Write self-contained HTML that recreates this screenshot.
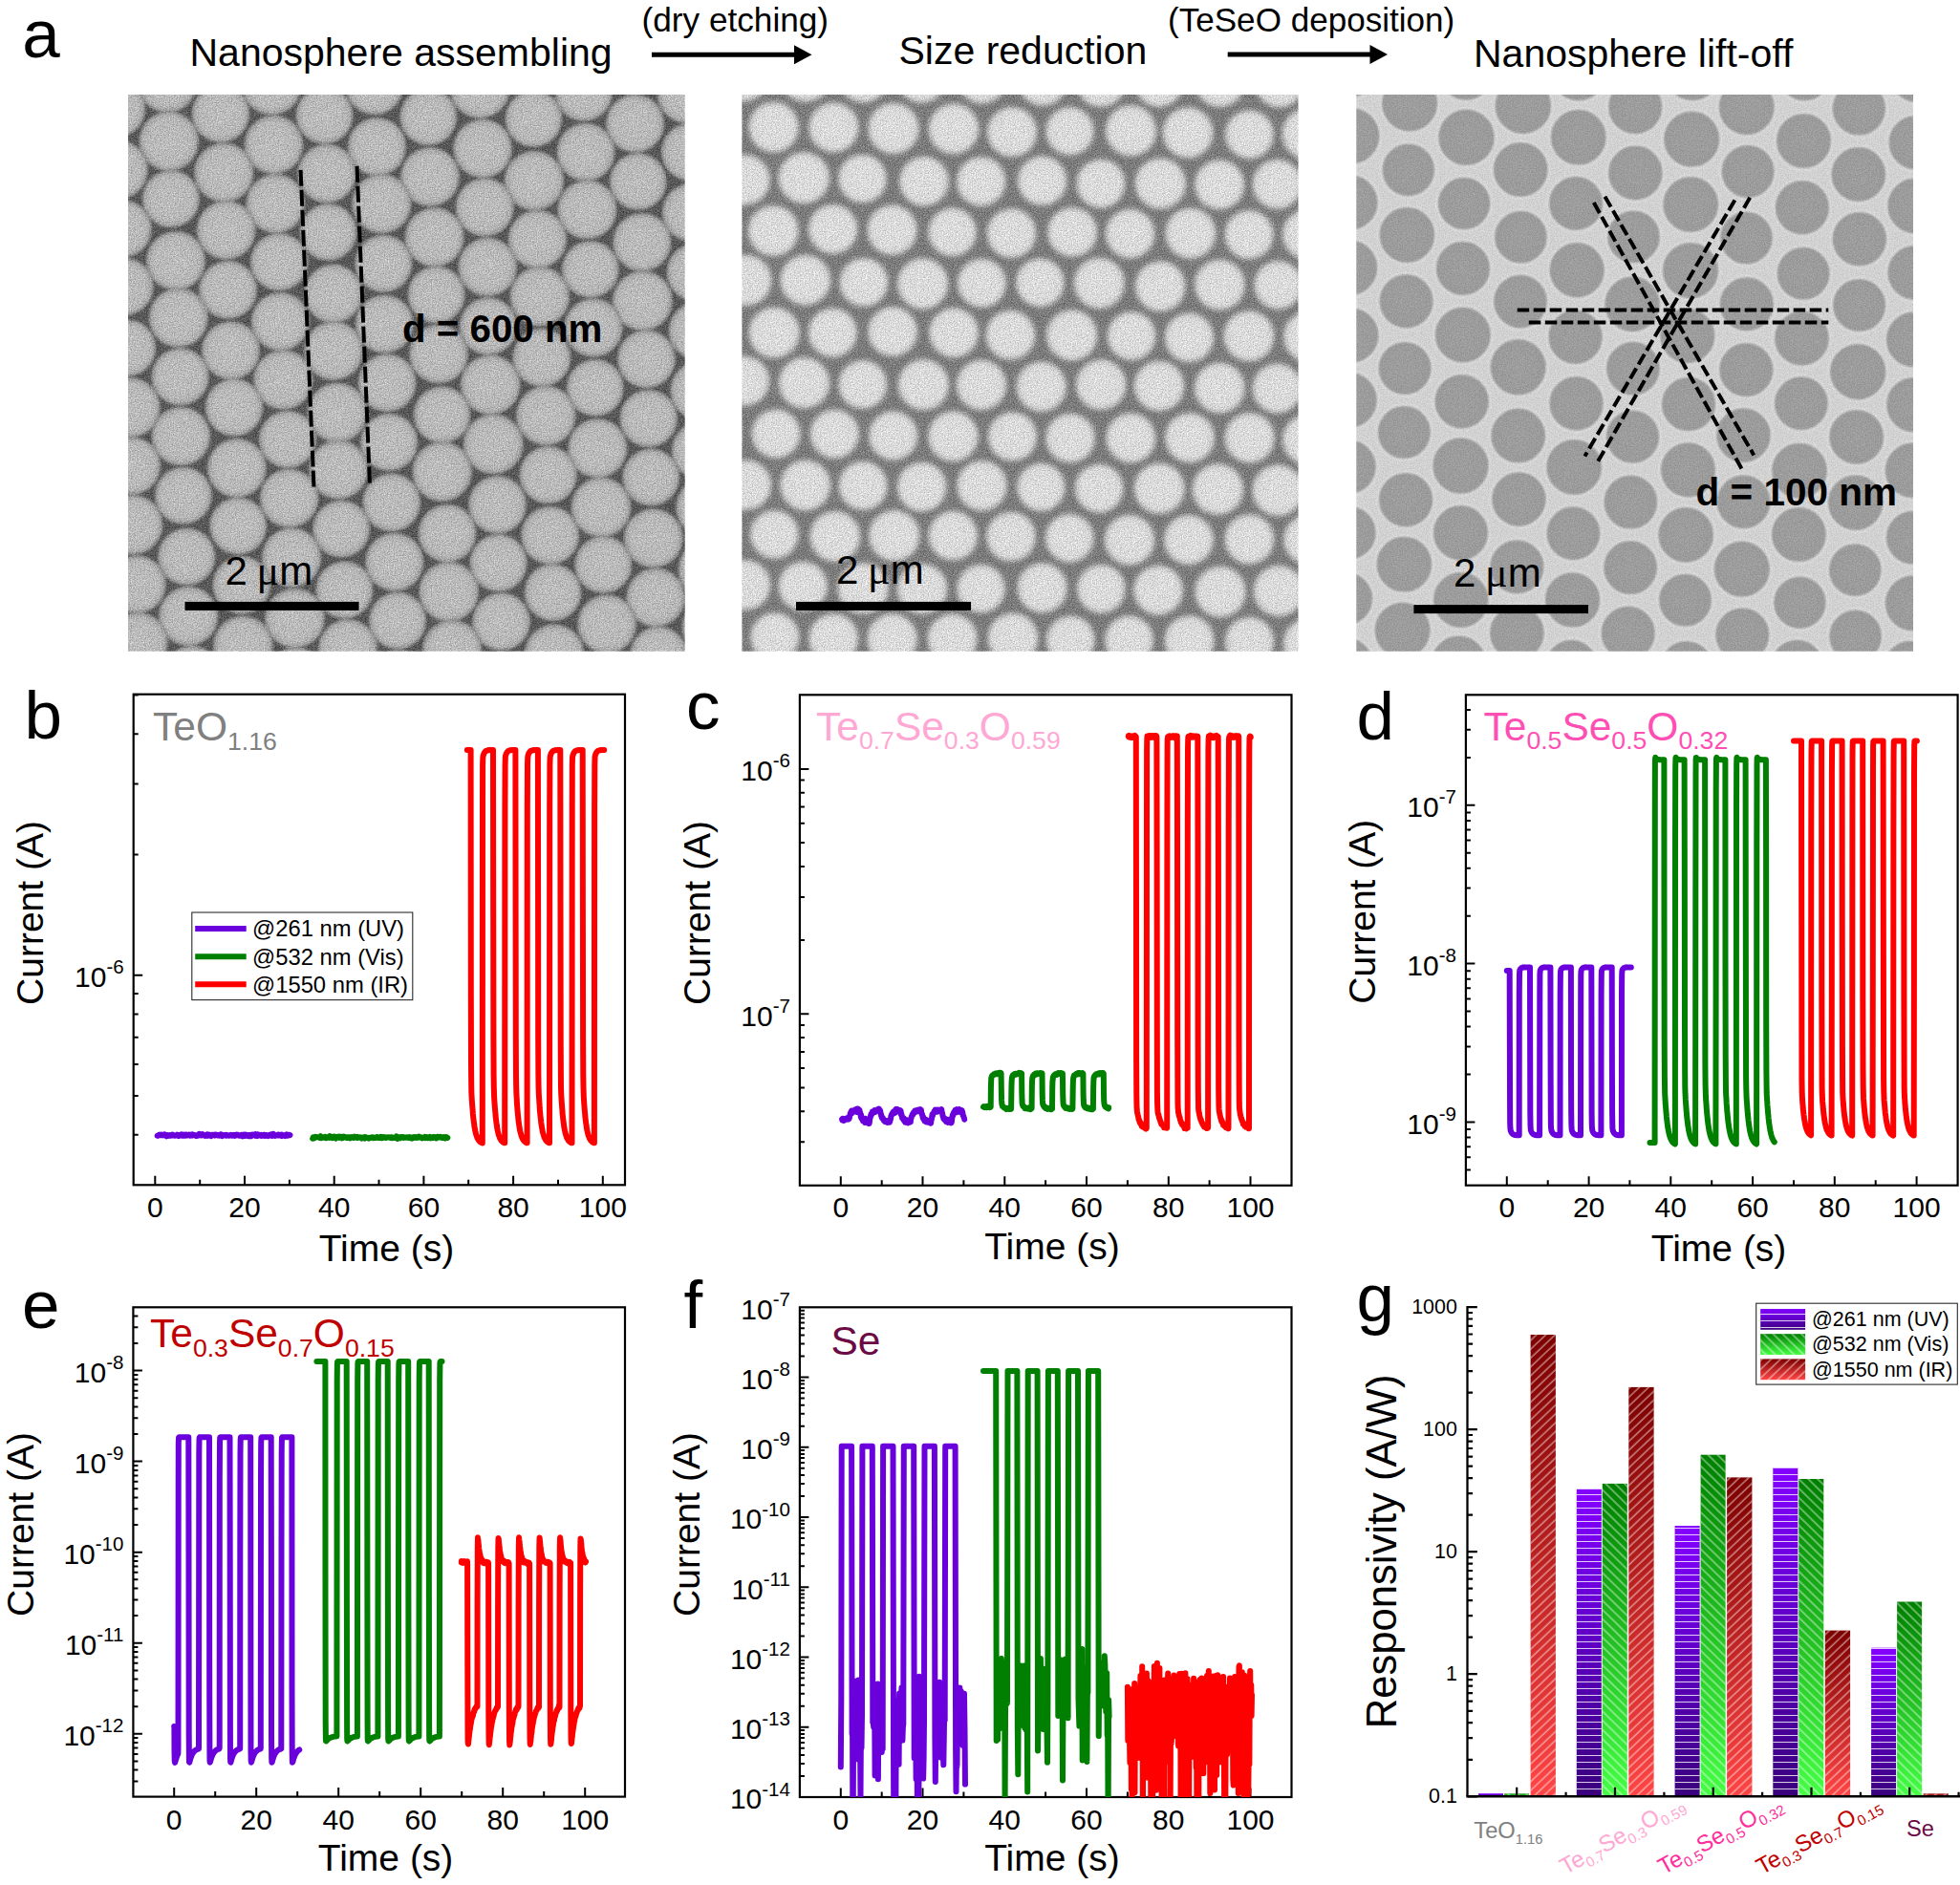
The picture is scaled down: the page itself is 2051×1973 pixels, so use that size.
<!DOCTYPE html>
<html><head><meta charset="utf-8"><title>Figure</title>
<style>
html,body{margin:0;padding:0;background:#fff;}
svg{display:block;font-family:"Liberation Sans", sans-serif;}
</style></head><body>
<svg width="2051" height="1973" viewBox="0 0 2051 1973">
<defs>
<filter id="nz1" x="0" y="0" width="100%" height="100%" filterUnits="objectBoundingBox" color-interpolation-filters="sRGB">
<feGaussianBlur in="SourceGraphic" stdDeviation="1.3" result="b"/>
<feTurbulence type="fractalNoise" baseFrequency="0.8" numOctaves="2" seed="3" result="t"/>
<feColorMatrix in="t" type="matrix" values="0 1.6 0 0 -0.3  0 1.6 0 0 -0.3  0 1.6 0 0 -0.3  0 0 0 0 1" result="n"/>
<feComposite in="b" in2="n" operator="arithmetic" k1="0" k2="1" k3="0.3" k4="-0.15"/>
</filter>
<filter id="nz2" x="0" y="0" width="100%" height="100%" filterUnits="objectBoundingBox" color-interpolation-filters="sRGB">
<feGaussianBlur in="SourceGraphic" stdDeviation="2.6" result="b"/>
<feTurbulence type="fractalNoise" baseFrequency="0.8" numOctaves="2" seed="7" result="t"/>
<feColorMatrix in="t" type="matrix" values="0 1.6 0 0 -0.3  0 1.6 0 0 -0.3  0 1.6 0 0 -0.3  0 0 0 0 1" result="n"/>
<feComposite in="b" in2="n" operator="arithmetic" k1="0" k2="1" k3="0.3" k4="-0.15"/>
</filter>
<filter id="nz3" x="0" y="0" width="100%" height="100%" filterUnits="objectBoundingBox" color-interpolation-filters="sRGB">
<feGaussianBlur in="SourceGraphic" stdDeviation="1.0" result="b"/>
<feTurbulence type="fractalNoise" baseFrequency="0.8" numOctaves="2" seed="11" result="t"/>
<feColorMatrix in="t" type="matrix" values="0 1.6 0 0 -0.3  0 1.6 0 0 -0.3  0 1.6 0 0 -0.3  0 0 0 0 1" result="n"/>
<feComposite in="b" in2="n" operator="arithmetic" k1="0" k2="1" k3="0.13" k4="-0.065"/>
</filter>
<clipPath id="clip0"><rect x="134.0" y="99.0" width="582.7" height="582.8"/></clipPath>
<clipPath id="clip1"><rect x="776.4" y="99.0" width="582.1" height="582.8"/></clipPath>
<clipPath id="clip2"><rect x="1419.3" y="99.0" width="582.7" height="582.8"/></clipPath>
<radialGradient id="sph1"><stop offset="0" stop-color="#bdbdbd"/><stop offset="0.74" stop-color="#b8b8b8"/><stop offset="0.9" stop-color="#a8a8a8"/><stop offset="1" stop-color="#808080"/></radialGradient>
<radialGradient id="sph2"><stop offset="0" stop-color="#dcdcdc"/><stop offset="0.8" stop-color="#d9d9d9"/><stop offset="1" stop-color="#c4c4c4"/></radialGradient>
<radialGradient id="sph3"><stop offset="0" stop-color="#9e9e9e"/><stop offset="0.9" stop-color="#9b9b9b"/><stop offset="1" stop-color="#929292"/></radialGradient>
<clipPath id="clipf"><rect x="836.9" y="1368.3" width="514.6" height="512.7"/></clipPath>
<linearGradient id="gp" x1="0" y1="0" x2="0" y2="1"><stop offset="0" stop-color="#8400ff"/><stop offset="0.35" stop-color="#6a00d8"/><stop offset="1" stop-color="#3a007c"/></linearGradient>
<linearGradient id="gg" x1="0" y1="0" x2="0" y2="1"><stop offset="0" stop-color="#007f00"/><stop offset="1" stop-color="#45ff45"/></linearGradient>
<linearGradient id="gr" x1="0" y1="0" x2="0" y2="1"><stop offset="0" stop-color="#7c0000"/><stop offset="1" stop-color="#ff4545"/></linearGradient>
<pattern id="hp" width="10" height="7" patternUnits="userSpaceOnUse"><path d="M0 3.5H10" stroke="#fff" stroke-width="1" stroke-opacity="0.8"/></pattern>
<pattern id="hg" width="6.9" height="6.9" patternUnits="userSpaceOnUse" patternTransform="rotate(44.4)"><path d="M0 3H6.9" stroke="#fff" stroke-width="1" stroke-opacity="0.75"/></pattern>
<pattern id="hr" width="6.7" height="6.7" patternUnits="userSpaceOnUse" patternTransform="rotate(-43.5)"><path d="M0 3H6.7" stroke="#fff" stroke-width="1" stroke-opacity="0.75"/></pattern>
</defs>
<rect width="2051" height="1973" fill="#fff"/>
<text x="23.2" y="60" font-size="71" fill="#000">a</text>
<text x="198.5" y="68.6" font-size="41" fill="#000">Nanosphere assembling</text>
<text x="671.5" y="33" font-size="35.2" fill="#000">(dry etching)</text>
<text x="940.5" y="67.3" font-size="41" fill="#000">Size reduction</text>
<text x="1222" y="33.4" font-size="35.1" fill="#000">(TeSeO deposition)</text>
<text x="1542" y="69.5" font-size="41" fill="#000">Nanosphere lift-off</text>
<path d="M682 57.2H833.5" stroke="#000" stroke-width="5" fill="none"/>
<path d="M849.5 57.2L831.0 47.2V67.2Z" fill="#000"/>
<path d="M1284.7 56.9H1436" stroke="#000" stroke-width="5" fill="none"/>
<path d="M1452 56.9L1433.5 46.9V66.9Z" fill="#000"/>
<g clip-path="url(#clip0)"><g filter="url(#nz1)">
<rect x="124.0" y="89.0" width="602.7" height="602.8" fill="#585858"/>
<circle cx="662.3" cy="67.2" r="31.4" fill="url(#sph1)"/>
<circle cx="718.4" cy="98.5" r="30.9" fill="url(#sph1)"/>
<circle cx="610.8" cy="96.8" r="30.4" fill="url(#sph1)"/>
<circle cx="664.6" cy="129.2" r="30.9" fill="url(#sph1)"/>
<circle cx="722.5" cy="159.0" r="30.9" fill="url(#sph1)"/>
<circle cx="502.2" cy="92.5" r="31.7" fill="url(#sph1)"/>
<circle cx="558.4" cy="124.2" r="30.2" fill="url(#sph1)"/>
<circle cx="613.0" cy="159.2" r="30.8" fill="url(#sph1)"/>
<circle cx="667.7" cy="190.0" r="30.2" fill="url(#sph1)"/>
<circle cx="723.5" cy="222.3" r="31.0" fill="url(#sph1)"/>
<circle cx="391.9" cy="89.9" r="30.6" fill="url(#sph1)"/>
<circle cx="448.3" cy="122.4" r="30.2" fill="url(#sph1)"/>
<circle cx="505.1" cy="155.5" r="31.2" fill="url(#sph1)"/>
<circle cx="558.9" cy="189.1" r="31.6" fill="url(#sph1)"/>
<circle cx="614.4" cy="219.4" r="31.4" fill="url(#sph1)"/>
<circle cx="671.8" cy="253.5" r="30.9" fill="url(#sph1)"/>
<circle cx="727.9" cy="285.0" r="30.7" fill="url(#sph1)"/>
<circle cx="284.2" cy="89.2" r="31.6" fill="url(#sph1)"/>
<circle cx="339.6" cy="120.7" r="30.3" fill="url(#sph1)"/>
<circle cx="394.5" cy="153.6" r="30.9" fill="url(#sph1)"/>
<circle cx="450.0" cy="185.1" r="31.3" fill="url(#sph1)"/>
<circle cx="507.2" cy="216.9" r="30.9" fill="url(#sph1)"/>
<circle cx="562.4" cy="250.4" r="31.0" fill="url(#sph1)"/>
<circle cx="617.8" cy="281.9" r="30.2" fill="url(#sph1)"/>
<circle cx="672.4" cy="314.8" r="31.8" fill="url(#sph1)"/>
<circle cx="729.8" cy="346.2" r="30.5" fill="url(#sph1)"/>
<circle cx="175.1" cy="86.9" r="31.4" fill="url(#sph1)"/>
<circle cx="230.9" cy="118.9" r="30.6" fill="url(#sph1)"/>
<circle cx="286.5" cy="151.5" r="31.1" fill="url(#sph1)"/>
<circle cx="342.1" cy="181.7" r="31.1" fill="url(#sph1)"/>
<circle cx="399.3" cy="213.2" r="31.5" fill="url(#sph1)"/>
<circle cx="454.6" cy="248.2" r="31.4" fill="url(#sph1)"/>
<circle cx="510.2" cy="279.4" r="31.1" fill="url(#sph1)"/>
<circle cx="564.8" cy="310.3" r="31.6" fill="url(#sph1)"/>
<circle cx="620.9" cy="343.0" r="31.0" fill="url(#sph1)"/>
<circle cx="676.4" cy="375.8" r="30.8" fill="url(#sph1)"/>
<circle cx="732.2" cy="408.9" r="31.2" fill="url(#sph1)"/>
<circle cx="121.9" cy="113.8" r="30.6" fill="url(#sph1)"/>
<circle cx="176.7" cy="147.8" r="31.6" fill="url(#sph1)"/>
<circle cx="234.3" cy="180.7" r="31.5" fill="url(#sph1)"/>
<circle cx="288.4" cy="213.1" r="31.3" fill="url(#sph1)"/>
<circle cx="343.5" cy="243.0" r="30.2" fill="url(#sph1)"/>
<circle cx="401.3" cy="275.9" r="30.4" fill="url(#sph1)"/>
<circle cx="456.6" cy="308.5" r="30.3" fill="url(#sph1)"/>
<circle cx="510.9" cy="341.4" r="30.5" fill="url(#sph1)"/>
<circle cx="566.9" cy="374.2" r="30.9" fill="url(#sph1)"/>
<circle cx="622.8" cy="405.8" r="30.2" fill="url(#sph1)"/>
<circle cx="678.7" cy="438.0" r="30.5" fill="url(#sph1)"/>
<circle cx="733.5" cy="471.7" r="31.0" fill="url(#sph1)"/>
<circle cx="123.7" cy="177.5" r="31.5" fill="url(#sph1)"/>
<circle cx="178.9" cy="208.1" r="30.4" fill="url(#sph1)"/>
<circle cx="236.7" cy="240.8" r="31.3" fill="url(#sph1)"/>
<circle cx="292.2" cy="274.2" r="30.6" fill="url(#sph1)"/>
<circle cx="348.8" cy="307.3" r="31.0" fill="url(#sph1)"/>
<circle cx="402.3" cy="339.1" r="30.8" fill="url(#sph1)"/>
<circle cx="459.0" cy="370.5" r="31.2" fill="url(#sph1)"/>
<circle cx="513.2" cy="402.7" r="31.7" fill="url(#sph1)"/>
<circle cx="571.3" cy="435.0" r="31.6" fill="url(#sph1)"/>
<circle cx="625.3" cy="469.2" r="31.4" fill="url(#sph1)"/>
<circle cx="681.3" cy="499.5" r="30.2" fill="url(#sph1)"/>
<circle cx="738.4" cy="531.1" r="31.5" fill="url(#sph1)"/>
<circle cx="128.6" cy="239.4" r="30.5" fill="url(#sph1)"/>
<circle cx="184.0" cy="272.9" r="31.3" fill="url(#sph1)"/>
<circle cx="238.6" cy="303.4" r="30.8" fill="url(#sph1)"/>
<circle cx="293.4" cy="336.6" r="30.9" fill="url(#sph1)"/>
<circle cx="349.1" cy="367.2" r="31.3" fill="url(#sph1)"/>
<circle cx="405.1" cy="400.7" r="30.7" fill="url(#sph1)"/>
<circle cx="462.5" cy="434.2" r="30.2" fill="url(#sph1)"/>
<circle cx="516.2" cy="464.8" r="31.8" fill="url(#sph1)"/>
<circle cx="573.6" cy="497.1" r="30.5" fill="url(#sph1)"/>
<circle cx="629.0" cy="530.9" r="31.7" fill="url(#sph1)"/>
<circle cx="683.7" cy="563.3" r="31.3" fill="url(#sph1)"/>
<circle cx="739.9" cy="596.0" r="30.6" fill="url(#sph1)"/>
<circle cx="130.5" cy="300.0" r="30.5" fill="url(#sph1)"/>
<circle cx="186.7" cy="332.6" r="31.4" fill="url(#sph1)"/>
<circle cx="241.5" cy="366.8" r="30.8" fill="url(#sph1)"/>
<circle cx="296.4" cy="397.5" r="31.6" fill="url(#sph1)"/>
<circle cx="352.9" cy="431.8" r="31.6" fill="url(#sph1)"/>
<circle cx="407.2" cy="462.9" r="30.4" fill="url(#sph1)"/>
<circle cx="462.6" cy="493.7" r="31.6" fill="url(#sph1)"/>
<circle cx="520.6" cy="528.3" r="30.7" fill="url(#sph1)"/>
<circle cx="575.7" cy="560.4" r="30.8" fill="url(#sph1)"/>
<circle cx="631.3" cy="591.1" r="30.3" fill="url(#sph1)"/>
<circle cx="686.1" cy="625.4" r="31.1" fill="url(#sph1)"/>
<circle cx="743.8" cy="656.4" r="30.6" fill="url(#sph1)"/>
<circle cx="133.3" cy="364.2" r="30.2" fill="url(#sph1)"/>
<circle cx="188.6" cy="394.3" r="30.4" fill="url(#sph1)"/>
<circle cx="245.0" cy="426.4" r="30.6" fill="url(#sph1)"/>
<circle cx="301.0" cy="459.9" r="30.4" fill="url(#sph1)"/>
<circle cx="354.2" cy="491.6" r="31.4" fill="url(#sph1)"/>
<circle cx="409.7" cy="525.9" r="30.8" fill="url(#sph1)"/>
<circle cx="468.0" cy="558.2" r="30.7" fill="url(#sph1)"/>
<circle cx="521.6" cy="589.2" r="30.4" fill="url(#sph1)"/>
<circle cx="578.5" cy="620.2" r="30.2" fill="url(#sph1)"/>
<circle cx="635.1" cy="653.3" r="31.2" fill="url(#sph1)"/>
<circle cx="689.2" cy="685.6" r="30.3" fill="url(#sph1)"/>
<circle cx="136.2" cy="426.6" r="31.8" fill="url(#sph1)"/>
<circle cx="189.5" cy="456.6" r="31.2" fill="url(#sph1)"/>
<circle cx="247.8" cy="489.9" r="31.3" fill="url(#sph1)"/>
<circle cx="302.6" cy="521.4" r="31.1" fill="url(#sph1)"/>
<circle cx="357.2" cy="553.6" r="30.3" fill="url(#sph1)"/>
<circle cx="412.8" cy="588.2" r="30.9" fill="url(#sph1)"/>
<circle cx="469.7" cy="619.4" r="31.7" fill="url(#sph1)"/>
<circle cx="524.6" cy="650.7" r="30.7" fill="url(#sph1)"/>
<circle cx="580.1" cy="684.6" r="31.6" fill="url(#sph1)"/>
<circle cx="635.7" cy="715.4" r="31.1" fill="url(#sph1)"/>
<circle cx="137.8" cy="487.5" r="30.6" fill="url(#sph1)"/>
<circle cx="191.9" cy="518.7" r="30.3" fill="url(#sph1)"/>
<circle cx="249.2" cy="550.5" r="30.3" fill="url(#sph1)"/>
<circle cx="305.1" cy="583.5" r="31.5" fill="url(#sph1)"/>
<circle cx="360.4" cy="617.5" r="30.4" fill="url(#sph1)"/>
<circle cx="416.1" cy="649.6" r="30.3" fill="url(#sph1)"/>
<circle cx="473.1" cy="680.0" r="31.4" fill="url(#sph1)"/>
<circle cx="529.0" cy="714.3" r="30.7" fill="url(#sph1)"/>
<circle cx="139.0" cy="549.2" r="31.7" fill="url(#sph1)"/>
<circle cx="195.3" cy="582.7" r="30.4" fill="url(#sph1)"/>
<circle cx="252.8" cy="612.4" r="30.7" fill="url(#sph1)"/>
<circle cx="308.5" cy="647.0" r="31.7" fill="url(#sph1)"/>
<circle cx="364.0" cy="679.1" r="31.3" fill="url(#sph1)"/>
<circle cx="417.7" cy="710.5" r="30.5" fill="url(#sph1)"/>
<circle cx="143.4" cy="611.7" r="30.6" fill="url(#sph1)"/>
<circle cx="197.2" cy="644.9" r="31.5" fill="url(#sph1)"/>
<circle cx="254.3" cy="675.9" r="31.6" fill="url(#sph1)"/>
<circle cx="309.8" cy="707.8" r="30.7" fill="url(#sph1)"/>
<circle cx="144.7" cy="671.8" r="31.2" fill="url(#sph1)"/>
<circle cx="200.9" cy="705.7" r="30.3" fill="url(#sph1)"/>
</g></g>
<g clip-path="url(#clip1)"><g filter="url(#nz2)">
<rect x="766.4" y="89.0" width="602.1" height="602.8" fill="#7b7b7b"/>
<circle cx="750.0" cy="667.1" r="25.6" fill="url(#sph2)"/>
<circle cx="747.4" cy="560.3" r="26.7" fill="url(#sph2)"/>
<circle cx="780.1" cy="612.3" r="26.5" fill="url(#sph2)"/>
<circle cx="810.9" cy="666.7" r="25.8" fill="url(#sph2)"/>
<circle cx="748.4" cy="452.5" r="26.7" fill="url(#sph2)"/>
<circle cx="781.1" cy="507.7" r="26.4" fill="url(#sph2)"/>
<circle cx="810.4" cy="559.3" r="25.6" fill="url(#sph2)"/>
<circle cx="840.2" cy="613.5" r="26.0" fill="url(#sph2)"/>
<circle cx="872.2" cy="668.4" r="26.3" fill="url(#sph2)"/>
<circle cx="748.8" cy="345.5" r="25.5" fill="url(#sph2)"/>
<circle cx="779.1" cy="398.8" r="26.3" fill="url(#sph2)"/>
<circle cx="812.1" cy="454.0" r="25.8" fill="url(#sph2)"/>
<circle cx="842.8" cy="508.0" r="26.7" fill="url(#sph2)"/>
<circle cx="873.8" cy="561.5" r="26.8" fill="url(#sph2)"/>
<circle cx="903.2" cy="615.7" r="27.0" fill="url(#sph2)"/>
<circle cx="933.6" cy="668.7" r="26.6" fill="url(#sph2)"/>
<circle cx="748.5" cy="239.9" r="26.3" fill="url(#sph2)"/>
<circle cx="780.9" cy="293.4" r="26.8" fill="url(#sph2)"/>
<circle cx="810.2" cy="348.1" r="26.9" fill="url(#sph2)"/>
<circle cx="841.5" cy="400.8" r="27.0" fill="url(#sph2)"/>
<circle cx="873.3" cy="454.2" r="25.9" fill="url(#sph2)"/>
<circle cx="903.1" cy="508.4" r="25.8" fill="url(#sph2)"/>
<circle cx="935.8" cy="560.7" r="27.0" fill="url(#sph2)"/>
<circle cx="965.0" cy="616.4" r="26.6" fill="url(#sph2)"/>
<circle cx="996.6" cy="668.7" r="26.5" fill="url(#sph2)"/>
<circle cx="748.9" cy="132.7" r="25.8" fill="url(#sph2)"/>
<circle cx="779.6" cy="188.2" r="26.5" fill="url(#sph2)"/>
<circle cx="809.3" cy="241.5" r="26.7" fill="url(#sph2)"/>
<circle cx="842.8" cy="293.2" r="26.7" fill="url(#sph2)"/>
<circle cx="871.3" cy="348.2" r="25.9" fill="url(#sph2)"/>
<circle cx="902.8" cy="402.4" r="25.7" fill="url(#sph2)"/>
<circle cx="934.7" cy="456.0" r="25.9" fill="url(#sph2)"/>
<circle cx="964.7" cy="509.6" r="26.2" fill="url(#sph2)"/>
<circle cx="997.3" cy="560.7" r="26.1" fill="url(#sph2)"/>
<circle cx="1026.6" cy="616.2" r="25.6" fill="url(#sph2)"/>
<circle cx="1060.0" cy="667.9" r="26.7" fill="url(#sph2)"/>
<circle cx="778.2" cy="79.7" r="26.8" fill="url(#sph2)"/>
<circle cx="809.6" cy="133.1" r="26.6" fill="url(#sph2)"/>
<circle cx="841.3" cy="186.2" r="27.1" fill="url(#sph2)"/>
<circle cx="871.6" cy="239.8" r="26.1" fill="url(#sph2)"/>
<circle cx="903.9" cy="295.5" r="25.7" fill="url(#sph2)"/>
<circle cx="934.1" cy="347.0" r="26.2" fill="url(#sph2)"/>
<circle cx="966.4" cy="402.7" r="26.9" fill="url(#sph2)"/>
<circle cx="997.4" cy="456.7" r="26.6" fill="url(#sph2)"/>
<circle cx="1027.5" cy="508.4" r="26.6" fill="url(#sph2)"/>
<circle cx="1058.0" cy="561.6" r="26.2" fill="url(#sph2)"/>
<circle cx="1090.7" cy="615.3" r="26.4" fill="url(#sph2)"/>
<circle cx="1120.3" cy="670.0" r="25.7" fill="url(#sph2)"/>
<circle cx="843.0" cy="80.4" r="26.5" fill="url(#sph2)"/>
<circle cx="872.4" cy="133.3" r="26.4" fill="url(#sph2)"/>
<circle cx="902.5" cy="187.0" r="25.6" fill="url(#sph2)"/>
<circle cx="933.6" cy="240.7" r="26.5" fill="url(#sph2)"/>
<circle cx="965.6" cy="297.0" r="27.0" fill="url(#sph2)"/>
<circle cx="998.1" cy="348.3" r="26.2" fill="url(#sph2)"/>
<circle cx="1026.9" cy="403.0" r="26.5" fill="url(#sph2)"/>
<circle cx="1059.5" cy="456.9" r="25.9" fill="url(#sph2)"/>
<circle cx="1089.4" cy="510.0" r="25.5" fill="url(#sph2)"/>
<circle cx="1119.2" cy="563.2" r="25.7" fill="url(#sph2)"/>
<circle cx="1152.3" cy="616.3" r="25.7" fill="url(#sph2)"/>
<circle cx="1181.6" cy="669.9" r="25.8" fill="url(#sph2)"/>
<circle cx="903.7" cy="81.7" r="26.0" fill="url(#sph2)"/>
<circle cx="935.0" cy="134.5" r="27.0" fill="url(#sph2)"/>
<circle cx="967.0" cy="189.7" r="26.2" fill="url(#sph2)"/>
<circle cx="996.6" cy="242.8" r="25.6" fill="url(#sph2)"/>
<circle cx="1027.4" cy="296.3" r="25.8" fill="url(#sph2)"/>
<circle cx="1057.4" cy="350.7" r="26.1" fill="url(#sph2)"/>
<circle cx="1089.7" cy="404.7" r="26.5" fill="url(#sph2)"/>
<circle cx="1120.0" cy="458.5" r="26.1" fill="url(#sph2)"/>
<circle cx="1150.2" cy="511.2" r="25.7" fill="url(#sph2)"/>
<circle cx="1182.0" cy="565.2" r="26.6" fill="url(#sph2)"/>
<circle cx="1212.1" cy="617.7" r="26.2" fill="url(#sph2)"/>
<circle cx="1244.6" cy="670.5" r="26.4" fill="url(#sph2)"/>
<circle cx="964.3" cy="81.9" r="26.1" fill="url(#sph2)"/>
<circle cx="997.9" cy="134.8" r="26.7" fill="url(#sph2)"/>
<circle cx="1026.7" cy="189.9" r="26.1" fill="url(#sph2)"/>
<circle cx="1058.5" cy="244.1" r="26.1" fill="url(#sph2)"/>
<circle cx="1088.5" cy="295.8" r="25.6" fill="url(#sph2)"/>
<circle cx="1121.7" cy="350.9" r="27.0" fill="url(#sph2)"/>
<circle cx="1152.2" cy="402.7" r="26.6" fill="url(#sph2)"/>
<circle cx="1183.4" cy="458.4" r="26.3" fill="url(#sph2)"/>
<circle cx="1213.2" cy="511.2" r="26.8" fill="url(#sph2)"/>
<circle cx="1243.9" cy="565.0" r="26.3" fill="url(#sph2)"/>
<circle cx="1277.0" cy="619.4" r="27.0" fill="url(#sph2)"/>
<circle cx="1307.6" cy="671.5" r="25.9" fill="url(#sph2)"/>
<circle cx="1027.6" cy="82.5" r="26.2" fill="url(#sph2)"/>
<circle cx="1059.1" cy="138.1" r="26.4" fill="url(#sph2)"/>
<circle cx="1090.6" cy="189.2" r="26.1" fill="url(#sph2)"/>
<circle cx="1122.1" cy="242.9" r="26.2" fill="url(#sph2)"/>
<circle cx="1150.3" cy="296.4" r="26.9" fill="url(#sph2)"/>
<circle cx="1184.1" cy="351.6" r="25.7" fill="url(#sph2)"/>
<circle cx="1213.0" cy="404.0" r="26.6" fill="url(#sph2)"/>
<circle cx="1245.1" cy="458.2" r="26.3" fill="url(#sph2)"/>
<circle cx="1274.4" cy="512.1" r="27.0" fill="url(#sph2)"/>
<circle cx="1307.4" cy="564.4" r="26.3" fill="url(#sph2)"/>
<circle cx="1338.2" cy="618.5" r="26.9" fill="url(#sph2)"/>
<circle cx="1368.5" cy="673.4" r="26.1" fill="url(#sph2)"/>
<circle cx="1091.1" cy="84.7" r="26.4" fill="url(#sph2)"/>
<circle cx="1119.5" cy="137.3" r="25.5" fill="url(#sph2)"/>
<circle cx="1151.9" cy="192.2" r="25.8" fill="url(#sph2)"/>
<circle cx="1182.6" cy="244.6" r="26.1" fill="url(#sph2)"/>
<circle cx="1214.2" cy="299.6" r="26.6" fill="url(#sph2)"/>
<circle cx="1244.5" cy="353.3" r="26.0" fill="url(#sph2)"/>
<circle cx="1276.3" cy="406.0" r="26.7" fill="url(#sph2)"/>
<circle cx="1307.7" cy="458.3" r="26.5" fill="url(#sph2)"/>
<circle cx="1337.3" cy="513.2" r="27.1" fill="url(#sph2)"/>
<circle cx="1369.0" cy="564.8" r="26.2" fill="url(#sph2)"/>
<circle cx="1152.2" cy="85.7" r="26.5" fill="url(#sph2)"/>
<circle cx="1183.5" cy="136.8" r="27.0" fill="url(#sph2)"/>
<circle cx="1214.3" cy="192.1" r="26.9" fill="url(#sph2)"/>
<circle cx="1245.8" cy="244.2" r="26.8" fill="url(#sph2)"/>
<circle cx="1276.4" cy="298.1" r="26.7" fill="url(#sph2)"/>
<circle cx="1306.9" cy="351.7" r="26.8" fill="url(#sph2)"/>
<circle cx="1336.5" cy="406.5" r="26.2" fill="url(#sph2)"/>
<circle cx="1367.9" cy="460.0" r="26.2" fill="url(#sph2)"/>
<circle cx="1212.7" cy="86.7" r="25.6" fill="url(#sph2)"/>
<circle cx="1243.1" cy="138.9" r="26.8" fill="url(#sph2)"/>
<circle cx="1276.1" cy="193.3" r="26.3" fill="url(#sph2)"/>
<circle cx="1307.1" cy="245.6" r="25.9" fill="url(#sph2)"/>
<circle cx="1337.6" cy="298.3" r="25.6" fill="url(#sph2)"/>
<circle cx="1369.4" cy="352.3" r="26.7" fill="url(#sph2)"/>
<circle cx="1276.5" cy="85.7" r="26.6" fill="url(#sph2)"/>
<circle cx="1307.5" cy="140.7" r="25.7" fill="url(#sph2)"/>
<circle cx="1336.6" cy="192.8" r="26.2" fill="url(#sph2)"/>
<circle cx="1368.0" cy="245.3" r="26.4" fill="url(#sph2)"/>
<circle cx="1339.0" cy="86.3" r="26.4" fill="url(#sph2)"/>
<circle cx="1368.2" cy="140.1" r="26.9" fill="url(#sph2)"/>
</g></g>
<g clip-path="url(#clip2)"><g filter="url(#nz3)">
<rect x="1409.3" y="89.0" width="602.7" height="602.8" fill="#d1d1d1"/>
<circle cx="2005.4" cy="78.9" r="29.0" fill="url(#sph3)" stroke="#e0e0e0" stroke-width="2"/>
<circle cx="1888.4" cy="78.2" r="28.4" fill="url(#sph3)" stroke="#e0e0e0" stroke-width="2"/>
<circle cx="1945.3" cy="113.8" r="28.8" fill="url(#sph3)" stroke="#e0e0e0" stroke-width="2"/>
<circle cx="2004.7" cy="149.3" r="29.2" fill="url(#sph3)" stroke="#e0e0e0" stroke-width="2"/>
<circle cx="1771.0" cy="76.7" r="29.6" fill="url(#sph3)" stroke="#e0e0e0" stroke-width="2"/>
<circle cx="1827.7" cy="112.2" r="30.0" fill="url(#sph3)" stroke="#e0e0e0" stroke-width="2"/>
<circle cx="1887.5" cy="147.5" r="29.6" fill="url(#sph3)" stroke="#e0e0e0" stroke-width="2"/>
<circle cx="1944.8" cy="182.6" r="29.5" fill="url(#sph3)" stroke="#e0e0e0" stroke-width="2"/>
<circle cx="2004.2" cy="215.4" r="30.0" fill="url(#sph3)" stroke="#e0e0e0" stroke-width="2"/>
<circle cx="1651.8" cy="76.5" r="30.1" fill="url(#sph3)" stroke="#e0e0e0" stroke-width="2"/>
<circle cx="1711.2" cy="112.1" r="29.1" fill="url(#sph3)" stroke="#e0e0e0" stroke-width="2"/>
<circle cx="1770.2" cy="145.6" r="30.2" fill="url(#sph3)" stroke="#e0e0e0" stroke-width="2"/>
<circle cx="1829.1" cy="179.6" r="28.6" fill="url(#sph3)" stroke="#e0e0e0" stroke-width="2"/>
<circle cx="1885.9" cy="217.2" r="29.2" fill="url(#sph3)" stroke="#e0e0e0" stroke-width="2"/>
<circle cx="1945.8" cy="250.2" r="29.3" fill="url(#sph3)" stroke="#e0e0e0" stroke-width="2"/>
<circle cx="2003.8" cy="285.4" r="29.5" fill="url(#sph3)" stroke="#e0e0e0" stroke-width="2"/>
<circle cx="1534.1" cy="76.0" r="29.7" fill="url(#sph3)" stroke="#e0e0e0" stroke-width="2"/>
<circle cx="1593.8" cy="110.9" r="30.3" fill="url(#sph3)" stroke="#e0e0e0" stroke-width="2"/>
<circle cx="1651.7" cy="143.8" r="30.0" fill="url(#sph3)" stroke="#e0e0e0" stroke-width="2"/>
<circle cx="1711.3" cy="181.0" r="29.4" fill="url(#sph3)" stroke="#e0e0e0" stroke-width="2"/>
<circle cx="1769.2" cy="213.9" r="30.0" fill="url(#sph3)" stroke="#e0e0e0" stroke-width="2"/>
<circle cx="1827.5" cy="249.2" r="28.4" fill="url(#sph3)" stroke="#e0e0e0" stroke-width="2"/>
<circle cx="1887.1" cy="286.3" r="28.5" fill="url(#sph3)" stroke="#e0e0e0" stroke-width="2"/>
<circle cx="1945.6" cy="319.5" r="28.6" fill="url(#sph3)" stroke="#e0e0e0" stroke-width="2"/>
<circle cx="2002.8" cy="355.6" r="30.0" fill="url(#sph3)" stroke="#e0e0e0" stroke-width="2"/>
<circle cx="1414.3" cy="74.1" r="28.4" fill="url(#sph3)" stroke="#e0e0e0" stroke-width="2"/>
<circle cx="1475.1" cy="108.3" r="30.1" fill="url(#sph3)" stroke="#e0e0e0" stroke-width="2"/>
<circle cx="1534.5" cy="143.8" r="30.3" fill="url(#sph3)" stroke="#e0e0e0" stroke-width="2"/>
<circle cx="1591.2" cy="177.5" r="29.5" fill="url(#sph3)" stroke="#e0e0e0" stroke-width="2"/>
<circle cx="1649.1" cy="212.9" r="29.1" fill="url(#sph3)" stroke="#e0e0e0" stroke-width="2"/>
<circle cx="1709.5" cy="247.8" r="28.4" fill="url(#sph3)" stroke="#e0e0e0" stroke-width="2"/>
<circle cx="1769.0" cy="283.2" r="30.2" fill="url(#sph3)" stroke="#e0e0e0" stroke-width="2"/>
<circle cx="1827.8" cy="318.4" r="29.2" fill="url(#sph3)" stroke="#e0e0e0" stroke-width="2"/>
<circle cx="1885.4" cy="354.2" r="29.5" fill="url(#sph3)" stroke="#e0e0e0" stroke-width="2"/>
<circle cx="1944.2" cy="389.2" r="30.2" fill="url(#sph3)" stroke="#e0e0e0" stroke-width="2"/>
<circle cx="2002.7" cy="423.6" r="29.7" fill="url(#sph3)" stroke="#e0e0e0" stroke-width="2"/>
<circle cx="1414.2" cy="142.2" r="30.3" fill="url(#sph3)" stroke="#e0e0e0" stroke-width="2"/>
<circle cx="1473.8" cy="177.9" r="28.3" fill="url(#sph3)" stroke="#e0e0e0" stroke-width="2"/>
<circle cx="1532.1" cy="213.0" r="28.3" fill="url(#sph3)" stroke="#e0e0e0" stroke-width="2"/>
<circle cx="1591.4" cy="248.2" r="28.4" fill="url(#sph3)" stroke="#e0e0e0" stroke-width="2"/>
<circle cx="1650.2" cy="282.7" r="29.7" fill="url(#sph3)" stroke="#e0e0e0" stroke-width="2"/>
<circle cx="1708.1" cy="318.4" r="29.8" fill="url(#sph3)" stroke="#e0e0e0" stroke-width="2"/>
<circle cx="1765.8" cy="351.5" r="29.7" fill="url(#sph3)" stroke="#e0e0e0" stroke-width="2"/>
<circle cx="1827.3" cy="387.1" r="29.2" fill="url(#sph3)" stroke="#e0e0e0" stroke-width="2"/>
<circle cx="1884.9" cy="422.3" r="29.0" fill="url(#sph3)" stroke="#e0e0e0" stroke-width="2"/>
<circle cx="1942.7" cy="457.4" r="29.5" fill="url(#sph3)" stroke="#e0e0e0" stroke-width="2"/>
<circle cx="2001.4" cy="492.4" r="29.8" fill="url(#sph3)" stroke="#e0e0e0" stroke-width="2"/>
<circle cx="1412.9" cy="212.0" r="29.8" fill="url(#sph3)" stroke="#e0e0e0" stroke-width="2"/>
<circle cx="1472.4" cy="246.0" r="29.9" fill="url(#sph3)" stroke="#e0e0e0" stroke-width="2"/>
<circle cx="1530.9" cy="280.9" r="29.2" fill="url(#sph3)" stroke="#e0e0e0" stroke-width="2"/>
<circle cx="1591.0" cy="315.6" r="28.9" fill="url(#sph3)" stroke="#e0e0e0" stroke-width="2"/>
<circle cx="1648.6" cy="352.8" r="29.2" fill="url(#sph3)" stroke="#e0e0e0" stroke-width="2"/>
<circle cx="1708.9" cy="385.8" r="29.0" fill="url(#sph3)" stroke="#e0e0e0" stroke-width="2"/>
<circle cx="1767.0" cy="423.0" r="29.2" fill="url(#sph3)" stroke="#e0e0e0" stroke-width="2"/>
<circle cx="1824.4" cy="455.7" r="29.4" fill="url(#sph3)" stroke="#e0e0e0" stroke-width="2"/>
<circle cx="1883.0" cy="492.7" r="30.0" fill="url(#sph3)" stroke="#e0e0e0" stroke-width="2"/>
<circle cx="1941.7" cy="526.1" r="29.9" fill="url(#sph3)" stroke="#e0e0e0" stroke-width="2"/>
<circle cx="2001.7" cy="562.7" r="29.0" fill="url(#sph3)" stroke="#e0e0e0" stroke-width="2"/>
<circle cx="1412.5" cy="280.2" r="29.9" fill="url(#sph3)" stroke="#e0e0e0" stroke-width="2"/>
<circle cx="1471.6" cy="315.3" r="29.1" fill="url(#sph3)" stroke="#e0e0e0" stroke-width="2"/>
<circle cx="1530.8" cy="350.5" r="30.1" fill="url(#sph3)" stroke="#e0e0e0" stroke-width="2"/>
<circle cx="1588.7" cy="384.3" r="30.2" fill="url(#sph3)" stroke="#e0e0e0" stroke-width="2"/>
<circle cx="1649.5" cy="422.3" r="29.2" fill="url(#sph3)" stroke="#e0e0e0" stroke-width="2"/>
<circle cx="1708.5" cy="457.1" r="28.7" fill="url(#sph3)" stroke="#e0e0e0" stroke-width="2"/>
<circle cx="1766.5" cy="491.8" r="29.6" fill="url(#sph3)" stroke="#e0e0e0" stroke-width="2"/>
<circle cx="1824.6" cy="525.2" r="29.0" fill="url(#sph3)" stroke="#e0e0e0" stroke-width="2"/>
<circle cx="1882.4" cy="559.5" r="29.5" fill="url(#sph3)" stroke="#e0e0e0" stroke-width="2"/>
<circle cx="1941.3" cy="596.7" r="28.4" fill="url(#sph3)" stroke="#e0e0e0" stroke-width="2"/>
<circle cx="2001.8" cy="631.4" r="30.1" fill="url(#sph3)" stroke="#e0e0e0" stroke-width="2"/>
<circle cx="1414.1" cy="351.0" r="29.5" fill="url(#sph3)" stroke="#e0e0e0" stroke-width="2"/>
<circle cx="1470.1" cy="385.5" r="28.6" fill="url(#sph3)" stroke="#e0e0e0" stroke-width="2"/>
<circle cx="1529.7" cy="420.3" r="29.3" fill="url(#sph3)" stroke="#e0e0e0" stroke-width="2"/>
<circle cx="1588.7" cy="456.1" r="29.5" fill="url(#sph3)" stroke="#e0e0e0" stroke-width="2"/>
<circle cx="1647.2" cy="489.1" r="30.0" fill="url(#sph3)" stroke="#e0e0e0" stroke-width="2"/>
<circle cx="1706.3" cy="525.6" r="29.0" fill="url(#sph3)" stroke="#e0e0e0" stroke-width="2"/>
<circle cx="1764.2" cy="559.9" r="29.9" fill="url(#sph3)" stroke="#e0e0e0" stroke-width="2"/>
<circle cx="1822.8" cy="595.7" r="30.1" fill="url(#sph3)" stroke="#e0e0e0" stroke-width="2"/>
<circle cx="1883.4" cy="630.8" r="28.3" fill="url(#sph3)" stroke="#e0e0e0" stroke-width="2"/>
<circle cx="1941.6" cy="665.9" r="28.4" fill="url(#sph3)" stroke="#e0e0e0" stroke-width="2"/>
<circle cx="1999.2" cy="699.1" r="29.4" fill="url(#sph3)" stroke="#e0e0e0" stroke-width="2"/>
<circle cx="1412.0" cy="418.7" r="29.9" fill="url(#sph3)" stroke="#e0e0e0" stroke-width="2"/>
<circle cx="1469.4" cy="452.5" r="28.6" fill="url(#sph3)" stroke="#e0e0e0" stroke-width="2"/>
<circle cx="1528.5" cy="487.5" r="30.2" fill="url(#sph3)" stroke="#e0e0e0" stroke-width="2"/>
<circle cx="1589.4" cy="522.6" r="29.3" fill="url(#sph3)" stroke="#e0e0e0" stroke-width="2"/>
<circle cx="1646.4" cy="558.2" r="29.0" fill="url(#sph3)" stroke="#e0e0e0" stroke-width="2"/>
<circle cx="1706.1" cy="594.1" r="29.0" fill="url(#sph3)" stroke="#e0e0e0" stroke-width="2"/>
<circle cx="1763.5" cy="628.3" r="28.5" fill="url(#sph3)" stroke="#e0e0e0" stroke-width="2"/>
<circle cx="1823.3" cy="664.4" r="29.1" fill="url(#sph3)" stroke="#e0e0e0" stroke-width="2"/>
<circle cx="1880.5" cy="697.8" r="29.0" fill="url(#sph3)" stroke="#e0e0e0" stroke-width="2"/>
<circle cx="1411.8" cy="488.6" r="29.1" fill="url(#sph3)" stroke="#e0e0e0" stroke-width="2"/>
<circle cx="1471.1" cy="523.2" r="29.2" fill="url(#sph3)" stroke="#e0e0e0" stroke-width="2"/>
<circle cx="1528.5" cy="557.8" r="29.7" fill="url(#sph3)" stroke="#e0e0e0" stroke-width="2"/>
<circle cx="1587.4" cy="593.4" r="29.2" fill="url(#sph3)" stroke="#e0e0e0" stroke-width="2"/>
<circle cx="1645.5" cy="627.9" r="29.7" fill="url(#sph3)" stroke="#e0e0e0" stroke-width="2"/>
<circle cx="1703.7" cy="662.6" r="29.2" fill="url(#sph3)" stroke="#e0e0e0" stroke-width="2"/>
<circle cx="1764.8" cy="699.1" r="29.0" fill="url(#sph3)" stroke="#e0e0e0" stroke-width="2"/>
<circle cx="1412.0" cy="557.7" r="28.8" fill="url(#sph3)" stroke="#e0e0e0" stroke-width="2"/>
<circle cx="1469.4" cy="590.7" r="29.9" fill="url(#sph3)" stroke="#e0e0e0" stroke-width="2"/>
<circle cx="1528.7" cy="628.0" r="29.9" fill="url(#sph3)" stroke="#e0e0e0" stroke-width="2"/>
<circle cx="1587.4" cy="662.5" r="29.4" fill="url(#sph3)" stroke="#e0e0e0" stroke-width="2"/>
<circle cx="1644.4" cy="697.1" r="28.3" fill="url(#sph3)" stroke="#e0e0e0" stroke-width="2"/>
<circle cx="1409.0" cy="626.6" r="28.4" fill="url(#sph3)" stroke="#e0e0e0" stroke-width="2"/>
<circle cx="1467.6" cy="659.6" r="30.1" fill="url(#sph3)" stroke="#e0e0e0" stroke-width="2"/>
<circle cx="1526.5" cy="694.4" r="30.0" fill="url(#sph3)" stroke="#e0e0e0" stroke-width="2"/>
<circle cx="1408.3" cy="695.8" r="29.6" fill="url(#sph3)" stroke="#e0e0e0" stroke-width="2"/>
</g></g>
<rect x="193.5" y="629.9" width="182.0" height="9" fill="#000"/>
<text x="235.5" y="612.2" font-size="42" word-spacing="-2">2 <tspan font-family="'Liberation Serif', serif" font-size="44">&#956;</tspan>m</text>
<rect x="833" y="629.9" width="183" height="9" fill="#000"/>
<text x="875" y="611.2" font-size="42" word-spacing="-2">2 <tspan font-family="'Liberation Serif', serif" font-size="44">&#956;</tspan>m</text>
<rect x="1479.4" y="633.1" width="182.5999999999999" height="9" fill="#000"/>
<text x="1521" y="614.2" font-size="42" word-spacing="-2">2 <tspan font-family="'Liberation Serif', serif" font-size="44">&#956;</tspan>m</text>
<g stroke="#000" stroke-width="4" stroke-dasharray="17 4" fill="none">
<path d="M314.6 177.8L328.5 511"/><path d="M373.5 173.8L387 508"/>
</g>
<text x="421" y="358.3" font-size="40.3" font-weight="bold" fill="#000">d = 600 nm</text>
<g stroke="#000" stroke-width="4.0" stroke-dasharray="12.5 4.5" fill="none">
<path d="M1587.7 324.6H1913.3"/><path d="M1599.8 337.6H1913.3"/>
<path d="M1667.8 212L1823.3 492"/><path d="M1679.4 205.7L1835.3 476.4"/>
<path d="M1815.4 209.4L1658.4 477.4"/><path d="M1831.2 206.8L1669.9 486.8"/>
</g>
<text x="1774.5" y="528.7" font-size="40.5" font-weight="bold" fill="#000">d = 100 nm</text>
<rect x="139.7" y="726.7" width="514.3" height="513.5999999999999" fill="none" stroke="#000" stroke-width="2.2"/>
<path d="M162.3 1240.3v-9.5M209.2 1240.3v-5.5M256.0 1240.3v-9.5M302.9 1240.3v-5.5M349.7 1240.3v-9.5M396.5 1240.3v-5.5M443.4 1240.3v-9.5M490.2 1240.3v-5.5M537.1 1240.3v-9.5M584.0 1240.3v-5.5M630.8 1240.3v-9.5M139.7 1187.7h5.0M139.7 1147.1h5.0M139.7 1113.9h5.0M139.7 1085.8h5.0M139.7 1061.5h5.0M139.7 1040.0h5.0M139.7 1020.8h9.5M139.7 894.5h5.0M139.7 820.6h5.0M139.7 768.2h5.0M139.7 727.6h5.0" stroke="#000" stroke-width="2" fill="none"/>
<text x="162.3" y="1273.5" font-size="30" text-anchor="middle" fill="#000">0</text>
<text x="256.0" y="1273.5" font-size="30" text-anchor="middle" fill="#000">20</text>
<text x="349.7" y="1273.5" font-size="30" text-anchor="middle" fill="#000">40</text>
<text x="443.4" y="1273.5" font-size="30" text-anchor="middle" fill="#000">60</text>
<text x="537.1" y="1273.5" font-size="30" text-anchor="middle" fill="#000">80</text>
<text x="630.8" y="1273.5" font-size="30" text-anchor="middle" fill="#000">100</text>
<text x="129.7" y="1033.1" font-size="30" text-anchor="end">10<tspan font-size="20.5" dy="-13.8">-6</tspan></text>
<text x="45.3" y="955.5" font-size="39" text-anchor="middle" fill="#000" transform="rotate(-90 45.3 955.5)">Current (A)</text>
<text x="404.4" y="1319.8" font-size="39" text-anchor="middle" fill="#000">Time (s)</text>
<text x="25.5" y="773.0" font-size="71" fill="#000">b</text>
<text x="160" y="775.1" font-size="42.5" fill="#808080"><tspan font-size="42.5">TeO</tspan><tspan font-size="26.6" dy="9.8">1.16</tspan></text>
<path d="M164.6 1188.8L165.2 1188.9L165.8 1188.2L166.3 1187.9L166.9 1187.7L167.5 1188.2L168.0 1187.7L168.6 1187.6L169.1 1188.3L169.7 1188.3L170.3 1188.4L170.8 1187.8L171.4 1188.2L172.0 1188.2L172.5 1187.5L173.1 1188.4L173.6 1188.3L174.2 1189.3L174.8 1188.3L175.3 1188.1L175.9 1188.8L176.4 1188.3L177.0 1188.6L177.6 1188.0L178.1 1188.3L178.7 1188.7L179.3 1188.5L179.8 1188.3L180.4 1187.7L180.9 1188.4L181.5 1188.2L182.1 1188.5L182.6 1188.3L183.2 1188.7L183.8 1188.2L184.3 1188.3L184.9 1188.5L185.4 1187.7L186.0 1188.0L186.6 1188.0L187.1 1189.1L187.7 1188.2L188.3 1188.5L188.8 1188.5L189.4 1188.1L189.9 1187.5L190.5 1188.6L191.1 1188.0L191.6 1188.5L192.2 1187.6L192.8 1188.0L193.3 1188.8L193.9 1188.8L194.4 1187.6L195.0 1187.6L195.6 1188.2L196.1 1188.5L196.7 1188.3L197.3 1188.3L197.8 1187.8L198.4 1188.5L198.9 1188.7L199.5 1188.0L200.1 1187.6L200.6 1187.9L201.2 1188.5L201.7 1187.4L202.3 1188.2L202.9 1187.8L203.4 1188.1L204.0 1188.1L204.6 1188.2L205.1 1188.9L205.7 1188.4L206.2 1188.8L206.8 1188.1L207.4 1188.0L207.9 1188.4L208.5 1186.9L209.1 1188.2L209.6 1188.3L210.2 1187.6L210.7 1188.4L211.3 1187.9L211.9 1187.1L212.4 1188.1L213.0 1187.8L213.6 1188.0L214.1 1188.1L214.7 1188.8L215.2 1188.2L215.8 1188.2L216.4 1188.4L216.9 1187.4L217.5 1188.8L218.1 1187.7L218.6 1188.4L219.2 1187.7L219.7 1187.8L220.3 1188.0L220.9 1189.1L221.4 1188.5L222.0 1187.9L222.5 1188.1L223.1 1187.7L223.7 1188.2L224.2 1187.9L224.8 1188.5L225.4 1187.6L225.9 1188.0L226.5 1187.8L227.0 1187.9L227.6 1188.5L228.2 1188.3L228.7 1188.5L229.3 1188.7L229.9 1188.7L230.4 1187.6L231.0 1188.4L231.5 1187.4L232.1 1188.2L232.7 1189.1L233.2 1188.1L233.8 1188.0L234.4 1188.3L234.9 1188.2L235.5 1188.2L236.0 1187.9L236.6 1188.7L237.2 1188.6L237.7 1188.1L238.3 1188.3L238.9 1188.5L239.4 1188.7L240.0 1188.4L240.5 1188.5L241.1 1188.1L241.7 1187.7L242.2 1188.0L242.8 1188.7L243.4 1188.6L243.9 1188.3L244.5 1187.9L245.0 1188.3L245.6 1188.9L246.2 1188.8L246.7 1187.9L247.3 1188.2L247.8 1187.5L248.4 1187.7L249.0 1188.3L249.5 1188.2L250.1 1188.6L250.7 1188.8L251.2 1188.6L251.8 1188.8L252.3 1188.0L252.9 1187.7L253.5 1188.4L254.0 1189.4L254.6 1188.4L255.2 1187.7L255.7 1188.3L256.3 1188.8L256.8 1187.7L257.4 1188.6L258.0 1187.9L258.5 1188.8L259.1 1188.6L259.7 1188.3L260.2 1189.1L260.8 1188.0L261.3 1187.9L261.9 1189.0L262.5 1187.8L263.0 1189.2L263.6 1188.2L264.2 1187.7L264.7 1188.2L265.3 1188.3L265.8 1188.3L266.4 1188.1L267.0 1188.7L267.5 1187.2L268.1 1188.0L268.6 1188.1L269.2 1189.0L269.8 1187.3L270.3 1188.0L270.9 1187.7L271.5 1187.9L272.0 1188.5L272.6 1188.4L273.1 1188.8L273.7 1187.9L274.3 1188.3L274.8 1188.7L275.4 1188.6L276.0 1188.0L276.5 1188.7L277.1 1187.8L277.6 1189.0L278.2 1188.3L278.8 1188.1L279.3 1188.3L279.9 1188.6L280.5 1189.0L281.0 1188.1L281.6 1188.0L282.1 1188.5L282.7 1187.8L283.3 1187.4L283.8 1188.6L284.4 1188.0L285.0 1188.7L285.5 1187.7L286.1 1186.9L286.6 1188.3L287.2 1188.3L287.8 1188.9L288.3 1188.4L288.9 1188.3L289.5 1188.5L290.0 1188.0L290.6 1188.2L291.1 1187.6L291.7 1188.4L292.3 1187.8L292.8 1188.0L293.4 1188.5L293.9 1188.6L294.5 1187.7L295.1 1189.1L295.6 1187.9L296.2 1188.6L296.8 1188.6L297.3 1188.3L297.9 1188.3L298.4 1189.0L299.0 1188.6L299.6 1188.4L300.1 1187.4L300.7 1187.9L301.3 1188.7L301.8 1188.3L302.4 1187.8L302.9 1187.9L303.5 1188.1" fill="none" stroke="#6a00dc" stroke-width="6.0" stroke-linejoin="round" stroke-linecap="round"/>
<path d="M327.2 1191.7L327.8 1190.3L328.3 1190.8L328.9 1190.7L329.5 1191.0L330.0 1190.0L330.6 1190.4L331.1 1190.3L331.7 1190.1L332.3 1190.2L332.8 1190.4L333.4 1190.5L334.0 1190.2L334.5 1190.8L335.1 1190.4L335.6 1189.2L336.2 1191.1L336.8 1190.4L337.3 1190.3L337.9 1190.7L338.5 1190.7L339.0 1190.6L339.6 1190.2L340.1 1190.7L340.7 1189.9L341.3 1191.2L341.8 1190.0L342.4 1190.5L343.0 1190.6L343.5 1190.7L344.1 1190.5L344.6 1190.8L345.2 1189.0L345.8 1190.5L346.3 1190.5L346.9 1190.3L347.5 1191.2L348.0 1190.1L348.6 1190.5L349.1 1189.6L349.7 1190.7L350.3 1189.8L350.8 1189.8L351.4 1191.6L351.9 1190.9L352.5 1190.5L353.1 1190.6L353.6 1189.9L354.2 1190.1L354.8 1190.7L355.3 1189.6L355.9 1190.7L356.4 1189.8L357.0 1190.6L357.6 1190.0L358.1 1191.3L358.7 1191.0L359.3 1190.3L359.8 1189.7L360.4 1190.2L360.9 1190.5L361.5 1190.1L362.1 1190.7L362.6 1191.0L363.2 1190.5L363.8 1190.3L364.3 1190.9L364.9 1190.4L365.4 1190.9L366.0 1190.4L366.6 1191.3L367.1 1190.4L367.7 1190.1L368.3 1190.6L368.8 1190.3L369.4 1190.1L369.9 1190.5L370.5 1190.9L371.1 1189.6L371.6 1190.5L372.2 1190.5L372.8 1190.5L373.3 1190.9L373.9 1189.9L374.4 1190.8L375.0 1190.4L375.6 1190.6L376.1 1190.4L376.7 1190.4L377.2 1190.3L377.8 1190.7L378.4 1191.5L378.9 1191.0L379.5 1190.9L380.1 1190.8L380.6 1190.3L381.2 1190.8L381.7 1191.5L382.3 1190.0L382.9 1190.9L383.4 1191.0L384.0 1190.7L384.6 1190.9L385.1 1191.2L385.7 1191.6L386.2 1191.2L386.8 1191.3L387.4 1190.7L387.9 1190.9L388.5 1190.6L389.1 1190.7L389.6 1190.4L390.2 1190.9L390.7 1191.2L391.3 1190.5L391.9 1190.7L392.4 1190.9L393.0 1190.6L393.6 1191.0L394.1 1190.7L394.7 1190.0L395.2 1190.1L395.8 1190.9L396.4 1190.9L396.9 1191.1L397.5 1190.7L398.0 1190.7L398.6 1189.9L399.2 1191.2L399.7 1190.2L400.3 1191.1L400.9 1190.1L401.4 1190.3L402.0 1190.7L402.5 1190.4L403.1 1190.3L403.7 1191.0L404.2 1190.9L404.8 1190.8L405.4 1190.4L405.9 1190.2L406.5 1190.4L407.0 1190.4L407.6 1190.6L408.2 1190.9L408.7 1190.5L409.3 1190.2L409.9 1190.3L410.4 1191.2L411.0 1190.7L411.5 1190.7L412.1 1190.7L412.7 1190.9L413.2 1190.7L413.8 1191.1L414.4 1191.0L414.9 1189.3L415.5 1190.5L416.0 1191.9L416.6 1190.0L417.2 1190.7L417.7 1191.1L418.3 1190.6L418.9 1191.2L419.4 1190.0L420.0 1190.0L420.5 1190.5L421.1 1190.3L421.7 1190.1L422.2 1190.9L422.8 1190.7L423.3 1190.6L423.9 1190.4L424.5 1190.7L425.0 1190.5L425.6 1190.3L426.2 1190.8L426.7 1190.8L427.3 1190.6L427.8 1190.9L428.4 1190.1L429.0 1190.5L429.5 1190.4L430.1 1191.2L430.7 1190.8L431.2 1191.6L431.8 1191.3L432.3 1190.4L432.9 1190.1L433.5 1190.8L434.0 1190.5L434.6 1190.5L435.2 1190.1L435.7 1190.9L436.3 1190.7L436.8 1190.8L437.4 1190.7L438.0 1190.2L438.5 1189.6L439.1 1190.5L439.7 1190.3L440.2 1190.4L440.8 1191.0L441.3 1190.6L441.9 1191.3L442.5 1190.7L443.0 1190.9L443.6 1190.8L444.1 1191.0L444.7 1190.0L445.3 1191.1L445.8 1190.6L446.4 1190.2L447.0 1190.9L447.5 1190.8L448.1 1191.2L448.6 1190.9L449.2 1190.8L449.8 1189.9L450.3 1191.4L450.9 1191.3L451.5 1190.9L452.0 1190.8L452.6 1191.1L453.1 1190.2L453.7 1190.9L454.3 1190.6L454.8 1190.1L455.4 1190.8L456.0 1190.8L456.5 1191.4L457.1 1191.0L457.6 1189.9L458.2 1189.7L458.8 1190.6L459.3 1190.5L459.9 1190.2L460.5 1189.9L461.0 1190.5L461.6 1190.1L462.1 1190.3L462.7 1191.0L463.3 1190.7L463.8 1190.3L464.4 1190.1L465.0 1190.5L465.5 1191.4L466.1 1190.4L466.6 1191.4L467.2 1190.2L467.8 1190.5L468.3 1190.9" fill="none" stroke="#007f00" stroke-width="6.0" stroke-linejoin="round" stroke-linecap="round"/>
<path d="M488.8 785.0L489.0 785.0L489.2 785.0L489.4 785.0L489.6 785.0L489.8 785.0L490.0 785.0L490.2 785.0L490.3 785.0L490.5 785.0L490.7 785.0L490.9 785.0L491.1 785.0L491.3 785.0L491.5 785.0L491.7 785.0L491.8 785.0L492.0 785.0L492.2 785.0L492.4 785.0L492.6 785.0L492.8 1041.5L493.0 1112.1L493.2 1133.4L493.3 1141.7L493.5 1146.3L493.7 1149.8L493.9 1152.8L494.1 1155.6L494.3 1158.3L494.5 1160.7L494.7 1163.0L494.8 1165.2L495.0 1167.2L495.2 1169.1L495.4 1170.9L495.6 1172.5L495.8 1174.1L496.0 1175.5L496.2 1176.9L496.3 1178.2L496.5 1179.4L496.7 1180.5L496.9 1181.6L497.1 1182.6L497.3 1183.5L497.5 1184.4L497.7 1185.2L497.8 1186.0L498.0 1186.7L498.2 1187.4L498.4 1188.0L498.6 1188.6L498.8 1189.2L499.0 1189.7L499.2 1190.2L499.3 1190.6L499.5 1191.1L499.7 1191.5L499.9 1191.8L500.1 1192.2L500.3 1192.5L500.5 1192.8L500.7 1193.1L500.8 1193.4L501.0 1193.7L501.2 1193.9L501.4 1194.1L501.6 1194.3L501.8 1194.5L502.0 1194.7L502.1 1194.9L502.3 1195.1L502.5 1195.2L502.7 1195.3L502.9 1195.5L503.1 1195.6L503.3 1195.7L503.5 1195.8L503.6 1195.9L503.8 1196.0L504.0 1196.1L504.2 1196.2L504.4 1196.3L504.6 1196.4L504.8 1196.4L505.0 848.5L505.1 800.5L505.3 793.3L505.5 791.6L505.7 790.8L505.9 790.2L506.1 789.6L506.3 789.1L506.5 788.7L506.6 788.3L506.8 787.9L507.0 787.6L507.2 787.3L507.4 787.1L507.6 786.9L507.8 786.7L508.0 786.5L508.1 786.3L508.3 786.2L508.5 786.0L508.7 785.9L508.9 785.8L509.1 785.7L509.3 785.7L509.5 785.6L509.6 785.5L509.8 785.5L510.0 785.4L510.2 785.4L510.4 785.3L510.6 785.3L510.8 785.3L511.0 785.2L511.1 785.2L511.3 785.2L511.5 785.2L511.7 785.1L511.9 785.1L512.1 785.1L512.3 785.1L512.5 785.1L512.6 785.1L512.8 785.1L513.0 785.1L513.2 785.1L513.4 785.1L513.6 785.0L513.8 785.0L514.0 785.0L514.1 785.0L514.3 785.0L514.5 785.0L514.7 785.0L514.9 785.0L515.1 785.0L515.3 785.0L515.5 785.0L515.6 785.0L515.8 785.0L516.0 785.0L516.2 953.8L516.4 1087.5L516.6 1125.6L516.8 1138.3L517.0 1144.2L517.1 1148.1L517.3 1151.3L517.5 1154.3L517.7 1157.0L517.9 1159.5L518.1 1161.9L518.3 1164.1L518.5 1166.2L518.6 1168.2L518.8 1170.0L519.0 1171.7L519.2 1173.3L519.4 1174.8L519.6 1176.2L519.8 1177.6L520.0 1178.8L520.1 1180.0L520.3 1181.1L520.5 1182.1L520.7 1183.1L520.9 1184.0L521.1 1184.8L521.3 1185.6L521.5 1186.3L521.6 1187.0L521.8 1187.7L522.0 1188.3L522.2 1188.9L522.4 1189.4L522.6 1189.9L522.8 1190.4L523.0 1190.8L523.1 1191.3L523.3 1191.7L523.5 1192.0L523.7 1192.4L523.9 1192.7L524.1 1193.0L524.3 1193.3L524.5 1193.5L524.6 1193.8L524.8 1194.0L525.0 1194.2L525.2 1194.4L525.4 1194.6L525.6 1194.8L525.8 1195.0L525.9 1195.1L526.1 1195.3L526.3 1195.4L526.5 1195.5L526.7 1195.7L526.9 1195.8L527.1 1195.9L527.3 1196.0L527.4 1196.1L527.6 1196.2L527.8 1196.3L528.0 1196.3L528.2 1196.3L528.4 848.4L528.6 800.5L528.8 793.3L528.9 791.6L529.1 790.8L529.3 790.2L529.5 789.6L529.7 789.1L529.9 788.7L530.1 788.3L530.3 787.9L530.4 787.6L530.6 787.3L530.8 787.1L531.0 786.9L531.2 786.7L531.4 786.5L531.6 786.3L531.8 786.2L531.9 786.0L532.1 785.9L532.3 785.8L532.5 785.7L532.7 785.7L532.9 785.6L533.1 785.5L533.3 785.5L533.4 785.4L533.6 785.4L533.8 785.3L534.0 785.3L534.2 785.3L534.4 785.2L534.6 785.2L534.8 785.2L534.9 785.2L535.1 785.1L535.3 785.1L535.5 785.1L535.7 785.1L535.9 785.1L536.1 785.1L536.3 785.1L536.4 785.1L536.6 785.1L536.8 785.1L537.0 785.0L537.2 785.0L537.4 785.0L537.6 785.0L537.8 785.0L537.9 785.0L538.1 785.0L538.3 785.0L538.5 785.0L538.7 785.0L538.9 785.0L539.1 785.0L539.3 785.0L539.4 785.0L539.6 953.8L539.8 1087.5L540.0 1125.6L540.2 1138.3L540.4 1144.2L540.6 1148.1L540.8 1151.3L540.9 1154.3L541.1 1157.0L541.3 1159.5L541.5 1161.9L541.7 1164.1L541.9 1166.2L542.1 1168.2L542.3 1170.0L542.4 1171.7L542.6 1173.3L542.8 1174.8L543.0 1176.2L543.2 1177.6L543.4 1178.8L543.6 1180.0L543.8 1181.1L543.9 1182.1L544.1 1183.1L544.3 1184.0L544.5 1184.8L544.7 1185.6L544.9 1186.3L545.1 1187.0L545.3 1187.7L545.4 1188.3L545.6 1188.9L545.8 1189.4L546.0 1189.9L546.2 1190.4L546.4 1190.8L546.6 1191.3L546.8 1191.7L546.9 1192.0L547.1 1192.4L547.3 1192.7L547.5 1193.0L547.7 1193.3L547.9 1193.5L548.1 1193.8L548.3 1194.0L548.4 1194.2L548.6 1194.4L548.8 1194.6L549.0 1194.8L549.2 1195.0L549.4 1195.1L549.6 1195.3L549.7 1195.4L549.9 1195.5L550.1 1195.7L550.3 1195.8L550.5 1195.9L550.7 1196.0L550.9 1196.1L551.1 1196.2L551.2 1196.3L551.4 1196.3L551.6 1196.3L551.8 848.4L552.0 800.5L552.2 793.3L552.4 791.6L552.6 790.8L552.7 790.2L552.9 789.6L553.1 789.1L553.3 788.7L553.5 788.3L553.7 787.9L553.9 787.6L554.1 787.3L554.2 787.1L554.4 786.9L554.6 786.7L554.8 786.5L555.0 786.3L555.2 786.2L555.4 786.0L555.6 785.9L555.7 785.8L555.9 785.7L556.1 785.7L556.3 785.6L556.5 785.5L556.7 785.5L556.9 785.4L557.1 785.4L557.2 785.3L557.4 785.3L557.6 785.3L557.8 785.2L558.0 785.2L558.2 785.2L558.4 785.2L558.6 785.1L558.7 785.1L558.9 785.1L559.1 785.1L559.3 785.1L559.5 785.1L559.7 785.1L559.9 785.1L560.1 785.1L560.2 785.1L560.4 785.0L560.6 785.0L560.8 785.0L561.0 785.0L561.2 785.0L561.4 785.0L561.6 785.0L561.7 785.0L561.9 785.0L562.1 785.0L562.3 785.0L562.5 785.0L562.7 785.0L562.9 785.0L563.1 953.8L563.2 1087.5L563.4 1125.6L563.6 1138.3L563.8 1144.2L564.0 1148.1L564.2 1151.3L564.4 1154.3L564.6 1157.0L564.7 1159.5L564.9 1161.9L565.1 1164.1L565.3 1166.2L565.5 1168.2L565.7 1170.0L565.9 1171.7L566.1 1173.3L566.2 1174.8L566.4 1176.2L566.6 1177.6L566.8 1178.8L567.0 1180.0L567.2 1181.1L567.4 1182.1L567.6 1183.1L567.7 1184.0L567.9 1184.8L568.1 1185.6L568.3 1186.3L568.5 1187.0L568.7 1187.7L568.9 1188.3L569.1 1188.9L569.2 1189.4L569.4 1189.9L569.6 1190.4L569.8 1190.8L570.0 1191.3L570.2 1191.7L570.4 1192.0L570.6 1192.4L570.7 1192.7L570.9 1193.0L571.1 1193.3L571.3 1193.5L571.5 1193.8L571.7 1194.0L571.9 1194.2L572.1 1194.4L572.2 1194.6L572.4 1194.8L572.6 1195.0L572.8 1195.1L573.0 1195.3L573.2 1195.4L573.4 1195.5L573.5 1195.7L573.7 1195.8L573.9 1195.9L574.1 1196.0L574.3 1196.1L574.5 1196.2L574.7 1196.3L574.9 1196.3L575.0 1196.3L575.2 848.4L575.4 800.5L575.6 793.3L575.8 791.6L576.0 790.8L576.2 790.2L576.4 789.6L576.5 789.1L576.7 788.7L576.9 788.3L577.1 787.9L577.3 787.6L577.5 787.3L577.7 787.1L577.9 786.9L578.0 786.7L578.2 786.5L578.4 786.3L578.6 786.2L578.8 786.0L579.0 785.9L579.2 785.8L579.4 785.7L579.5 785.7L579.7 785.6L579.9 785.5L580.1 785.5L580.3 785.4L580.5 785.4L580.7 785.3L580.9 785.3L581.0 785.3L581.2 785.2L581.4 785.2L581.6 785.2L581.8 785.2L582.0 785.1L582.2 785.1L582.4 785.1L582.5 785.1L582.7 785.1L582.9 785.1L583.1 785.1L583.3 785.1L583.5 785.1L583.7 785.1L583.9 785.0L584.0 785.0L584.2 785.0L584.4 785.0L584.6 785.0L584.8 785.0L585.0 785.0L585.2 785.0L585.4 785.0L585.5 785.0L585.7 785.0L585.9 785.0L586.1 785.0L586.3 785.0L586.5 953.8L586.7 1087.5L586.9 1125.6L587.0 1138.3L587.2 1144.2L587.4 1148.1L587.6 1151.3L587.8 1154.3L588.0 1157.0L588.2 1159.5L588.4 1161.9L588.5 1164.1L588.7 1166.2L588.9 1168.2L589.1 1170.0L589.3 1171.7L589.5 1173.3L589.7 1174.8L589.9 1176.2L590.0 1177.6L590.2 1178.8L590.4 1180.0L590.6 1181.1L590.8 1182.1L591.0 1183.1L591.2 1184.0L591.4 1184.8L591.5 1185.6L591.7 1186.3L591.9 1187.0L592.1 1187.7L592.3 1188.3L592.5 1188.9L592.7 1189.4L592.9 1189.9L593.0 1190.4L593.2 1190.8L593.4 1191.3L593.6 1191.7L593.8 1192.0L594.0 1192.4L594.2 1192.7L594.4 1193.0L594.5 1193.3L594.7 1193.5L594.9 1193.8L595.1 1194.0L595.3 1194.2L595.5 1194.4L595.7 1194.6L595.8 1194.8L596.0 1195.0L596.2 1195.1L596.4 1195.3L596.6 1195.4L596.8 1195.5L597.0 1195.7L597.2 1195.8L597.3 1195.9L597.5 1196.0L597.7 1196.1L597.9 1196.2L598.1 1196.3L598.3 1196.3L598.5 1196.3L598.7 848.4L598.8 800.5L599.0 793.3L599.2 791.6L599.4 790.8L599.6 790.2L599.8 789.6L600.0 789.1L600.2 788.7L600.3 788.3L600.5 787.9L600.7 787.6L600.9 787.3L601.1 787.1L601.3 786.9L601.5 786.7L601.7 786.5L601.8 786.3L602.0 786.2L602.2 786.0L602.4 785.9L602.6 785.8L602.8 785.7L603.0 785.7L603.2 785.6L603.3 785.5L603.5 785.5L603.7 785.4L603.9 785.4L604.1 785.3L604.3 785.3L604.5 785.3L604.7 785.2L604.8 785.2L605.0 785.2L605.2 785.2L605.4 785.1L605.6 785.1L605.8 785.1L606.0 785.1L606.2 785.1L606.3 785.1L606.5 785.1L606.7 785.1L606.9 785.1L607.1 785.1L607.3 785.0L607.5 785.0L607.7 785.0L607.8 785.0L608.0 785.0L608.2 785.0L608.4 785.0L608.6 785.0L608.8 785.0L609.0 785.0L609.2 785.0L609.3 785.0L609.5 785.0L609.7 785.0L609.9 953.8L610.1 1087.5L610.3 1125.6L610.5 1138.3L610.7 1144.2L610.8 1148.1L611.0 1151.3L611.2 1154.3L611.4 1157.0L611.6 1159.5L611.8 1161.9L612.0 1164.1L612.2 1166.2L612.3 1168.2L612.5 1170.0L612.7 1171.7L612.9 1173.3L613.1 1174.8L613.3 1176.2L613.5 1177.6L613.7 1178.8L613.8 1180.0L614.0 1181.1L614.2 1182.1L614.4 1183.1L614.6 1184.0L614.8 1184.8L615.0 1185.6L615.2 1186.3L615.3 1187.0L615.5 1187.7L615.7 1188.3L615.9 1188.9L616.1 1189.4L616.3 1189.9L616.5 1190.4L616.7 1190.8L616.8 1191.3L617.0 1191.7L617.2 1192.0L617.4 1192.4L617.6 1192.7L617.8 1193.0L618.0 1193.3L618.2 1193.5L618.3 1193.8L618.5 1194.0L618.7 1194.2L618.9 1194.4L619.1 1194.6L619.3 1194.8L619.5 1195.0L619.6 1195.1L619.8 1195.3L620.0 1195.4L620.2 1195.5L620.4 1195.7L620.6 1195.8L620.8 1195.9L621.0 1196.0L621.1 1196.1L621.3 1196.2L621.5 1196.3L621.7 1196.3L621.9 1196.3L622.1 848.4L622.3 800.5L622.5 793.3L622.6 791.6L622.8 790.8L623.0 790.2L623.2 789.6L623.4 789.1L623.6 788.7L623.8 788.3L624.0 787.9L624.1 787.6L624.3 787.3L624.5 787.1L624.7 786.9L624.9 786.7L625.1 786.5L625.3 786.3L625.5 786.2L625.6 786.0L625.8 785.9L626.0 785.8L626.2 785.7L626.4 785.7L626.6 785.6L626.8 785.5L627.0 785.5L627.1 785.4L627.3 785.4L627.5 785.3L627.7 785.3L627.9 785.3L628.1 785.2L628.3 785.2L628.5 785.2L628.6 785.2L628.8 785.1L629.0 785.1L629.2 785.1L629.4 785.1L629.6 785.1L629.8 785.1L630.0 785.1L630.1 785.1L630.3 785.1L630.5 785.1L630.7 785.0L630.9 785.0L631.1 785.0L631.3 785.0L631.5 785.0L631.6 785.0L631.8 785.0L632.0 785.0L632.2 785.0" fill="none" stroke="#ff0000" stroke-width="6.0" stroke-linejoin="round" stroke-linecap="round"/>
<rect x="200.8" y="955" width="231" height="91.6" fill="#fff" stroke="#2a2a2a" stroke-width="1.1"/>
<path d="M204.2 972.0H257.7" stroke="#6a00dc" stroke-width="6"/>
<text x="264" y="980.4" font-size="23.8" fill="#000">@261 nm (UV)</text>
<path d="M204.2 1001.15H257.7" stroke="#007f00" stroke-width="6"/>
<text x="264" y="1009.55" font-size="23.8" fill="#000">@532 nm (Vis)</text>
<path d="M204.2 1030.3H257.7" stroke="#ff0000" stroke-width="6"/>
<text x="264" y="1038.7" font-size="23.8" fill="#000">@1550 nm (IR)</text>
<rect x="836.9" y="727.3" width="514.6" height="513.5" fill="none" stroke="#000" stroke-width="2.2"/>
<path d="M879.8 1240.8v-9.5M922.7 1240.8v-5.5M965.5 1240.8v-9.5M1008.4 1240.8v-5.5M1051.3 1240.8v-9.5M1094.1 1240.8v-5.5M1137.0 1240.8v-9.5M1179.9 1240.8v-5.5M1222.8 1240.8v-9.5M1265.6 1240.8v-5.5M1308.5 1240.8v-9.5M836.9 1195.2h5.0M836.9 1163.2h5.0M836.9 1138.4h5.0M836.9 1118.1h5.0M836.9 1100.9h5.0M836.9 1086.0h5.0M836.9 1072.9h5.0M836.9 1061.2h9.5M836.9 984.0h5.0M836.9 938.9h5.0M836.9 906.9h5.0M836.9 882.1h5.0M836.9 861.8h5.0M836.9 844.6h5.0M836.9 829.7h5.0M836.9 816.6h5.0M836.9 804.9h9.5" stroke="#000" stroke-width="2" fill="none"/>
<text x="879.8" y="1273.5" font-size="30" text-anchor="middle" fill="#000">0</text>
<text x="965.5" y="1273.5" font-size="30" text-anchor="middle" fill="#000">20</text>
<text x="1051.3" y="1273.5" font-size="30" text-anchor="middle" fill="#000">40</text>
<text x="1137.0" y="1273.5" font-size="30" text-anchor="middle" fill="#000">60</text>
<text x="1222.8" y="1273.5" font-size="30" text-anchor="middle" fill="#000">80</text>
<text x="1308.5" y="1273.5" font-size="30" text-anchor="middle" fill="#000">100</text>
<text x="826.9" y="817.2" font-size="30" text-anchor="end">10<tspan font-size="20.5" dy="-13.8">-6</tspan></text>
<text x="826.9" y="1073.5" font-size="30" text-anchor="end">10<tspan font-size="20.5" dy="-13.8">-7</tspan></text>
<text x="742.8" y="955.5" font-size="39" text-anchor="middle" fill="#000" transform="rotate(-90 742.8 955.5)">Current (A)</text>
<text x="1101" y="1318.4" font-size="39" text-anchor="middle" fill="#000">Time (s)</text>
<text x="718" y="762.5" font-size="71" fill="#000">c</text>
<text x="854" y="774.5" font-size="42.5" fill="#ffa8d3"><tspan font-size="42.5">Te</tspan><tspan font-size="26.6" dy="9.8">0.7</tspan><tspan font-size="42.5" dy="-9.8">Se</tspan><tspan font-size="26.6" dy="9.8">0.3</tspan><tspan font-size="42.5" dy="-9.8">O</tspan><tspan font-size="26.6" dy="9.8">0.59</tspan></text>
<path d="M881.1 1171.6L881.4 1172.5L881.7 1170.8L882.0 1172.3L882.3 1171.3L882.6 1171.3L882.9 1173.0L883.2 1171.6L883.5 1171.5L883.8 1172.1L884.1 1172.4L884.4 1171.5L884.7 1172.0L885.0 1170.7L885.3 1171.2L885.6 1171.1L885.9 1170.4L886.2 1170.3L886.5 1170.2L886.8 1171.3L887.1 1171.4L887.4 1171.2L887.7 1171.6L888.0 1170.4L888.3 1171.4L888.6 1170.7L888.9 1169.9L889.2 1167.7L889.5 1167.1L889.8 1165.1L890.1 1165.7L890.4 1163.8L890.7 1163.9L891.0 1165.6L891.3 1162.6L891.6 1164.7L891.9 1164.0L892.2 1163.3L892.5 1163.8L892.8 1163.7L893.1 1163.9L893.4 1162.8L893.7 1162.4L894.0 1162.3L894.3 1161.9L894.6 1162.6L894.9 1162.0L895.2 1163.4L895.5 1161.0L895.8 1161.6L896.1 1161.7L896.4 1160.8L896.7 1163.9L897.0 1160.5L897.3 1162.2L897.6 1162.0L897.9 1163.7L898.2 1160.8L898.5 1163.2L898.8 1161.8L899.1 1162.2L899.4 1161.8L899.7 1163.8L900.0 1163.8L900.3 1165.9L900.6 1167.3L900.9 1169.5L901.2 1166.9L901.5 1170.8L901.8 1170.9L902.1 1170.3L902.4 1171.4L902.7 1171.2L903.0 1173.2L903.3 1172.4L903.6 1172.3L903.9 1172.6L904.2 1172.8L904.5 1173.0L904.8 1172.6L905.1 1175.1L905.4 1172.0L905.7 1170.7L906.0 1173.6L906.3 1173.7L906.6 1174.2L906.9 1173.8L907.2 1173.8L907.5 1174.3L907.8 1174.8L908.1 1173.7L908.4 1173.8L908.7 1175.7L909.0 1174.6L909.3 1173.4L909.6 1176.1L909.9 1174.3L910.2 1171.6L910.5 1169.7L910.8 1169.7L911.1 1167.7L911.4 1166.7L911.7 1165.7L912.0 1165.7L912.3 1166.5L912.6 1164.8L912.9 1163.5L913.2 1164.9L913.5 1164.1L913.8 1164.5L914.1 1164.6L914.4 1163.3L914.7 1163.1L915.0 1163.1L915.3 1162.1L915.6 1163.4L915.9 1163.9L916.2 1162.9L916.5 1162.5L916.8 1162.4L917.1 1161.9L917.4 1161.9L917.7 1162.2L918.0 1161.8L918.3 1162.1L918.6 1161.2L918.9 1162.7L919.2 1162.4L919.5 1161.5L919.8 1160.5L920.1 1162.4L920.4 1163.2L920.7 1161.8L921.0 1162.2L921.3 1163.7L921.6 1166.0L921.9 1165.9L922.2 1168.4L922.5 1168.2L922.8 1170.0L923.1 1169.9L923.4 1170.3L923.7 1169.8L924.0 1170.9L924.3 1171.6L924.6 1172.6L924.9 1172.6L925.2 1172.1L925.5 1173.2L925.8 1173.8L926.1 1173.1L926.4 1173.0L926.7 1173.2L927.0 1174.2L927.3 1174.1L927.6 1173.0L927.9 1174.1L928.2 1173.5L928.5 1173.3L928.8 1175.0L929.1 1174.7L929.4 1173.5L929.7 1174.2L930.0 1174.5L930.3 1173.6L930.6 1174.1L930.9 1174.7L931.2 1172.8L931.5 1173.0L931.8 1171.8L932.1 1170.3L932.4 1167.8L932.7 1168.1L933.0 1166.4L933.3 1166.9L933.6 1166.3L933.9 1165.5L934.2 1164.3L934.5 1164.0L934.8 1164.9L935.1 1163.2L935.4 1164.1L935.7 1163.9L936.0 1163.1L936.3 1165.1L936.6 1163.1L936.9 1164.7L937.2 1161.2L937.5 1161.0L937.8 1163.5L938.1 1163.1L938.4 1162.3L938.7 1162.5L939.0 1161.0L939.3 1162.0L939.6 1161.6L939.9 1162.3L940.2 1163.1L940.5 1162.4L940.8 1162.7L941.1 1161.8L941.4 1162.0L941.7 1162.4L942.0 1162.1L942.3 1163.4L942.6 1162.8L942.9 1166.4L943.2 1165.3L943.5 1168.0L943.8 1167.5L944.1 1170.2L944.4 1169.7L944.7 1170.6L945.0 1171.4L945.3 1170.7L945.6 1170.8L945.9 1170.4L946.2 1173.3L946.5 1172.0L946.8 1172.3L947.1 1172.9L947.4 1174.7L947.7 1171.9L948.0 1173.6L948.3 1173.2L948.6 1174.1L948.9 1172.3L949.2 1173.5L949.5 1174.5L949.8 1175.2L950.1 1175.3L950.4 1173.3L950.7 1174.1L951.0 1174.0L951.3 1173.0L951.6 1173.0L951.9 1174.8L952.2 1174.4L952.5 1174.1L952.8 1174.4L953.1 1171.0L953.4 1170.9L953.7 1169.3L954.0 1168.2L954.3 1167.8L954.6 1166.8L954.9 1166.3L955.2 1165.7L955.5 1166.6L955.8 1164.4L956.1 1165.1L956.4 1164.5L956.7 1163.5L957.0 1164.2L957.3 1162.7L957.6 1164.2L957.9 1162.4L958.2 1162.6L958.5 1163.1L958.8 1163.5L959.1 1163.5L959.4 1163.4L959.7 1162.4L960.0 1161.8L960.3 1163.0L960.6 1162.7L960.9 1161.7L961.2 1163.2L961.5 1162.6L961.8 1161.6L962.1 1162.7L962.4 1161.3L962.7 1161.7L963.0 1162.7L963.3 1161.1L963.6 1162.4L963.9 1161.7L964.2 1164.9L964.5 1165.0L964.8 1166.9L965.1 1166.5L965.4 1168.3L965.7 1170.1L966.0 1170.4L966.3 1169.1L966.6 1171.8L966.9 1172.2L967.2 1171.5L967.5 1173.3L967.8 1171.6L968.1 1172.6L968.4 1173.8L968.7 1174.1L969.0 1174.3L969.3 1172.5L969.6 1172.1L969.9 1173.9L970.2 1172.5L970.5 1173.7L970.8 1172.8L971.1 1174.8L971.4 1174.6L971.7 1174.4L972.0 1174.1L972.3 1174.1L972.6 1173.9L972.9 1174.4L973.2 1174.3L973.5 1174.5L973.8 1173.8L974.1 1175.7L974.4 1172.7L974.7 1172.1L975.0 1170.8L975.3 1168.0L975.6 1166.4L975.9 1168.0L976.2 1166.0L976.5 1165.8L976.8 1165.0L977.1 1164.9L977.4 1163.5L977.7 1164.1L978.0 1163.5L978.3 1163.6L978.6 1161.6L978.9 1163.9L979.2 1163.4L979.5 1161.6L979.8 1162.3L980.1 1162.9L980.4 1163.3L980.7 1162.7L981.0 1163.7L981.3 1162.6L981.6 1161.7L981.9 1162.0L982.2 1163.1L982.5 1162.0L982.8 1163.1L983.1 1163.2L983.4 1162.9L983.7 1163.2L984.0 1162.2L984.3 1162.4L984.6 1161.9L984.9 1161.9L985.2 1161.1L985.5 1163.2L985.8 1164.2L986.1 1165.1L986.4 1167.4L986.7 1168.6L987.0 1168.8L987.3 1170.8L987.6 1171.1L987.9 1171.7L988.2 1170.8L988.5 1170.5L988.8 1172.5L989.1 1172.6L989.4 1173.2L989.7 1173.1L990.0 1174.0L990.3 1172.9L990.6 1173.9L990.9 1172.7L991.2 1171.7L991.5 1173.3L991.8 1174.9L992.1 1172.5L992.4 1174.7L992.7 1173.4L993.0 1173.7L993.3 1174.1L993.6 1174.2L993.9 1173.3L994.2 1174.2L994.5 1174.5L994.8 1174.8L995.1 1173.6L995.4 1175.4L995.7 1174.7L996.0 1173.5L996.3 1169.2L996.6 1169.3L996.9 1166.7L997.2 1167.6L997.5 1167.0L997.8 1165.0L998.1 1164.2L998.4 1165.1L998.7 1165.1L999.0 1163.6L999.3 1163.8L999.6 1161.7L999.9 1163.0L1000.2 1163.5L1000.5 1163.3L1000.8 1164.3L1001.1 1162.0L1001.4 1161.1L1001.7 1163.1L1002.0 1162.2L1002.3 1162.9L1002.6 1163.2L1002.9 1163.0L1003.2 1163.7L1003.5 1163.6L1003.8 1161.1L1004.1 1162.4L1004.4 1164.0L1004.7 1162.1L1005.0 1163.2L1005.3 1162.3L1005.6 1162.0L1005.9 1163.6L1006.2 1163.2L1006.5 1162.1L1006.8 1163.8L1007.1 1163.5L1007.4 1165.2L1007.7 1167.6L1008.0 1167.9L1008.3 1167.9L1008.6 1169.8L1008.9 1170.3L1009.2 1171.7" fill="none" stroke="#6a00dc" stroke-width="6.0" stroke-linejoin="round" stroke-linecap="round"/>
<path d="M1029.0 1158.5L1029.2 1158.6L1029.4 1158.4L1029.6 1158.6L1029.8 1158.8L1030.1 1158.6L1030.3 1159.0L1030.5 1158.2L1030.7 1158.5L1030.9 1158.3L1031.1 1158.3L1031.3 1158.4L1031.6 1158.6L1031.8 1158.6L1032.0 1158.7L1032.2 1159.2L1032.4 1158.8L1032.6 1158.0L1032.8 1158.6L1033.1 1158.3L1033.3 1158.3L1033.5 1158.9L1033.7 1158.4L1033.9 1157.9L1034.1 1158.6L1034.3 1158.4L1034.6 1158.1L1034.8 1158.2L1035.0 1158.3L1035.2 1158.5L1035.4 1158.4L1035.6 1158.5L1035.8 1159.1L1036.1 1158.3L1036.3 1158.3L1036.5 1158.4L1036.7 1158.8L1036.9 1139.0L1037.1 1132.3L1037.3 1128.5L1037.6 1127.3L1037.8 1126.9L1038.0 1126.2L1038.2 1125.9L1038.4 1126.0L1038.6 1125.9L1038.8 1125.5L1039.1 1125.2L1039.3 1125.5L1039.5 1125.1L1039.7 1124.7L1039.9 1125.0L1040.1 1124.3L1040.3 1124.5L1040.6 1124.6L1040.8 1124.3L1041.0 1124.0L1041.2 1124.2L1041.4 1123.9L1041.6 1123.8L1041.8 1123.7L1042.1 1124.3L1042.3 1123.7L1042.5 1124.2L1042.7 1123.9L1042.9 1123.7L1043.1 1124.0L1043.3 1123.8L1043.6 1123.8L1043.8 1123.3L1044.0 1123.7L1044.2 1123.9L1044.4 1123.8L1044.6 1123.9L1044.8 1124.1L1045.1 1123.7L1045.3 1124.2L1045.5 1123.1L1045.7 1123.5L1045.9 1122.8L1046.1 1123.8L1046.3 1123.6L1046.6 1124.1L1046.8 1123.4L1047.0 1122.9L1047.2 1123.9L1047.4 1123.1L1047.6 1123.2L1047.9 1143.9L1048.1 1151.9L1048.3 1154.7L1048.5 1156.3L1048.7 1156.4L1048.9 1157.9L1049.1 1157.7L1049.4 1158.0L1049.6 1158.4L1049.8 1158.5L1050.0 1158.7L1050.2 1158.6L1050.4 1159.0L1050.6 1159.3L1050.9 1159.6L1051.1 1159.3L1051.3 1159.5L1051.5 1159.7L1051.7 1159.8L1051.9 1159.8L1052.1 1159.7L1052.4 1159.7L1052.6 1160.3L1052.8 1160.1L1053.0 1160.1L1053.2 1161.1L1053.4 1160.4L1053.6 1160.4L1053.9 1160.2L1054.1 1159.9L1054.3 1160.6L1054.5 1160.2L1054.7 1160.3L1054.9 1160.6L1055.1 1160.6L1055.4 1160.4L1055.6 1160.4L1055.8 1161.0L1056.0 1160.6L1056.2 1160.1L1056.4 1160.6L1056.6 1160.5L1056.9 1160.4L1057.1 1160.6L1057.3 1160.5L1057.5 1161.0L1057.7 1160.5L1057.9 1160.5L1058.1 1160.8L1058.4 1139.9L1058.6 1132.6L1058.8 1129.2L1059.0 1128.1L1059.2 1126.8L1059.4 1126.7L1059.6 1125.8L1059.9 1125.9L1060.1 1125.8L1060.3 1125.7L1060.5 1125.9L1060.7 1125.7L1060.9 1124.6L1061.1 1124.6L1061.4 1125.1L1061.6 1124.8L1061.8 1124.1L1062.0 1124.6L1062.2 1124.0L1062.4 1124.0L1062.6 1123.8L1062.9 1124.0L1063.1 1124.7L1063.3 1124.1L1063.5 1123.9L1063.7 1124.7L1063.9 1123.7L1064.1 1123.8L1064.4 1123.7L1064.6 1123.9L1064.8 1123.7L1065.0 1124.2L1065.2 1123.6L1065.4 1123.9L1065.6 1123.7L1065.9 1123.4L1066.1 1123.3L1066.3 1123.6L1066.5 1122.9L1066.7 1123.6L1066.9 1123.6L1067.1 1123.6L1067.4 1123.6L1067.6 1123.7L1067.8 1123.5L1068.0 1123.7L1068.2 1123.1L1068.4 1123.8L1068.6 1123.3L1068.9 1123.7L1069.1 1123.4L1069.3 1143.8L1069.5 1151.5L1069.7 1155.2L1069.9 1155.9L1070.1 1156.6L1070.4 1157.4L1070.6 1157.8L1070.8 1158.0L1071.0 1158.0L1071.2 1158.3L1071.4 1158.9L1071.6 1158.5L1071.9 1159.2L1072.1 1159.4L1072.3 1159.3L1072.5 1159.0L1072.7 1160.1L1072.9 1159.6L1073.1 1159.7L1073.4 1159.6L1073.6 1159.5L1073.8 1159.8L1074.0 1160.0L1074.2 1159.7L1074.4 1160.1L1074.6 1160.4L1074.9 1160.3L1075.1 1160.1L1075.3 1160.5L1075.5 1160.5L1075.7 1160.5L1075.9 1160.0L1076.1 1159.8L1076.4 1160.6L1076.6 1160.4L1076.8 1160.2L1077.0 1160.5L1077.2 1160.2L1077.4 1160.2L1077.6 1160.9L1077.9 1159.9L1078.1 1160.7L1078.3 1160.7L1078.5 1161.0L1078.7 1160.5L1078.9 1160.6L1079.1 1160.2L1079.4 1160.5L1079.6 1159.8L1079.8 1139.9L1080.0 1132.3L1080.2 1129.1L1080.4 1127.6L1080.6 1127.4L1080.9 1126.1L1081.1 1126.3L1081.3 1125.9L1081.5 1125.8L1081.7 1125.6L1081.9 1125.9L1082.1 1124.9L1082.4 1125.4L1082.6 1125.3L1082.8 1124.7L1083.0 1124.4L1083.2 1124.1L1083.4 1124.2L1083.6 1124.9L1083.9 1123.6L1084.1 1124.3L1084.3 1123.9L1084.5 1124.6L1084.7 1124.1L1084.9 1123.6L1085.1 1123.8L1085.4 1123.9L1085.6 1123.9L1085.8 1123.5L1086.0 1123.7L1086.2 1123.6L1086.4 1123.9L1086.6 1123.8L1086.9 1123.8L1087.1 1123.5L1087.3 1123.9L1087.5 1123.5L1087.7 1123.4L1087.9 1123.5L1088.1 1123.5L1088.4 1123.5L1088.6 1123.0L1088.8 1124.0L1089.0 1123.8L1089.2 1124.0L1089.4 1123.4L1089.6 1123.8L1089.9 1123.6L1090.1 1123.6L1090.3 1124.1L1090.5 1123.4L1090.7 1144.1L1090.9 1151.2L1091.1 1155.0L1091.4 1156.2L1091.6 1156.6L1091.8 1157.2L1092.0 1157.1L1092.2 1157.7L1092.4 1158.3L1092.6 1157.7L1092.9 1159.0L1093.1 1159.1L1093.3 1158.8L1093.5 1158.7L1093.7 1158.8L1093.9 1159.0L1094.1 1159.3L1094.4 1160.2L1094.6 1159.3L1094.8 1160.0L1095.0 1160.2L1095.2 1159.6L1095.4 1159.9L1095.7 1160.2L1095.9 1159.8L1096.1 1160.5L1096.3 1160.8L1096.5 1160.1L1096.7 1159.9L1096.9 1160.4L1097.2 1160.4L1097.4 1160.1L1097.6 1160.3L1097.8 1160.3L1098.0 1160.5L1098.2 1160.7L1098.4 1160.2L1098.7 1160.0L1098.9 1159.9L1099.1 1161.0L1099.3 1160.3L1099.5 1160.3L1099.7 1161.2L1099.9 1160.8L1100.2 1161.1L1100.4 1160.4L1100.6 1160.2L1100.8 1160.3L1101.0 1160.6L1101.2 1140.2L1101.4 1132.4L1101.7 1129.8L1101.9 1128.2L1102.1 1126.7L1102.3 1126.8L1102.5 1126.5L1102.7 1125.8L1102.9 1126.5L1103.2 1125.8L1103.4 1125.8L1103.6 1125.0L1103.8 1124.7L1104.0 1125.1L1104.2 1124.7L1104.4 1124.4L1104.7 1124.5L1104.9 1124.5L1105.1 1124.4L1105.3 1124.2L1105.5 1124.3L1105.7 1125.0L1105.9 1124.4L1106.2 1123.8L1106.4 1124.6L1106.6 1123.8L1106.8 1123.4L1107.0 1123.4L1107.2 1123.2L1107.4 1124.1L1107.7 1123.4L1107.9 1123.3L1108.1 1123.5L1108.3 1123.6L1108.5 1123.3L1108.7 1123.5L1108.9 1123.6L1109.2 1123.8L1109.4 1123.3L1109.6 1123.8L1109.8 1123.7L1110.0 1123.7L1110.2 1123.4L1110.4 1123.2L1110.7 1123.8L1110.9 1123.7L1111.1 1123.3L1111.3 1123.3L1111.5 1123.7L1111.7 1124.1L1111.9 1123.6L1112.2 1144.7L1112.4 1151.8L1112.6 1154.9L1112.8 1156.4L1113.0 1157.2L1113.2 1156.9L1113.4 1157.8L1113.7 1158.4L1113.9 1157.8L1114.1 1158.5L1114.3 1158.9L1114.5 1159.3L1114.7 1159.5L1114.9 1159.1L1115.2 1159.9L1115.4 1159.0L1115.6 1159.1L1115.8 1160.0L1116.0 1159.9L1116.2 1159.4L1116.4 1160.1L1116.7 1160.1L1116.9 1160.2L1117.1 1159.9L1117.3 1159.7L1117.5 1159.6L1117.7 1160.1L1117.9 1160.1L1118.2 1160.0L1118.4 1160.1L1118.6 1160.5L1118.8 1159.9L1119.0 1160.1L1119.2 1160.9L1119.4 1160.1L1119.7 1160.2L1119.9 1160.7L1120.1 1159.8L1120.3 1160.9L1120.5 1160.0L1120.7 1160.2L1120.9 1160.0L1121.2 1160.1L1121.4 1160.2L1121.6 1160.7L1121.8 1160.4L1122.0 1160.9L1122.2 1160.7L1122.4 1160.1L1122.7 1140.1L1122.9 1132.1L1123.1 1129.0L1123.3 1127.8L1123.5 1127.2L1123.7 1126.7L1123.9 1125.6L1124.2 1126.0L1124.4 1125.6L1124.6 1126.1L1124.8 1125.3L1125.0 1125.2L1125.2 1125.0L1125.4 1125.1L1125.7 1124.4L1125.9 1124.6L1126.1 1124.5L1126.3 1124.4L1126.5 1124.3L1126.7 1124.1L1126.9 1124.2L1127.2 1123.7L1127.4 1124.5L1127.6 1124.0L1127.8 1123.4L1128.0 1123.8L1128.2 1124.2L1128.4 1123.8L1128.7 1123.8L1128.9 1123.1L1129.1 1124.2L1129.3 1123.7L1129.5 1123.1L1129.7 1123.5L1129.9 1124.1L1130.2 1123.8L1130.4 1123.2L1130.6 1123.5L1130.8 1123.7L1131.0 1124.2L1131.2 1123.7L1131.4 1123.8L1131.7 1123.5L1131.9 1123.6L1132.1 1123.3L1132.3 1123.2L1132.5 1123.1L1132.7 1123.4L1132.9 1123.9L1133.2 1123.5L1133.4 1123.9L1133.6 1144.2L1133.8 1151.8L1134.0 1154.7L1134.2 1156.9L1134.4 1157.3L1134.7 1157.8L1134.9 1158.5L1135.1 1158.5L1135.3 1158.3L1135.5 1158.6L1135.7 1158.8L1135.9 1159.5L1136.2 1158.7L1136.4 1158.6L1136.6 1159.1L1136.8 1159.4L1137.0 1159.3L1137.2 1159.9L1137.4 1159.9L1137.7 1159.7L1137.9 1159.8L1138.1 1160.5L1138.3 1160.5L1138.5 1160.5L1138.7 1159.9L1138.9 1160.5L1139.2 1159.8L1139.4 1159.6L1139.6 1160.7L1139.8 1160.5L1140.0 1160.5L1140.2 1160.7L1140.4 1160.8L1140.7 1160.4L1140.9 1160.4L1141.1 1160.5L1141.3 1160.6L1141.5 1160.4L1141.7 1160.0L1142.0 1161.2L1142.2 1160.2L1142.4 1160.2L1142.6 1160.6L1142.8 1160.4L1143.0 1160.6L1143.2 1161.2L1143.5 1160.9L1143.7 1160.3L1143.9 1160.6L1144.1 1140.1L1144.3 1132.7L1144.5 1128.9L1144.7 1127.5L1145.0 1126.6L1145.2 1126.8L1145.4 1126.4L1145.6 1126.2L1145.8 1126.0L1146.0 1125.2L1146.2 1125.2L1146.5 1124.8L1146.7 1125.4L1146.9 1125.1L1147.1 1124.3L1147.3 1124.8L1147.5 1124.6L1147.7 1124.5L1148.0 1124.5L1148.2 1124.1L1148.4 1124.1L1148.6 1123.9L1148.8 1123.9L1149.0 1123.7L1149.2 1124.3L1149.5 1124.1L1149.7 1123.8L1149.9 1123.3L1150.1 1124.5L1150.3 1123.8L1150.5 1123.8L1150.7 1123.9L1151.0 1124.2L1151.2 1123.6L1151.4 1123.0L1151.6 1123.6L1151.8 1123.6L1152.0 1123.5L1152.2 1124.1L1152.5 1123.5L1152.7 1123.7L1152.9 1123.3L1153.1 1123.8L1153.3 1123.4L1153.5 1123.8L1153.7 1123.6L1154.0 1123.6L1154.2 1123.6L1154.4 1123.1L1154.6 1123.4L1154.8 1123.6L1155.0 1143.8L1155.2 1152.1L1155.5 1155.1L1155.7 1156.0L1155.9 1157.3L1156.1 1157.3L1156.3 1157.9L1156.5 1158.4L1156.7 1157.9L1157.0 1158.2L1157.2 1158.6L1157.4 1158.8L1157.6 1158.5L1157.8 1159.3L1158.0 1159.3L1158.2 1159.4L1158.5 1159.6L1158.7 1159.8L1158.9 1159.4L1159.1 1159.9L1159.3 1159.7L1159.5 1159.7L1159.7 1159.7L1160.0 1160.4L1160.2 1159.3" fill="none" stroke="#007f00" stroke-width="6.0" stroke-linejoin="round" stroke-linecap="round"/>
<path d="M1180.7 770.4L1180.9 770.4L1181.1 771.3L1181.3 769.9L1181.4 770.9L1181.6 769.9L1181.8 771.6L1181.9 771.1L1182.1 771.7L1182.3 770.7L1182.5 771.2L1182.6 770.9L1182.8 770.6L1183.0 771.1L1183.1 770.4L1183.3 770.8L1183.5 771.3L1183.7 771.0L1183.8 770.8L1184.0 772.1L1184.2 771.0L1184.3 770.7L1184.5 771.1L1184.7 770.7L1184.9 770.8L1185.0 770.8L1185.2 772.0L1185.4 771.0L1185.5 771.1L1185.7 771.3L1185.9 772.0L1186.1 770.9L1186.2 770.7L1186.4 772.2L1186.6 770.3L1186.7 770.8L1186.9 771.3L1187.1 772.1L1187.3 770.5L1187.4 769.8L1187.6 771.3L1187.8 770.7L1187.9 770.8L1188.1 771.2L1188.3 771.1L1188.5 771.1L1188.6 770.8L1188.8 771.6L1189.0 960.2L1189.1 1106.6L1189.3 1146.0L1189.5 1157.8L1189.7 1161.4L1189.8 1162.4L1190.0 1163.8L1190.2 1165.5L1190.4 1165.8L1190.5 1166.5L1190.7 1167.5L1190.9 1168.1L1191.0 1168.9L1191.2 1168.5L1191.4 1171.0L1191.6 1170.8L1191.7 1170.8L1191.9 1172.3L1192.1 1172.5L1192.2 1172.8L1192.4 1173.8L1192.6 1174.8L1192.8 1174.4L1192.9 1175.3L1193.1 1175.9L1193.3 1174.7L1193.4 1175.2L1193.6 1176.2L1193.8 1175.3L1194.0 1176.3L1194.1 1177.3L1194.3 1177.4L1194.5 1177.4L1194.6 1176.4L1194.8 1178.8L1195.0 1178.1L1195.2 1178.4L1195.3 1178.4L1195.5 1177.5L1195.7 1177.8L1195.8 1178.1L1196.0 1179.8L1196.2 1178.5L1196.4 1179.0L1196.5 1179.1L1196.7 1179.6L1196.9 1179.7L1197.0 1179.7L1197.2 1179.0L1197.4 1178.2L1197.6 1179.9L1197.7 1180.1L1197.9 1180.6L1198.1 1180.0L1198.2 1179.8L1198.4 1180.4L1198.6 1179.5L1198.8 1179.8L1198.9 1179.9L1199.1 1180.6L1199.3 1181.6L1199.4 1181.0L1199.6 1181.2L1199.8 1180.8L1200.0 864.7L1200.1 784.7L1200.3 773.5L1200.5 770.6L1200.6 770.9L1200.8 770.6L1201.0 771.6L1201.2 771.5L1201.3 771.6L1201.5 771.8L1201.7 770.8L1201.8 771.5L1202.0 771.9L1202.2 770.9L1202.4 771.5L1202.5 770.8L1202.7 770.1L1202.9 771.0L1203.0 770.5L1203.2 771.0L1203.4 770.7L1203.6 771.1L1203.7 769.9L1203.9 772.0L1204.1 771.6L1204.2 770.8L1204.4 770.5L1204.6 770.9L1204.8 771.3L1204.9 771.2L1205.1 771.2L1205.3 770.0L1205.4 770.4L1205.6 771.6L1205.8 771.1L1206.0 770.2L1206.1 770.5L1206.3 770.2L1206.5 770.5L1206.6 771.6L1206.8 770.9L1207.0 771.5L1207.2 771.1L1207.3 770.2L1207.5 770.7L1207.7 772.1L1207.8 770.6L1208.0 770.5L1208.2 771.6L1208.4 771.0L1208.5 771.0L1208.7 771.7L1208.9 770.1L1209.0 771.2L1209.2 770.5L1209.4 770.3L1209.6 770.6L1209.7 771.6L1209.9 770.9L1210.1 770.1L1210.2 770.4L1210.4 771.8L1210.6 881.2L1210.8 1085.0L1210.9 1141.7L1211.1 1155.5L1211.3 1159.9L1211.4 1162.5L1211.6 1164.2L1211.8 1165.6L1212.0 1166.2L1212.1 1166.2L1212.3 1167.0L1212.5 1167.2L1212.6 1168.6L1212.8 1169.0L1213.0 1170.1L1213.2 1169.9L1213.3 1170.9L1213.5 1171.2L1213.7 1171.6L1213.8 1172.1L1214.0 1172.6L1214.2 1173.0L1214.4 1174.3L1214.5 1174.4L1214.7 1174.1L1214.9 1175.4L1215.0 1175.6L1215.2 1176.5L1215.4 1175.9L1215.6 1176.2L1215.7 1176.2L1215.9 1176.9L1216.1 1177.3L1216.2 1177.4L1216.4 1177.4L1216.6 1178.0L1216.8 1178.0L1216.9 1178.2L1217.1 1177.8L1217.3 1178.6L1217.4 1178.1L1217.6 1178.3L1217.8 1179.0L1218.0 1180.1L1218.1 1179.7L1218.3 1179.3L1218.5 1179.3L1218.6 1180.0L1218.8 1180.3L1219.0 1180.3L1219.2 1179.7L1219.3 1180.0L1219.5 1179.8L1219.7 1179.9L1219.8 1179.7L1220.0 1180.1L1220.2 1179.2L1220.4 1179.7L1220.5 1180.6L1220.7 1180.0L1220.9 1180.8L1221.0 1179.9L1221.2 1180.4L1221.4 864.7L1221.6 784.4L1221.7 773.3L1221.9 773.1L1222.1 771.1L1222.2 770.9L1222.4 770.9L1222.6 771.1L1222.8 771.1L1222.9 771.5L1223.1 771.4L1223.3 770.8L1223.4 770.8L1223.6 770.2L1223.8 770.2L1224.0 770.5L1224.1 771.3L1224.3 771.0L1224.5 771.3L1224.6 771.4L1224.8 770.8L1225.0 772.0L1225.2 770.7L1225.3 770.6L1225.5 770.7L1225.7 771.5L1225.8 770.9L1226.0 770.6L1226.2 771.2L1226.4 771.5L1226.5 770.9L1226.7 770.8L1226.9 771.5L1227.0 771.5L1227.2 771.4L1227.4 770.6L1227.6 771.1L1227.7 771.2L1227.9 770.1L1228.1 771.6L1228.2 771.0L1228.4 770.8L1228.6 772.1L1228.8 771.1L1228.9 770.6L1229.1 771.0L1229.3 771.3L1229.4 771.4L1229.6 771.0L1229.8 770.5L1230.0 770.6L1230.1 770.6L1230.3 770.5L1230.5 771.0L1230.6 770.7L1230.8 771.0L1231.0 770.6L1231.2 770.6L1231.3 770.9L1231.5 770.8L1231.7 771.6L1231.8 770.5L1232.0 880.8L1232.2 1085.6L1232.4 1139.8L1232.5 1156.1L1232.7 1160.6L1232.9 1161.5L1233.0 1164.1L1233.2 1165.2L1233.4 1165.2L1233.6 1167.3L1233.7 1167.3L1233.9 1167.4L1234.1 1169.0L1234.2 1169.2L1234.4 1169.3L1234.6 1169.5L1234.8 1171.3L1234.9 1171.3L1235.1 1172.5L1235.3 1172.9L1235.4 1172.9L1235.6 1173.3L1235.8 1174.9L1236.0 1175.2L1236.1 1175.1L1236.3 1174.9L1236.5 1174.9L1236.6 1175.5L1236.8 1176.9L1237.0 1176.6L1237.2 1176.4L1237.3 1176.2L1237.5 1177.2L1237.7 1176.9L1237.9 1177.5L1238.0 1178.1L1238.2 1178.5L1238.4 1178.2L1238.5 1178.1L1238.7 1178.6L1238.9 1179.5L1239.1 1179.0L1239.2 1178.2L1239.4 1179.8L1239.6 1179.3L1239.7 1181.1L1239.9 1179.2L1240.1 1179.5L1240.3 1179.5L1240.4 1179.9L1240.6 1179.5L1240.8 1179.1L1240.9 1179.0L1241.1 1180.0L1241.3 1179.9L1241.5 1179.9L1241.6 1181.4L1241.8 1180.7L1242.0 1181.0L1242.1 1180.2L1242.3 1180.7L1242.5 1180.5L1242.7 1180.5L1242.8 864.9L1243.0 785.3L1243.2 773.8L1243.3 771.9L1243.5 770.7L1243.7 770.9L1243.9 771.4L1244.0 770.9L1244.2 770.7L1244.4 771.2L1244.5 770.5L1244.7 770.6L1244.9 771.4L1245.1 770.8L1245.2 771.7L1245.4 771.2L1245.6 771.3L1245.7 771.5L1245.9 769.8L1246.1 770.9L1246.3 770.3L1246.4 770.7L1246.6 770.9L1246.8 771.6L1246.9 770.9L1247.1 771.8L1247.3 770.7L1247.5 770.9L1247.6 771.0L1247.8 771.4L1248.0 770.9L1248.1 770.6L1248.3 770.8L1248.5 770.3L1248.7 771.6L1248.8 771.3L1249.0 771.2L1249.2 771.1L1249.3 770.7L1249.5 770.8L1249.7 771.4L1249.9 770.6L1250.0 770.6L1250.2 771.8L1250.4 771.8L1250.5 771.1L1250.7 771.3L1250.9 771.1L1251.1 771.7L1251.2 770.8L1251.4 771.0L1251.6 771.2L1251.7 771.7L1251.9 770.9L1252.1 771.1L1252.3 770.7L1252.4 770.7L1252.6 770.7L1252.8 771.0L1252.9 771.4L1253.1 770.6L1253.3 770.7L1253.5 880.5L1253.6 1085.8L1253.8 1140.8L1254.0 1155.1L1254.1 1160.7L1254.3 1162.0L1254.5 1164.1L1254.7 1164.3L1254.8 1165.1L1255.0 1166.1L1255.2 1167.2L1255.3 1167.5L1255.5 1168.8L1255.7 1169.4L1255.9 1170.0L1256.0 1170.7L1256.2 1171.6L1256.4 1171.3L1256.5 1172.2L1256.7 1172.7L1256.9 1172.1L1257.1 1173.8L1257.2 1173.6L1257.4 1174.0L1257.6 1174.5L1257.7 1175.1L1257.9 1175.6L1258.1 1176.0L1258.3 1175.7L1258.4 1176.7L1258.6 1176.8L1258.8 1176.7L1258.9 1177.1L1259.1 1177.7L1259.3 1177.8L1259.5 1178.1L1259.6 1178.0L1259.8 1178.7L1260.0 1179.4L1260.1 1178.7L1260.3 1177.8L1260.5 1179.6L1260.7 1178.6L1260.8 1178.4L1261.0 1178.0L1261.2 1179.5L1261.3 1180.0L1261.5 1180.0L1261.7 1179.4L1261.9 1180.4L1262.0 1179.8L1262.2 1179.6L1262.4 1180.0L1262.5 1180.2L1262.7 1180.2L1262.9 1180.4L1263.1 1179.2L1263.2 1181.1L1263.4 1180.1L1263.6 1180.8L1263.7 1180.1L1263.9 1180.6L1264.1 1180.5L1264.3 863.7L1264.4 785.2L1264.6 774.0L1264.8 771.3L1264.9 770.4L1265.1 771.0L1265.3 770.8L1265.5 771.2L1265.6 771.1L1265.8 771.8L1266.0 771.3L1266.1 770.8L1266.3 771.0L1266.5 769.5L1266.7 770.5L1266.8 770.5L1267.0 770.9L1267.2 771.1L1267.3 771.0L1267.5 771.4L1267.7 770.6L1267.9 771.1L1268.0 770.9L1268.2 770.9L1268.4 771.1L1268.5 770.8L1268.7 771.0L1268.9 770.9L1269.1 771.5L1269.2 770.9L1269.4 771.1L1269.6 772.3L1269.7 771.3L1269.9 771.2L1270.1 771.5L1270.3 770.5L1270.4 771.3L1270.6 771.3L1270.8 771.2L1270.9 771.5L1271.1 771.4L1271.3 771.6L1271.5 770.7L1271.6 771.2L1271.8 770.7L1272.0 771.6L1272.1 771.1L1272.3 770.3L1272.5 771.0L1272.7 770.5L1272.8 771.5L1273.0 770.8L1273.2 769.9L1273.3 770.8L1273.5 771.5L1273.7 771.2L1273.9 770.7L1274.0 771.3L1274.2 771.3L1274.4 771.7L1274.5 771.4L1274.7 771.2L1274.9 880.3L1275.1 1085.7L1275.2 1140.6L1275.4 1155.7L1275.6 1160.7L1275.7 1161.9L1275.9 1164.0L1276.1 1164.7L1276.3 1165.8L1276.4 1166.4L1276.6 1167.1L1276.8 1168.1L1276.9 1169.1L1277.1 1169.2L1277.3 1170.1L1277.5 1170.2L1277.6 1171.4L1277.8 1171.7L1278.0 1171.6L1278.1 1173.3L1278.3 1172.7L1278.5 1173.6L1278.7 1173.3L1278.8 1173.5L1279.0 1175.1L1279.2 1174.4L1279.3 1174.4L1279.5 1175.6L1279.7 1175.3L1279.9 1176.2L1280.0 1177.5L1280.2 1176.7L1280.4 1177.3L1280.5 1177.6L1280.7 1177.7L1280.9 1177.7L1281.1 1178.7L1281.2 1178.1L1281.4 1178.5L1281.6 1178.5L1281.7 1178.0L1281.9 1178.9L1282.1 1178.9L1282.3 1179.4L1282.4 1179.5L1282.6 1180.1L1282.8 1178.5L1282.9 1179.2L1283.1 1179.4L1283.3 1179.3L1283.5 1180.0L1283.6 1179.9L1283.8 1180.1L1284.0 1179.3L1284.1 1179.7L1284.3 1180.2L1284.5 1180.1L1284.7 1180.0L1284.8 1180.3L1285.0 1180.3L1285.2 1180.0L1285.4 1181.4L1285.5 1180.3L1285.7 864.8L1285.9 785.3L1286.0 774.1L1286.2 771.6L1286.4 771.0L1286.6 771.5L1286.7 771.3L1286.9 770.0L1287.1 769.8L1287.2 770.8L1287.4 770.8L1287.6 770.8L1287.8 771.2L1287.9 770.5L1288.1 772.2L1288.3 771.4L1288.4 771.6L1288.6 771.1L1288.8 769.9L1289.0 771.0L1289.1 770.6L1289.3 771.1L1289.5 770.9L1289.6 771.3L1289.8 770.5L1290.0 770.8L1290.2 770.9L1290.3 770.6L1290.5 770.7L1290.7 771.3L1290.8 771.9L1291.0 770.9L1291.2 771.4L1291.4 770.4L1291.5 770.7L1291.7 771.1L1291.9 771.3L1292.0 770.5L1292.2 771.3L1292.4 771.0L1292.6 771.6L1292.7 771.4L1292.9 771.3L1293.1 770.8L1293.2 771.1L1293.4 770.6L1293.6 770.6L1293.8 770.1L1293.9 770.3L1294.1 770.4L1294.3 770.9L1294.4 771.0L1294.6 770.3L1294.8 770.9L1295.0 771.2L1295.1 771.5L1295.3 770.9L1295.5 771.1L1295.6 770.8L1295.8 771.5L1296.0 770.2L1296.2 771.1L1296.3 879.6L1296.5 1086.4L1296.7 1140.9L1296.8 1154.7L1297.0 1160.3L1297.2 1161.8L1297.4 1162.9L1297.5 1164.5L1297.7 1165.2L1297.9 1167.0L1298.0 1167.0L1298.2 1167.4L1298.4 1168.6L1298.6 1169.5L1298.7 1170.4L1298.9 1170.8L1299.1 1170.4L1299.2 1171.3L1299.4 1172.1L1299.6 1172.3L1299.8 1173.5L1299.9 1173.4L1300.1 1173.9L1300.3 1174.2L1300.4 1174.8L1300.6 1174.3L1300.8 1176.5L1301.0 1175.5L1301.1 1175.7L1301.3 1175.4L1301.5 1176.5L1301.6 1176.2L1301.8 1177.2L1302.0 1177.9L1302.2 1177.8L1302.3 1177.5L1302.5 1178.6L1302.7 1178.0L1302.8 1178.3L1303.0 1178.5L1303.2 1178.4L1303.4 1179.0L1303.5 1178.3L1303.7 1178.2L1303.9 1179.8L1304.0 1178.9L1304.2 1179.2L1304.4 1179.7L1304.6 1179.4L1304.7 1179.1L1304.9 1179.7L1305.1 1179.4L1305.2 1180.2L1305.4 1179.8L1305.6 1180.0L1305.8 1180.6L1305.9 1179.5L1306.1 1179.6L1306.3 1180.7L1306.4 1181.1L1306.6 1180.5L1306.8 1180.2L1307.0 1181.2L1307.1 864.8L1307.3 785.5L1307.5 772.8L1307.6 771.8L1307.8 770.9L1308.0 770.7L1308.2 771.5L1308.3 771.5L1308.5 770.8L1308.7 770.9L1308.8 771.7" fill="none" stroke="#ff0000" stroke-width="6.0" stroke-linejoin="round" stroke-linecap="round"/>
<rect x="1533.9" y="727.3" width="514.6999999999998" height="513.4000000000001" fill="none" stroke="#000" stroke-width="2.2"/>
<path d="M1576.8 1240.7v-9.5M1619.7 1240.7v-5.5M1662.6 1240.7v-9.5M1705.4 1240.7v-5.5M1748.3 1240.7v-9.5M1791.2 1240.7v-5.5M1834.1 1240.7v-9.5M1877.0 1240.7v-5.5M1919.8 1240.7v-9.5M1962.7 1240.7v-5.5M2005.6 1240.7v-9.5M1533.9 1224.4h5.0M1533.9 1211.3h5.0M1533.9 1200.2h5.0M1533.9 1190.6h5.0M1533.9 1182.1h5.0M1533.9 1174.5h9.5M1533.9 1124.6h5.0M1533.9 1095.4h5.0M1533.9 1074.6h5.0M1533.9 1058.6h5.0M1533.9 1045.4h5.0M1533.9 1034.3h5.0M1533.9 1024.7h5.0M1533.9 1016.2h5.0M1533.9 1008.6h9.5M1533.9 958.7h5.0M1533.9 929.5h5.0M1533.9 908.8h5.0M1533.9 892.7h5.0M1533.9 879.6h5.0M1533.9 868.5h5.0M1533.9 858.9h5.0M1533.9 850.4h5.0M1533.9 842.8h9.5M1533.9 792.9h5.0M1533.9 763.7h5.0M1533.9 742.9h5.0" stroke="#000" stroke-width="2" fill="none"/>
<text x="1576.8" y="1274.0" font-size="30" text-anchor="middle" fill="#000">0</text>
<text x="1662.6" y="1274.0" font-size="30" text-anchor="middle" fill="#000">20</text>
<text x="1748.3" y="1274.0" font-size="30" text-anchor="middle" fill="#000">40</text>
<text x="1834.1" y="1274.0" font-size="30" text-anchor="middle" fill="#000">60</text>
<text x="1919.8" y="1274.0" font-size="30" text-anchor="middle" fill="#000">80</text>
<text x="2005.6" y="1274.0" font-size="30" text-anchor="middle" fill="#000">100</text>
<text x="1523.9" y="855.1" font-size="30" text-anchor="end">10<tspan font-size="20.5" dy="-13.8">-7</tspan></text>
<text x="1523.9" y="1020.9" font-size="30" text-anchor="end">10<tspan font-size="20.5" dy="-13.8">-8</tspan></text>
<text x="1523.9" y="1186.8" font-size="30" text-anchor="end">10<tspan font-size="20.5" dy="-13.8">-9</tspan></text>
<text x="1439.3" y="954.2" font-size="39" text-anchor="middle" fill="#000" transform="rotate(-90 1439.3 954.2)">Current (A)</text>
<text x="1798.6" y="1319.6" font-size="39" text-anchor="middle" fill="#000">Time (s)</text>
<text x="1419.5" y="774.0" font-size="71" fill="#000">d</text>
<text x="1552.5" y="774.5" font-size="42.5" fill="#ff4fb4"><tspan font-size="42.5">Te</tspan><tspan font-size="26.6" dy="9.8">0.5</tspan><tspan font-size="42.5" dy="-9.8">Se</tspan><tspan font-size="26.6" dy="9.8">0.5</tspan><tspan font-size="42.5" dy="-9.8">O</tspan><tspan font-size="26.6" dy="9.8">0.32</tspan></text>
<path d="M1576.8 1016.0L1577.0 1016.0L1577.1 1016.0L1577.3 1016.0L1577.5 1016.0L1577.7 1016.0L1577.8 1016.0L1578.0 1016.0L1578.2 1016.0L1578.3 1016.0L1578.5 1016.0L1578.7 1016.0L1578.9 1016.0L1579.0 1016.0L1579.2 1016.0L1579.4 1016.0L1579.5 1016.0L1579.7 1016.0L1579.9 1096.1L1580.1 1158.7L1580.2 1175.8L1580.4 1180.7L1580.6 1182.4L1580.7 1183.2L1580.9 1183.8L1581.1 1184.2L1581.3 1184.6L1581.4 1185.0L1581.6 1185.3L1581.8 1185.6L1581.9 1185.8L1582.1 1186.1L1582.3 1186.3L1582.5 1186.5L1582.6 1186.6L1582.8 1186.8L1583.0 1186.9L1583.1 1187.1L1583.3 1187.2L1583.5 1187.3L1583.7 1187.4L1583.8 1187.5L1584.0 1187.6L1584.2 1187.6L1584.3 1187.7L1584.5 1187.7L1584.7 1187.8L1584.9 1187.8L1585.0 1187.9L1585.2 1187.9L1585.4 1188.0L1585.5 1188.0L1585.7 1188.0L1585.9 1188.1L1586.1 1188.1L1586.2 1188.1L1586.4 1188.1L1586.6 1188.1L1586.7 1188.1L1586.9 1188.2L1587.1 1188.2L1587.3 1188.2L1587.4 1188.2L1587.6 1188.2L1587.8 1188.2L1587.9 1188.2L1588.1 1188.2L1588.3 1188.2L1588.5 1188.2L1588.6 1188.3L1588.8 1188.3L1589.0 1188.3L1589.1 1188.3L1589.3 1188.3L1589.5 1188.3L1589.7 1188.3L1589.8 1040.1L1590.0 1019.6L1590.2 1016.4L1590.4 1015.6L1590.5 1015.1L1590.7 1014.8L1590.9 1014.5L1591.0 1014.2L1591.2 1014.0L1591.4 1013.8L1591.6 1013.6L1591.7 1013.5L1591.9 1013.3L1592.1 1013.2L1592.2 1013.1L1592.4 1013.0L1592.6 1012.9L1592.8 1012.9L1592.9 1012.8L1593.1 1012.8L1593.3 1012.7L1593.4 1012.7L1593.6 1012.6L1593.8 1012.6L1594.0 1012.6L1594.1 1012.6L1594.3 1012.5L1594.5 1012.5L1594.6 1012.5L1594.8 1012.5L1595.0 1012.5L1595.2 1012.5L1595.3 1012.5L1595.5 1012.5L1595.7 1012.4L1595.8 1012.4L1596.0 1012.4L1596.2 1012.4L1596.4 1012.4L1596.5 1012.4L1596.7 1012.4L1596.9 1012.4L1597.0 1012.4L1597.2 1012.4L1597.4 1012.4L1597.6 1012.4L1597.7 1012.4L1597.9 1012.4L1598.1 1012.4L1598.2 1012.4L1598.4 1012.4L1598.6 1012.4L1598.8 1012.4L1598.9 1012.4L1599.1 1012.4L1599.3 1012.4L1599.4 1012.4L1599.6 1012.4L1599.8 1012.4L1600.0 1012.4L1600.1 1012.4L1600.3 1012.4L1600.5 1012.4L1600.6 1012.4L1600.8 1012.4L1601.0 1012.4L1601.2 1118.7L1601.3 1164.7L1601.5 1177.3L1601.7 1181.1L1601.8 1182.5L1602.0 1183.3L1602.2 1183.8L1602.4 1184.2L1602.5 1184.6L1602.7 1185.0L1602.9 1185.3L1603.0 1185.6L1603.2 1185.8L1603.4 1186.1L1603.6 1186.3L1603.7 1186.5L1603.9 1186.7L1604.1 1186.8L1604.2 1187.0L1604.4 1187.1L1604.6 1187.2L1604.8 1187.3L1604.9 1187.4L1605.1 1187.5L1605.3 1187.6L1605.4 1187.6L1605.6 1187.7L1605.8 1187.8L1606.0 1187.8L1606.1 1187.9L1606.3 1187.9L1606.5 1187.9L1606.6 1188.0L1606.8 1188.0L1607.0 1188.0L1607.2 1188.1L1607.3 1188.1L1607.5 1188.1L1607.7 1188.1L1607.8 1188.1L1608.0 1188.2L1608.2 1188.2L1608.4 1188.2L1608.5 1188.2L1608.7 1188.2L1608.9 1188.2L1609.0 1188.2L1609.2 1188.2L1609.4 1188.2L1609.6 1188.2L1609.7 1188.2L1609.9 1188.3L1610.1 1188.3L1610.2 1188.3L1610.4 1188.3L1610.6 1188.3L1610.8 1188.3L1610.9 1188.3L1611.1 1188.3L1611.3 1040.1L1611.4 1019.6L1611.6 1016.4L1611.8 1015.6L1612.0 1015.1L1612.1 1014.8L1612.3 1014.5L1612.5 1014.2L1612.6 1014.0L1612.8 1013.8L1613.0 1013.6L1613.2 1013.5L1613.3 1013.3L1613.5 1013.2L1613.7 1013.1L1613.8 1013.0L1614.0 1012.9L1614.2 1012.9L1614.4 1012.8L1614.5 1012.8L1614.7 1012.7L1614.9 1012.7L1615.0 1012.6L1615.2 1012.6L1615.4 1012.6L1615.6 1012.6L1615.7 1012.5L1615.9 1012.5L1616.1 1012.5L1616.2 1012.5L1616.4 1012.5L1616.6 1012.5L1616.8 1012.5L1616.9 1012.5L1617.1 1012.4L1617.3 1012.4L1617.5 1012.4L1617.6 1012.4L1617.8 1012.4L1618.0 1012.4L1618.1 1012.4L1618.3 1012.4L1618.5 1012.4L1618.7 1012.4L1618.8 1012.4L1619.0 1012.4L1619.2 1012.4L1619.3 1012.4L1619.5 1012.4L1619.7 1012.4L1619.9 1012.4L1620.0 1012.4L1620.2 1012.4L1620.4 1012.4L1620.5 1012.4L1620.7 1012.4L1620.9 1012.4L1621.1 1012.4L1621.2 1012.4L1621.4 1012.4L1621.6 1012.4L1621.7 1012.4L1621.9 1012.4L1622.1 1012.4L1622.3 1012.4L1622.4 1012.4L1622.6 1118.7L1622.8 1164.7L1622.9 1177.3L1623.1 1181.1L1623.3 1182.5L1623.5 1183.3L1623.6 1183.8L1623.8 1184.2L1624.0 1184.6L1624.1 1185.0L1624.3 1185.3L1624.5 1185.6L1624.7 1185.8L1624.8 1186.1L1625.0 1186.3L1625.2 1186.5L1625.3 1186.7L1625.5 1186.8L1625.7 1187.0L1625.9 1187.1L1626.0 1187.2L1626.2 1187.3L1626.4 1187.4L1626.5 1187.5L1626.7 1187.6L1626.9 1187.6L1627.1 1187.7L1627.2 1187.8L1627.4 1187.8L1627.6 1187.9L1627.7 1187.9L1627.9 1187.9L1628.1 1188.0L1628.3 1188.0L1628.4 1188.0L1628.6 1188.1L1628.8 1188.1L1628.9 1188.1L1629.1 1188.1L1629.3 1188.1L1629.5 1188.2L1629.6 1188.2L1629.8 1188.2L1630.0 1188.2L1630.1 1188.2L1630.3 1188.2L1630.5 1188.2L1630.7 1188.2L1630.8 1188.2L1631.0 1188.2L1631.2 1188.2L1631.3 1188.3L1631.5 1188.3L1631.7 1188.3L1631.9 1188.3L1632.0 1188.3L1632.2 1188.3L1632.4 1188.3L1632.5 1188.3L1632.7 1040.1L1632.9 1019.6L1633.1 1016.4L1633.2 1015.6L1633.4 1015.1L1633.6 1014.8L1633.7 1014.5L1633.9 1014.2L1634.1 1014.0L1634.3 1013.8L1634.4 1013.6L1634.6 1013.5L1634.8 1013.3L1634.9 1013.2L1635.1 1013.1L1635.3 1013.0L1635.5 1012.9L1635.6 1012.9L1635.8 1012.8L1636.0 1012.8L1636.1 1012.7L1636.3 1012.7L1636.5 1012.6L1636.7 1012.6L1636.8 1012.6L1637.0 1012.6L1637.2 1012.5L1637.3 1012.5L1637.5 1012.5L1637.7 1012.5L1637.9 1012.5L1638.0 1012.5L1638.2 1012.5L1638.4 1012.5L1638.5 1012.4L1638.7 1012.4L1638.9 1012.4L1639.1 1012.4L1639.2 1012.4L1639.4 1012.4L1639.6 1012.4L1639.7 1012.4L1639.9 1012.4L1640.1 1012.4L1640.3 1012.4L1640.4 1012.4L1640.6 1012.4L1640.8 1012.4L1640.9 1012.4L1641.1 1012.4L1641.3 1012.4L1641.5 1012.4L1641.6 1012.4L1641.8 1012.4L1642.0 1012.4L1642.1 1012.4L1642.3 1012.4L1642.5 1012.4L1642.7 1012.4L1642.8 1012.4L1643.0 1012.4L1643.2 1012.4L1643.3 1012.4L1643.5 1012.4L1643.7 1012.4L1643.9 1012.4L1644.0 1118.7L1644.2 1164.7L1644.4 1177.3L1644.6 1181.1L1644.7 1182.5L1644.9 1183.3L1645.1 1183.8L1645.2 1184.2L1645.4 1184.6L1645.6 1185.0L1645.8 1185.3L1645.9 1185.6L1646.1 1185.8L1646.3 1186.1L1646.4 1186.3L1646.6 1186.5L1646.8 1186.7L1647.0 1186.8L1647.1 1187.0L1647.3 1187.1L1647.5 1187.2L1647.6 1187.3L1647.8 1187.4L1648.0 1187.5L1648.2 1187.6L1648.3 1187.6L1648.5 1187.7L1648.7 1187.8L1648.8 1187.8L1649.0 1187.9L1649.2 1187.9L1649.4 1187.9L1649.5 1188.0L1649.7 1188.0L1649.9 1188.0L1650.0 1188.1L1650.2 1188.1L1650.4 1188.1L1650.6 1188.1L1650.7 1188.1L1650.9 1188.2L1651.1 1188.2L1651.2 1188.2L1651.4 1188.2L1651.6 1188.2L1651.8 1188.2L1651.9 1188.2L1652.1 1188.2L1652.3 1188.2L1652.4 1188.2L1652.6 1188.2L1652.8 1188.3L1653.0 1188.3L1653.1 1188.3L1653.3 1188.3L1653.5 1188.3L1653.6 1188.3L1653.8 1188.3L1654.0 1188.3L1654.2 1040.1L1654.3 1019.6L1654.5 1016.4L1654.7 1015.6L1654.8 1015.1L1655.0 1014.8L1655.2 1014.5L1655.4 1014.2L1655.5 1014.0L1655.7 1013.8L1655.9 1013.6L1656.0 1013.5L1656.2 1013.3L1656.4 1013.2L1656.6 1013.1L1656.7 1013.0L1656.9 1012.9L1657.1 1012.9L1657.2 1012.8L1657.4 1012.8L1657.6 1012.7L1657.8 1012.7L1657.9 1012.6L1658.1 1012.6L1658.3 1012.6L1658.4 1012.6L1658.6 1012.5L1658.8 1012.5L1659.0 1012.5L1659.1 1012.5L1659.3 1012.5L1659.5 1012.5L1659.6 1012.5L1659.8 1012.5L1660.0 1012.4L1660.2 1012.4L1660.3 1012.4L1660.5 1012.4L1660.7 1012.4L1660.8 1012.4L1661.0 1012.4L1661.2 1012.4L1661.4 1012.4L1661.5 1012.4L1661.7 1012.4L1661.9 1012.4L1662.0 1012.4L1662.2 1012.4L1662.4 1012.4L1662.6 1012.4L1662.7 1012.4L1662.9 1012.4L1663.1 1012.4L1663.2 1012.4L1663.4 1012.4L1663.6 1012.4L1663.8 1012.4L1663.9 1012.4L1664.1 1012.4L1664.3 1012.4L1664.4 1012.4L1664.6 1012.4L1664.8 1012.4L1665.0 1012.4L1665.1 1012.4L1665.3 1012.4L1665.5 1118.7L1665.6 1164.7L1665.8 1177.3L1666.0 1181.1L1666.2 1182.5L1666.3 1183.3L1666.5 1183.8L1666.7 1184.2L1666.8 1184.6L1667.0 1185.0L1667.2 1185.3L1667.4 1185.6L1667.5 1185.8L1667.7 1186.1L1667.9 1186.3L1668.0 1186.5L1668.2 1186.7L1668.4 1186.8L1668.6 1187.0L1668.7 1187.1L1668.9 1187.2L1669.1 1187.3L1669.2 1187.4L1669.4 1187.5L1669.6 1187.6L1669.8 1187.6L1669.9 1187.7L1670.1 1187.8L1670.3 1187.8L1670.4 1187.9L1670.6 1187.9L1670.8 1187.9L1671.0 1188.0L1671.1 1188.0L1671.3 1188.0L1671.5 1188.1L1671.7 1188.1L1671.8 1188.1L1672.0 1188.1L1672.2 1188.1L1672.3 1188.2L1672.5 1188.2L1672.7 1188.2L1672.9 1188.2L1673.0 1188.2L1673.2 1188.2L1673.4 1188.2L1673.5 1188.2L1673.7 1188.2L1673.9 1188.2L1674.1 1188.2L1674.2 1188.3L1674.4 1188.3L1674.6 1188.3L1674.7 1188.3L1674.9 1188.3L1675.1 1188.3L1675.3 1188.3L1675.4 1188.3L1675.6 1040.1L1675.8 1019.6L1675.9 1016.4L1676.1 1015.6L1676.3 1015.1L1676.5 1014.8L1676.6 1014.5L1676.8 1014.2L1677.0 1014.0L1677.1 1013.8L1677.3 1013.6L1677.5 1013.5L1677.7 1013.3L1677.8 1013.2L1678.0 1013.1L1678.2 1013.0L1678.3 1012.9L1678.5 1012.9L1678.7 1012.8L1678.9 1012.8L1679.0 1012.7L1679.2 1012.7L1679.4 1012.6L1679.5 1012.6L1679.7 1012.6L1679.9 1012.6L1680.1 1012.5L1680.2 1012.5L1680.4 1012.5L1680.6 1012.5L1680.7 1012.5L1680.9 1012.5L1681.1 1012.5L1681.3 1012.5L1681.4 1012.4L1681.6 1012.4L1681.8 1012.4L1681.9 1012.4L1682.1 1012.4L1682.3 1012.4L1682.5 1012.4L1682.6 1012.4L1682.8 1012.4L1683.0 1012.4L1683.1 1012.4L1683.3 1012.4L1683.5 1012.4L1683.7 1012.4L1683.8 1012.4L1684.0 1012.4L1684.2 1012.4L1684.3 1012.4L1684.5 1012.4L1684.7 1012.4L1684.9 1012.4L1685.0 1012.4L1685.2 1012.4L1685.4 1012.4L1685.5 1012.4L1685.7 1012.4L1685.9 1012.4L1686.1 1012.4L1686.2 1012.4L1686.4 1012.4L1686.6 1012.4L1686.7 1012.4L1686.9 1118.7L1687.1 1164.7L1687.3 1177.3L1687.4 1181.1L1687.6 1182.5L1687.8 1183.3L1687.9 1183.8L1688.1 1184.2L1688.3 1184.6L1688.5 1185.0L1688.6 1185.3L1688.8 1185.6L1689.0 1185.8L1689.1 1186.1L1689.3 1186.3L1689.5 1186.5L1689.7 1186.7L1689.8 1186.8L1690.0 1187.0L1690.2 1187.1L1690.3 1187.2L1690.5 1187.3L1690.7 1187.4L1690.9 1187.5L1691.0 1187.6L1691.2 1187.6L1691.4 1187.7L1691.5 1187.8L1691.7 1187.8L1691.9 1187.9L1692.1 1187.9L1692.2 1187.9L1692.4 1188.0L1692.6 1188.0L1692.7 1188.0L1692.9 1188.1L1693.1 1188.1L1693.3 1188.1L1693.4 1188.1L1693.6 1188.1L1693.8 1188.2L1693.9 1188.2L1694.1 1188.2L1694.3 1188.2L1694.5 1188.2L1694.6 1188.2L1694.8 1188.2L1695.0 1188.2L1695.1 1188.2L1695.3 1188.2L1695.5 1188.2L1695.7 1188.3L1695.8 1188.3L1696.0 1188.3L1696.2 1188.3L1696.3 1188.3L1696.5 1188.3L1696.7 1188.3L1696.9 1188.3L1697.0 1040.1L1697.2 1019.6L1697.4 1016.4L1697.6 1015.6L1697.7 1015.1L1697.9 1014.8L1698.1 1014.5L1698.2 1014.2L1698.4 1014.0L1698.6 1013.8L1698.8 1013.6L1698.9 1013.5L1699.1 1013.3L1699.3 1013.2L1699.4 1013.1L1699.6 1013.0L1699.8 1012.9L1700.0 1012.9L1700.1 1012.8L1700.3 1012.8L1700.5 1012.7L1700.6 1012.7L1700.8 1012.6L1701.0 1012.6L1701.2 1012.6L1701.3 1012.6L1701.5 1012.5L1701.7 1012.5L1701.8 1012.5L1702.0 1012.5L1702.2 1012.5L1702.4 1012.5L1702.5 1012.5L1702.7 1012.5L1702.9 1012.4L1703.0 1012.4L1703.2 1012.4L1703.4 1012.4L1703.6 1012.4L1703.7 1012.4L1703.9 1012.4L1704.1 1012.4L1704.2 1012.4L1704.4 1012.4L1704.6 1012.4L1704.8 1012.4L1704.9 1012.4L1705.1 1012.4L1705.3 1012.4L1705.4 1012.4L1705.6 1012.4L1705.8 1012.4L1706.0 1012.4L1706.1 1012.4L1706.3 1012.4L1706.5 1012.4L1706.6 1012.4L1706.8 1012.4" fill="none" stroke="#6a00dc" stroke-width="6.0" stroke-linejoin="round" stroke-linecap="round"/>
<path d="M1726.5 1196.0L1726.6 1196.0L1726.8 1196.0L1727.0 1196.0L1727.1 1196.0L1727.3 1196.0L1727.5 1196.0L1727.7 1196.0L1727.8 1196.0L1728.0 1196.0L1728.2 1196.0L1728.3 1196.0L1728.5 1196.0L1728.7 1196.0L1728.9 1196.0L1729.0 1196.0L1729.2 1196.0L1729.4 1196.0L1729.5 1196.0L1729.7 1196.0L1729.9 1196.0L1730.1 1196.0L1730.2 1196.0L1730.4 1196.0L1730.6 1196.0L1730.7 1196.0L1730.9 1196.0L1731.1 1196.0L1731.3 1196.0L1731.4 1196.0L1731.6 1196.0L1731.8 847.1L1731.9 799.6L1732.1 793.4L1732.3 792.8L1732.5 793.0L1732.6 793.3L1732.8 793.6L1733.0 793.8L1733.1 794.0L1733.3 794.2L1733.5 794.3L1733.7 794.5L1733.8 794.6L1734.0 794.7L1734.2 794.7L1734.3 794.8L1734.5 794.9L1734.7 794.9L1734.9 795.0L1735.0 795.0L1735.2 795.0L1735.4 795.1L1735.5 795.1L1735.7 795.1L1735.9 795.1L1736.1 795.1L1736.2 795.1L1736.4 795.1L1736.6 795.2L1736.7 795.2L1736.9 795.2L1737.1 795.2L1737.3 795.2L1737.4 795.2L1737.6 795.2L1737.8 795.2L1737.9 795.2L1738.1 795.2L1738.3 795.2L1738.5 795.2L1738.6 795.2L1738.8 795.2L1739.0 795.2L1739.1 795.2L1739.3 795.2L1739.5 795.2L1739.7 795.2L1739.8 795.2L1740.0 795.2L1740.2 795.2L1740.3 795.2L1740.5 795.2L1740.7 795.2L1740.9 795.2L1741.0 795.2L1741.2 795.2L1741.4 795.2L1741.5 960.2L1741.7 1090.6L1741.9 1127.5L1742.1 1139.6L1742.2 1145.1L1742.4 1148.6L1742.6 1151.6L1742.7 1154.3L1742.9 1156.8L1743.1 1159.1L1743.3 1161.3L1743.4 1163.4L1743.6 1165.4L1743.8 1167.3L1743.9 1169.0L1744.1 1170.7L1744.3 1172.3L1744.5 1173.7L1744.6 1175.1L1744.8 1176.5L1745.0 1177.7L1745.1 1178.9L1745.3 1180.0L1745.5 1181.1L1745.7 1182.1L1745.8 1183.0L1746.0 1183.9L1746.2 1184.7L1746.3 1185.5L1746.5 1186.3L1746.7 1187.0L1746.9 1187.7L1747.0 1188.3L1747.2 1188.9L1747.4 1189.4L1747.5 1190.0L1747.7 1190.5L1747.9 1190.9L1748.1 1191.4L1748.2 1191.8L1748.4 1192.2L1748.6 1192.6L1748.7 1192.9L1748.9 1193.3L1749.1 1193.6L1749.3 1193.9L1749.4 1194.2L1749.6 1194.5L1749.8 1194.7L1749.9 1194.9L1750.1 1195.2L1750.3 1195.4L1750.5 1195.6L1750.6 1195.8L1750.8 1196.0L1751.0 1196.1L1751.2 1196.3L1751.3 1196.4L1751.5 1196.6L1751.7 1196.7L1751.8 1196.8L1752.0 1197.0L1752.2 1197.1L1752.4 1197.2L1752.5 1197.3L1752.7 1197.4L1752.9 1197.5L1753.0 883.0L1753.2 804.5L1753.4 794.0L1753.6 792.8L1753.7 792.9L1753.9 793.2L1754.1 793.5L1754.2 793.8L1754.4 794.0L1754.6 794.1L1754.8 794.3L1754.9 794.4L1755.1 794.5L1755.3 794.6L1755.4 794.7L1755.6 794.8L1755.8 794.9L1756.0 794.9L1756.1 795.0L1756.3 795.0L1756.5 795.0L1756.6 795.0L1756.8 795.1L1757.0 795.1L1757.2 795.1L1757.3 795.1L1757.5 795.1L1757.7 795.1L1757.8 795.1L1758.0 795.2L1758.2 795.2L1758.4 795.2L1758.5 795.2L1758.7 795.2L1758.9 795.2L1759.0 795.2L1759.2 795.2L1759.4 795.2L1759.6 795.2L1759.7 795.2L1759.9 795.2L1760.1 795.2L1760.2 795.2L1760.4 795.2L1760.6 795.2L1760.8 795.2L1760.9 795.2L1761.1 795.2L1761.3 795.2L1761.4 795.2L1761.6 795.2L1761.8 795.2L1762.0 795.2L1762.1 795.2L1762.3 795.2L1762.5 795.2L1762.6 795.2L1762.8 891.2L1763.0 1071.8L1763.2 1121.9L1763.3 1137.6L1763.5 1144.0L1763.7 1147.8L1763.8 1150.9L1764.0 1153.6L1764.2 1156.2L1764.4 1158.5L1764.5 1160.8L1764.7 1162.9L1764.9 1164.9L1765.0 1166.8L1765.2 1168.6L1765.4 1170.3L1765.6 1171.9L1765.7 1173.4L1765.9 1174.8L1766.1 1176.1L1766.2 1177.4L1766.4 1178.6L1766.6 1179.7L1766.8 1180.8L1766.9 1181.8L1767.1 1182.8L1767.3 1183.7L1767.4 1184.5L1767.6 1185.3L1767.8 1186.1L1768.0 1186.8L1768.1 1187.5L1768.3 1188.1L1768.5 1188.7L1768.6 1189.3L1768.8 1189.8L1769.0 1190.4L1769.2 1190.8L1769.3 1191.3L1769.5 1191.7L1769.7 1192.1L1769.8 1192.5L1770.0 1192.9L1770.2 1193.2L1770.4 1193.5L1770.5 1193.8L1770.7 1194.1L1770.9 1194.4L1771.0 1194.6L1771.2 1194.9L1771.4 1195.1L1771.6 1195.3L1771.7 1195.5L1771.9 1195.7L1772.1 1195.9L1772.2 1196.1L1772.4 1196.2L1772.6 1196.4L1772.8 1196.5L1772.9 1196.7L1773.1 1196.8L1773.3 1196.9L1773.4 1197.0L1773.6 1197.2L1773.8 1197.3L1774.0 1197.4L1774.1 1197.4L1774.3 941.7L1774.5 812.5L1774.6 795.0L1774.8 792.9L1775.0 792.9L1775.2 793.2L1775.3 793.4L1775.5 793.7L1775.7 793.9L1775.8 794.1L1776.0 794.3L1776.2 794.4L1776.4 794.5L1776.5 794.6L1776.7 794.7L1776.9 794.8L1777.0 794.8L1777.2 794.9L1777.4 794.9L1777.6 795.0L1777.7 795.0L1777.9 795.0L1778.1 795.1L1778.3 795.1L1778.4 795.1L1778.6 795.1L1778.8 795.1L1778.9 795.1L1779.1 795.1L1779.3 795.2L1779.5 795.2L1779.6 795.2L1779.8 795.2L1780.0 795.2L1780.1 795.2L1780.3 795.2L1780.5 795.2L1780.7 795.2L1780.8 795.2L1781.0 795.2L1781.2 795.2L1781.3 795.2L1781.5 795.2L1781.7 795.2L1781.9 795.2L1782.0 795.2L1782.2 795.2L1782.4 795.2L1782.5 795.2L1782.7 795.2L1782.9 795.2L1783.1 795.2L1783.2 795.2L1783.4 795.2L1783.6 795.2L1783.7 795.2L1783.9 795.2L1784.1 795.2L1784.3 1045.8L1784.4 1114.5L1784.6 1135.0L1784.8 1142.8L1784.9 1147.0L1785.1 1150.2L1785.3 1153.0L1785.5 1155.5L1785.6 1158.0L1785.8 1160.2L1786.0 1162.4L1786.1 1164.4L1786.3 1166.3L1786.5 1168.2L1786.7 1169.9L1786.8 1171.5L1787.0 1173.0L1787.2 1174.5L1787.3 1175.8L1787.5 1177.1L1787.7 1178.3L1787.9 1179.5L1788.0 1180.6L1788.2 1181.6L1788.4 1182.5L1788.5 1183.5L1788.7 1184.3L1788.9 1185.1L1789.1 1185.9L1789.2 1186.6L1789.4 1187.3L1789.6 1188.0L1789.7 1188.6L1789.9 1189.2L1790.1 1189.7L1790.3 1190.2L1790.4 1190.7L1790.6 1191.2L1790.8 1191.6L1790.9 1192.0L1791.1 1192.4L1791.3 1192.8L1791.5 1193.1L1791.6 1193.4L1791.8 1193.8L1792.0 1194.0L1792.1 1194.3L1792.3 1194.6L1792.5 1194.8L1792.7 1195.1L1792.8 1195.3L1793.0 1195.5L1793.2 1195.7L1793.3 1195.9L1793.5 1196.0L1793.7 1196.2L1793.9 1196.4L1794.0 1196.5L1794.2 1196.6L1794.4 1196.8L1794.5 1196.9L1794.7 1197.0L1794.9 1197.1L1795.1 1197.2L1795.2 1197.3L1795.4 1197.4L1795.6 1038.3L1795.7 825.6L1795.9 796.8L1796.1 793.1L1796.3 792.8L1796.4 793.1L1796.6 793.4L1796.8 793.6L1796.9 793.9L1797.1 794.1L1797.3 794.2L1797.5 794.4L1797.6 794.5L1797.8 794.6L1798.0 794.7L1798.1 794.8L1798.3 794.8L1798.5 794.9L1798.7 794.9L1798.8 795.0L1799.0 795.0L1799.2 795.0L1799.3 795.1L1799.5 795.1L1799.7 795.1L1799.9 795.1L1800.0 795.1L1800.2 795.1L1800.4 795.1L1800.5 795.2L1800.7 795.2L1800.9 795.2L1801.1 795.2L1801.2 795.2L1801.4 795.2L1801.6 795.2L1801.7 795.2L1801.9 795.2L1802.1 795.2L1802.3 795.2L1802.4 795.2L1802.6 795.2L1802.8 795.2L1802.9 795.2L1803.1 795.2L1803.3 795.2L1803.5 795.2L1803.6 795.2L1803.8 795.2L1804.0 795.2L1804.1 795.2L1804.3 795.2L1804.5 795.2L1804.7 795.2L1804.8 795.2L1805.0 795.2L1805.2 795.2L1805.4 795.2L1805.5 1009.9L1805.7 1104.4L1805.9 1131.8L1806.0 1141.3L1806.2 1146.1L1806.4 1149.4L1806.6 1152.3L1806.7 1154.9L1806.9 1157.4L1807.1 1159.7L1807.2 1161.9L1807.4 1163.9L1807.6 1165.9L1807.8 1167.7L1807.9 1169.4L1808.1 1171.1L1808.3 1172.6L1808.4 1174.1L1808.6 1175.5L1808.8 1176.8L1809.0 1178.0L1809.1 1179.2L1809.3 1180.3L1809.5 1181.3L1809.6 1182.3L1809.8 1183.2L1810.0 1184.1L1810.2 1184.9L1810.3 1185.7L1810.5 1186.5L1810.7 1187.2L1810.8 1187.8L1811.0 1188.4L1811.2 1189.0L1811.4 1189.6L1811.5 1190.1L1811.7 1190.6L1811.9 1191.1L1812.0 1191.5L1812.2 1191.9L1812.4 1192.3L1812.6 1192.7L1812.7 1193.0L1812.9 1193.4L1813.1 1193.7L1813.2 1194.0L1813.4 1194.3L1813.6 1194.5L1813.8 1194.8L1813.9 1195.0L1814.1 1195.2L1814.3 1195.4L1814.4 1195.6L1814.6 1195.8L1814.8 1196.0L1815.0 1196.2L1815.1 1196.3L1815.3 1196.5L1815.5 1196.6L1815.6 1196.7L1815.8 1196.9L1816.0 1197.0L1816.2 1197.1L1816.3 1197.2L1816.5 1197.3L1816.7 1197.4L1816.8 1197.4L1817.0 847.3L1817.2 799.7L1817.4 793.4L1817.5 792.8L1817.7 793.0L1817.9 793.3L1818.0 793.6L1818.2 793.8L1818.4 794.0L1818.6 794.2L1818.7 794.3L1818.9 794.5L1819.1 794.6L1819.2 794.7L1819.4 794.7L1819.6 794.8L1819.8 794.9L1819.9 794.9L1820.1 795.0L1820.3 795.0L1820.4 795.0L1820.6 795.1L1820.8 795.1L1821.0 795.1L1821.1 795.1L1821.3 795.1L1821.5 795.1L1821.6 795.1L1821.8 795.2L1822.0 795.2L1822.2 795.2L1822.3 795.2L1822.5 795.2L1822.7 795.2L1822.8 795.2L1823.0 795.2L1823.2 795.2L1823.4 795.2L1823.5 795.2L1823.7 795.2L1823.9 795.2L1824.0 795.2L1824.2 795.2L1824.4 795.2L1824.6 795.2L1824.7 795.2L1824.9 795.2L1825.1 795.2L1825.2 795.2L1825.4 795.2L1825.6 795.2L1825.8 795.2L1825.9 795.2L1826.1 795.2L1826.3 795.2L1826.4 795.2L1826.6 795.2L1826.8 960.2L1827.0 1090.6L1827.1 1127.5L1827.3 1139.6L1827.5 1145.1L1827.6 1148.6L1827.8 1151.6L1828.0 1154.3L1828.2 1156.8L1828.3 1159.1L1828.5 1161.3L1828.7 1163.4L1828.8 1165.4L1829.0 1167.3L1829.2 1169.0L1829.4 1170.7L1829.5 1172.3L1829.7 1173.7L1829.9 1175.1L1830.0 1176.5L1830.2 1177.7L1830.4 1178.9L1830.6 1180.0L1830.7 1181.1L1830.9 1182.1L1831.1 1183.0L1831.2 1183.9L1831.4 1184.7L1831.6 1185.5L1831.8 1186.3L1831.9 1187.0L1832.1 1187.7L1832.3 1188.3L1832.5 1188.9L1832.6 1189.4L1832.8 1190.0L1833.0 1190.5L1833.1 1190.9L1833.3 1191.4L1833.5 1191.8L1833.7 1192.2L1833.8 1192.6L1834.0 1192.9L1834.2 1193.3L1834.3 1193.6L1834.5 1193.9L1834.7 1194.2L1834.9 1194.5L1835.0 1194.7L1835.2 1194.9L1835.4 1195.2L1835.5 1195.4L1835.7 1195.6L1835.9 1195.8L1836.1 1196.0L1836.2 1196.1L1836.4 1196.3L1836.6 1196.4L1836.7 1196.6L1836.9 1196.7L1837.1 1196.8L1837.3 1197.0L1837.4 1197.1L1837.6 1197.2L1837.8 1197.3L1837.9 1197.4L1838.1 1197.5L1838.3 883.0L1838.5 804.5L1838.6 794.0L1838.8 792.8L1839.0 792.9L1839.1 793.2L1839.3 793.5L1839.5 793.8L1839.7 794.0L1839.8 794.1L1840.0 794.3L1840.2 794.4L1840.3 794.5L1840.5 794.6L1840.7 794.7L1840.9 794.8L1841.0 794.9L1841.2 794.9L1841.4 795.0L1841.5 795.0L1841.7 795.0L1841.9 795.0L1842.1 795.1L1842.2 795.1L1842.4 795.1L1842.6 795.1L1842.7 795.1L1842.9 795.1L1843.1 795.1L1843.3 795.2L1843.4 795.2L1843.6 795.2L1843.8 795.2L1843.9 795.2L1844.1 795.2L1844.3 795.2L1844.5 795.2L1844.6 795.2L1844.8 795.2L1845.0 795.2L1845.1 795.2L1845.3 795.2L1845.5 795.2L1845.7 795.2L1845.8 795.2L1846.0 795.2L1846.2 795.2L1846.3 795.2L1846.5 795.2L1846.7 795.2L1846.9 795.2L1847.0 795.2L1847.2 795.2L1847.4 795.2L1847.5 795.2L1847.7 795.2L1847.9 795.2L1848.1 891.2L1848.2 1071.8L1848.4 1121.9L1848.6 1137.6L1848.7 1144.0L1848.9 1147.8L1849.1 1150.9L1849.3 1153.6L1849.4 1156.2L1849.6 1158.5L1849.8 1160.8L1849.9 1162.9L1850.1 1164.9L1850.3 1166.8L1850.5 1168.6L1850.6 1170.3L1850.8 1171.9L1851.0 1173.4L1851.1 1174.8L1851.3 1176.1L1851.5 1177.4L1851.7 1178.6L1851.8 1179.7L1852.0 1180.8L1852.2 1181.8L1852.3 1182.8L1852.5 1183.7L1852.7 1184.5L1852.9 1185.3L1853.0 1186.1L1853.2 1186.8L1853.4 1187.5L1853.5 1188.1L1853.7 1188.7L1853.9 1189.3L1854.1 1189.8L1854.2 1190.4L1854.4 1190.8L1854.6 1191.3L1854.7 1191.7L1854.9 1192.1L1855.1 1192.5L1855.3 1192.9L1855.4 1193.2L1855.6 1193.5L1855.8 1193.8L1855.9 1194.1L1856.1 1194.4L1856.3 1194.6L1856.5 1194.9L1856.6 1195.1L1856.8 1195.3" fill="none" stroke="#007f00" stroke-width="6.0" stroke-linejoin="round" stroke-linecap="round"/>
<path d="M1877.0 775.5L1877.1 775.5L1877.3 775.5L1877.5 775.5L1877.6 775.5L1877.8 775.5L1878.0 775.5L1878.2 775.5L1878.3 775.5L1878.5 775.5L1878.7 775.5L1878.8 775.5L1879.0 775.5L1879.2 775.5L1879.4 775.5L1879.5 775.5L1879.7 775.5L1879.9 775.5L1880.0 775.5L1880.2 775.5L1880.4 775.5L1880.6 775.5L1880.7 775.5L1880.9 775.5L1881.1 775.5L1881.2 775.5L1881.4 775.5L1881.6 775.5L1881.8 775.5L1881.9 775.5L1882.1 775.5L1882.3 775.5L1882.4 775.5L1882.6 775.5L1882.8 775.5L1883.0 775.5L1883.1 775.5L1883.3 775.5L1883.5 775.5L1883.6 775.5L1883.8 775.5L1884.0 775.5L1884.2 775.5L1884.3 775.5L1884.5 775.5L1884.7 775.5L1884.8 775.5L1885.0 775.5L1885.2 952.5L1885.4 1091.9L1885.5 1130.8L1885.7 1143.0L1885.9 1148.1L1886.1 1151.2L1886.2 1153.6L1886.4 1155.8L1886.6 1157.9L1886.7 1159.8L1886.9 1161.6L1887.1 1163.3L1887.3 1164.8L1887.4 1166.3L1887.6 1167.7L1887.8 1169.1L1887.9 1170.3L1888.1 1171.5L1888.3 1172.5L1888.5 1173.6L1888.6 1174.5L1888.8 1175.5L1889.0 1176.3L1889.1 1177.1L1889.3 1177.9L1889.5 1178.6L1889.7 1179.3L1889.8 1179.9L1890.0 1180.5L1890.2 1181.0L1890.3 1181.6L1890.5 1182.0L1890.7 1182.5L1890.9 1182.9L1891.0 1183.4L1891.2 1183.7L1891.4 1184.1L1891.5 1184.4L1891.7 1184.8L1891.9 1185.1L1892.1 1185.3L1892.2 1185.6L1892.4 1185.9L1892.6 1186.1L1892.7 1186.3L1892.9 1186.5L1893.1 1186.7L1893.3 1186.9L1893.4 1187.1L1893.6 1187.2L1893.8 1187.4L1893.9 1187.5L1894.1 1187.7L1894.3 1187.8L1894.5 1187.9L1894.6 1188.0L1894.8 1188.1L1895.0 1188.2L1895.1 1188.3L1895.3 867.6L1895.5 788.0L1895.7 777.2L1895.8 775.7L1896.0 775.5L1896.2 775.5L1896.3 775.5L1896.5 775.5L1896.7 775.5L1896.9 775.5L1897.0 775.5L1897.2 775.5L1897.4 775.5L1897.5 775.5L1897.7 775.5L1897.9 775.5L1898.1 775.5L1898.2 775.5L1898.4 775.5L1898.6 775.5L1898.7 775.5L1898.9 775.5L1899.1 775.5L1899.3 775.5L1899.4 775.5L1899.6 775.5L1899.8 775.5L1899.9 775.5L1900.1 775.5L1900.3 775.5L1900.5 775.5L1900.6 775.5L1900.8 775.5L1901.0 775.5L1901.1 775.5L1901.3 775.5L1901.5 775.5L1901.7 775.5L1901.8 775.5L1902.0 775.5L1902.2 775.5L1902.3 775.5L1902.5 775.5L1902.7 775.5L1902.9 775.5L1903.0 775.5L1903.2 775.5L1903.4 775.5L1903.5 775.5L1903.7 775.5L1903.9 775.5L1904.1 775.5L1904.2 775.5L1904.4 775.5L1904.6 775.5L1904.7 775.5L1904.9 775.5L1905.1 775.5L1905.3 775.5L1905.4 775.5L1905.6 775.5L1905.8 775.5L1905.9 775.5L1906.1 775.5L1906.3 1044.1L1906.5 1117.1L1906.6 1138.4L1906.8 1146.0L1907.0 1149.7L1907.1 1152.4L1907.3 1154.8L1907.5 1156.9L1907.7 1158.8L1907.8 1160.7L1908.0 1162.4L1908.2 1164.1L1908.3 1165.6L1908.5 1167.0L1908.7 1168.4L1908.9 1169.7L1909.0 1170.9L1909.2 1172.0L1909.4 1173.1L1909.5 1174.1L1909.7 1175.0L1909.9 1175.9L1910.1 1176.7L1910.2 1177.5L1910.4 1178.2L1910.6 1178.9L1910.7 1179.6L1910.9 1180.2L1911.1 1180.8L1911.3 1181.3L1911.4 1181.8L1911.6 1182.3L1911.8 1182.7L1912.0 1183.2L1912.1 1183.6L1912.3 1183.9L1912.5 1184.3L1912.6 1184.6L1912.8 1184.9L1913.0 1185.2L1913.2 1185.5L1913.3 1185.7L1913.5 1186.0L1913.7 1186.2L1913.8 1186.4L1914.0 1186.6L1914.2 1186.8L1914.4 1187.0L1914.5 1187.2L1914.7 1187.3L1914.9 1187.5L1915.0 1187.6L1915.2 1187.7L1915.4 1187.9L1915.6 1188.0L1915.7 1188.1L1915.9 1188.2L1916.1 1188.3L1916.2 1188.4L1916.4 1188.5L1916.6 1188.5L1916.8 1026.0L1916.9 809.4L1917.1 780.1L1917.3 776.1L1917.4 775.6L1917.6 775.5L1917.8 775.5L1918.0 775.5L1918.1 775.5L1918.3 775.5L1918.5 775.5L1918.6 775.5L1918.8 775.5L1919.0 775.5L1919.2 775.5L1919.3 775.5L1919.5 775.5L1919.7 775.5L1919.8 775.5L1920.0 775.5L1920.2 775.5L1920.4 775.5L1920.5 775.5L1920.7 775.5L1920.9 775.5L1921.0 775.5L1921.2 775.5L1921.4 775.5L1921.6 775.5L1921.7 775.5L1921.9 775.5L1922.1 775.5L1922.2 775.5L1922.4 775.5L1922.6 775.5L1922.8 775.5L1922.9 775.5L1923.1 775.5L1923.3 775.5L1923.4 775.5L1923.6 775.5L1923.8 775.5L1924.0 775.5L1924.1 775.5L1924.3 775.5L1924.5 775.5L1924.6 775.5L1924.8 775.5L1925.0 775.5L1925.2 775.5L1925.3 775.5L1925.5 775.5L1925.7 775.5L1925.8 775.5L1926.0 775.5L1926.2 775.5L1926.4 775.5L1926.5 775.5L1926.7 775.5L1926.9 775.5L1927.0 775.5L1927.2 775.5L1927.4 775.5L1927.6 775.5L1927.7 952.5L1927.9 1091.9L1928.1 1130.8L1928.2 1143.0L1928.4 1148.1L1928.6 1151.2L1928.8 1153.6L1928.9 1155.8L1929.1 1157.9L1929.3 1159.8L1929.4 1161.6L1929.6 1163.3L1929.8 1164.8L1930.0 1166.3L1930.1 1167.7L1930.3 1169.1L1930.5 1170.3L1930.6 1171.5L1930.8 1172.5L1931.0 1173.6L1931.2 1174.5L1931.3 1175.5L1931.5 1176.3L1931.7 1177.1L1931.8 1177.9L1932.0 1178.6L1932.2 1179.3L1932.4 1179.9L1932.5 1180.5L1932.7 1181.0L1932.9 1181.6L1933.0 1182.0L1933.2 1182.5L1933.4 1182.9L1933.6 1183.4L1933.7 1183.7L1933.9 1184.1L1934.1 1184.4L1934.2 1184.8L1934.4 1185.1L1934.6 1185.3L1934.8 1185.6L1934.9 1185.9L1935.1 1186.1L1935.3 1186.3L1935.4 1186.5L1935.6 1186.7L1935.8 1186.9L1936.0 1187.1L1936.1 1187.2L1936.3 1187.4L1936.5 1187.5L1936.6 1187.7L1936.8 1187.8L1937.0 1187.9L1937.2 1188.0L1937.3 1188.1L1937.5 1188.2L1937.7 1188.3L1937.8 1188.4L1938.0 1188.5L1938.2 1188.6L1938.4 867.7L1938.5 788.0L1938.7 777.2L1938.9 775.7L1939.1 775.5L1939.2 775.5L1939.4 775.5L1939.6 775.5L1939.7 775.5L1939.9 775.5L1940.1 775.5L1940.3 775.5L1940.4 775.5L1940.6 775.5L1940.8 775.5L1940.9 775.5L1941.1 775.5L1941.3 775.5L1941.5 775.5L1941.6 775.5L1941.8 775.5L1942.0 775.5L1942.1 775.5L1942.3 775.5L1942.5 775.5L1942.7 775.5L1942.8 775.5L1943.0 775.5L1943.2 775.5L1943.3 775.5L1943.5 775.5L1943.7 775.5L1943.9 775.5L1944.0 775.5L1944.2 775.5L1944.4 775.5L1944.5 775.5L1944.7 775.5L1944.9 775.5L1945.1 775.5L1945.2 775.5L1945.4 775.5L1945.6 775.5L1945.7 775.5L1945.9 775.5L1946.1 775.5L1946.3 775.5L1946.4 775.5L1946.6 775.5L1946.8 775.5L1946.9 775.5L1947.1 775.5L1947.3 775.5L1947.5 775.5L1947.6 775.5L1947.8 775.5L1948.0 775.5L1948.1 775.5L1948.3 775.5L1948.5 775.5L1948.7 775.5L1948.8 775.5L1949.0 775.5L1949.2 775.5L1949.3 1044.1L1949.5 1117.1L1949.7 1138.4L1949.9 1146.0L1950.0 1149.7L1950.2 1152.4L1950.4 1154.8L1950.5 1156.9L1950.7 1158.8L1950.9 1160.7L1951.1 1162.4L1951.2 1164.1L1951.4 1165.6L1951.6 1167.0L1951.7 1168.4L1951.9 1169.7L1952.1 1170.9L1952.3 1172.0L1952.4 1173.1L1952.6 1174.1L1952.8 1175.0L1952.9 1175.9L1953.1 1176.7L1953.3 1177.5L1953.5 1178.2L1953.6 1178.9L1953.8 1179.6L1954.0 1180.2L1954.1 1180.8L1954.3 1181.3L1954.5 1181.8L1954.7 1182.3L1954.8 1182.7L1955.0 1183.2L1955.2 1183.6L1955.3 1183.9L1955.5 1184.3L1955.7 1184.6L1955.9 1184.9L1956.0 1185.2L1956.2 1185.5L1956.4 1185.7L1956.5 1186.0L1956.7 1186.2L1956.9 1186.4L1957.1 1186.6L1957.2 1186.8L1957.4 1187.0L1957.6 1187.2L1957.7 1187.3L1957.9 1187.5L1958.1 1187.6L1958.3 1187.7L1958.4 1187.9L1958.6 1188.0L1958.8 1188.1L1958.9 1188.2L1959.1 1188.3L1959.3 1188.4L1959.5 1188.5L1959.6 1188.5L1959.8 1026.0L1960.0 809.4L1960.1 780.1L1960.3 776.1L1960.5 775.6L1960.7 775.5L1960.8 775.5L1961.0 775.5L1961.2 775.5L1961.3 775.5L1961.5 775.5L1961.7 775.5L1961.9 775.5L1962.0 775.5L1962.2 775.5L1962.4 775.5L1962.5 775.5L1962.7 775.5L1962.9 775.5L1963.1 775.5L1963.2 775.5L1963.4 775.5L1963.6 775.5L1963.7 775.5L1963.9 775.5L1964.1 775.5L1964.3 775.5L1964.4 775.5L1964.6 775.5L1964.8 775.5L1964.9 775.5L1965.1 775.5L1965.3 775.5L1965.5 775.5L1965.6 775.5L1965.8 775.5L1966.0 775.5L1966.2 775.5L1966.3 775.5L1966.5 775.5L1966.7 775.5L1966.8 775.5L1967.0 775.5L1967.2 775.5L1967.4 775.5L1967.5 775.5L1967.7 775.5L1967.9 775.5L1968.0 775.5L1968.2 775.5L1968.4 775.5L1968.6 775.5L1968.7 775.5L1968.9 775.5L1969.1 775.5L1969.2 775.5L1969.4 775.5L1969.6 775.5L1969.8 775.5L1969.9 775.5L1970.1 775.5L1970.3 775.5L1970.4 775.5L1970.6 775.5L1970.8 952.5L1971.0 1091.9L1971.1 1130.8L1971.3 1143.0L1971.5 1148.1L1971.6 1151.2L1971.8 1153.6L1972.0 1155.8L1972.2 1157.9L1972.3 1159.8L1972.5 1161.6L1972.7 1163.3L1972.8 1164.8L1973.0 1166.3L1973.2 1167.7L1973.4 1169.1L1973.5 1170.3L1973.7 1171.5L1973.9 1172.5L1974.0 1173.6L1974.2 1174.5L1974.4 1175.5L1974.6 1176.3L1974.7 1177.1L1974.9 1177.9L1975.1 1178.6L1975.2 1179.3L1975.4 1179.9L1975.6 1180.5L1975.8 1181.0L1975.9 1181.6L1976.1 1182.0L1976.3 1182.5L1976.4 1182.9L1976.6 1183.4L1976.8 1183.7L1977.0 1184.1L1977.1 1184.4L1977.3 1184.8L1977.5 1185.1L1977.6 1185.3L1977.8 1185.6L1978.0 1185.9L1978.2 1186.1L1978.3 1186.3L1978.5 1186.5L1978.7 1186.7L1978.8 1186.9L1979.0 1187.1L1979.2 1187.2L1979.4 1187.4L1979.5 1187.5L1979.7 1187.7L1979.9 1187.8L1980.0 1187.9L1980.2 1188.0L1980.4 1188.1L1980.6 1188.2L1980.7 1188.3L1980.9 1188.4L1981.1 1188.5L1981.2 1188.6L1981.4 867.7L1981.6 788.0L1981.8 777.2L1981.9 775.7L1982.1 775.5L1982.3 775.5L1982.4 775.5L1982.6 775.5L1982.8 775.5L1983.0 775.5L1983.1 775.5L1983.3 775.5L1983.5 775.5L1983.6 775.5L1983.8 775.5L1984.0 775.5L1984.2 775.5L1984.3 775.5L1984.5 775.5L1984.7 775.5L1984.8 775.5L1985.0 775.5L1985.2 775.5L1985.4 775.5L1985.5 775.5L1985.7 775.5L1985.9 775.5L1986.0 775.5L1986.2 775.5L1986.4 775.5L1986.6 775.5L1986.7 775.5L1986.9 775.5L1987.1 775.5L1987.2 775.5L1987.4 775.5L1987.6 775.5L1987.8 775.5L1987.9 775.5L1988.1 775.5L1988.3 775.5L1988.4 775.5L1988.6 775.5L1988.8 775.5L1989.0 775.5L1989.1 775.5L1989.3 775.5L1989.5 775.5L1989.6 775.5L1989.8 775.5L1990.0 775.5L1990.2 775.5L1990.3 775.5L1990.5 775.5L1990.7 775.5L1990.8 775.5L1991.0 775.5L1991.2 775.5L1991.4 775.5L1991.5 775.5L1991.7 775.5L1991.9 775.5L1992.0 775.5L1992.2 775.5L1992.4 1044.1L1992.6 1117.1L1992.7 1138.4L1992.9 1146.0L1993.1 1149.7L1993.3 1152.4L1993.4 1154.8L1993.6 1156.9L1993.8 1158.8L1993.9 1160.7L1994.1 1162.4L1994.3 1164.1L1994.5 1165.6L1994.6 1167.0L1994.8 1168.4L1995.0 1169.7L1995.1 1170.9L1995.3 1172.0L1995.5 1173.1L1995.7 1174.1L1995.8 1175.0L1996.0 1175.9L1996.2 1176.7L1996.3 1177.5L1996.5 1178.2L1996.7 1178.9L1996.9 1179.6L1997.0 1180.2L1997.2 1180.8L1997.4 1181.3L1997.5 1181.8L1997.7 1182.3L1997.9 1182.7L1998.1 1183.2L1998.2 1183.6L1998.4 1183.9L1998.6 1184.3L1998.7 1184.6L1998.9 1184.9L1999.1 1185.2L1999.3 1185.5L1999.4 1185.7L1999.6 1186.0L1999.8 1186.2L1999.9 1186.4L2000.1 1186.6L2000.3 1186.8L2000.5 1187.0L2000.6 1187.2L2000.8 1187.3L2001.0 1187.5L2001.1 1187.6L2001.3 1187.7L2001.5 1187.9L2001.7 1188.0L2001.8 1188.1L2002.0 1188.2L2002.2 1188.3L2002.3 1188.4L2002.5 1188.5L2002.7 1188.5L2002.9 1026.0L2003.0 809.4L2003.2 780.1L2003.4 776.1L2003.5 775.6L2003.7 775.5L2003.9 775.5L2004.1 775.5L2004.2 775.5L2004.4 775.5L2004.6 775.5L2004.7 775.5L2004.9 775.5L2005.1 775.5L2005.3 775.5L2005.4 775.5L2005.6 775.5L2005.8 775.5L2005.9 775.5" fill="none" stroke="#ff0000" stroke-width="6.0" stroke-linejoin="round" stroke-linecap="round"/>
<rect x="139.4" y="1368.3" width="514.6" height="512.3" fill="none" stroke="#000" stroke-width="2.2"/>
<path d="M182.2 1880.6v-9.5M225.2 1880.6v-5.5M268.2 1880.6v-9.5M311.2 1880.6v-5.5M354.2 1880.6v-9.5M397.2 1880.6v-5.5M440.2 1880.6v-9.5M483.2 1880.6v-5.5M526.2 1880.6v-9.5M569.2 1880.6v-5.5M612.2 1880.6v-9.5M139.4 1864.5h5.0M139.4 1852.6h5.0M139.4 1843.4h5.0M139.4 1835.9h5.0M139.4 1829.5h5.0M139.4 1824.0h5.0M139.4 1819.1h5.0M139.4 1814.8h9.5M139.4 1786.2h5.0M139.4 1769.4h5.0M139.4 1757.6h5.0M139.4 1748.4h5.0M139.4 1740.8h5.0M139.4 1734.5h5.0M139.4 1729.0h5.0M139.4 1724.1h5.0M139.4 1719.8h9.5M139.4 1691.1h5.0M139.4 1674.4h5.0M139.4 1662.5h5.0M139.4 1653.3h5.0M139.4 1645.8h5.0M139.4 1639.4h5.0M139.4 1633.9h5.0M139.4 1629.0h5.0M139.4 1624.7h9.5M139.4 1596.1h5.0M139.4 1579.3h5.0M139.4 1567.5h5.0M139.4 1558.3h5.0M139.4 1550.7h5.0M139.4 1544.4h5.0M139.4 1538.9h5.0M139.4 1534.0h5.0M139.4 1529.6h9.5M139.4 1501.0h5.0M139.4 1484.3h5.0M139.4 1472.4h5.0M139.4 1463.2h5.0M139.4 1455.7h5.0M139.4 1449.3h5.0M139.4 1443.8h5.0M139.4 1438.9h5.0M139.4 1434.6h9.5M139.4 1406.0h5.0M139.4 1389.2h5.0M139.4 1377.4h5.0" stroke="#000" stroke-width="2" fill="none"/>
<text x="182.2" y="1914.5" font-size="30" text-anchor="middle" fill="#000">0</text>
<text x="268.2" y="1914.5" font-size="30" text-anchor="middle" fill="#000">20</text>
<text x="354.2" y="1914.5" font-size="30" text-anchor="middle" fill="#000">40</text>
<text x="440.2" y="1914.5" font-size="30" text-anchor="middle" fill="#000">60</text>
<text x="526.2" y="1914.5" font-size="30" text-anchor="middle" fill="#000">80</text>
<text x="612.2" y="1914.5" font-size="30" text-anchor="middle" fill="#000">100</text>
<text x="129.4" y="1446.9" font-size="30" text-anchor="end">10<tspan font-size="20.5" dy="-13.8">-8</tspan></text>
<text x="129.4" y="1541.9" font-size="30" text-anchor="end">10<tspan font-size="20.5" dy="-13.8">-9</tspan></text>
<text x="129.4" y="1637.0" font-size="30" text-anchor="end">10<tspan font-size="20.5" dy="-13.8">-10</tspan></text>
<text x="129.4" y="1732.0" font-size="30" text-anchor="end">10<tspan font-size="20.5" dy="-13.8">-11</tspan></text>
<text x="129.4" y="1827.1" font-size="30" text-anchor="end">10<tspan font-size="20.5" dy="-13.8">-12</tspan></text>
<text x="34.5" y="1595.5" font-size="39" text-anchor="middle" fill="#000" transform="rotate(-90 34.5 1595.5)">Current (A)</text>
<text x="403.6" y="1958.4" font-size="39" text-anchor="middle" fill="#000">Time (s)</text>
<text x="23" y="1390.2" font-size="71" fill="#000">e</text>
<text x="157" y="1410.3" font-size="42.5" fill="#c00000"><tspan font-size="42.5">Te</tspan><tspan font-size="26.6" dy="9.8">0.3</tspan><tspan font-size="42.5" dy="-9.8">Se</tspan><tspan font-size="26.6" dy="9.8">0.7</tspan><tspan font-size="42.5" dy="-9.8">O</tspan><tspan font-size="26.6" dy="9.8">0.15</tspan></text>
<path d="M182.2 1807.0L182.4 1807.0L182.5 1833.0L182.7 1842.3L182.9 1844.5L183.1 1844.8L183.2 1844.5L183.4 1844.0L183.6 1843.4L183.7 1842.7L183.9 1842.1L184.1 1841.5L184.3 1840.9L184.4 1840.3L184.6 1839.8L184.8 1839.3L185.0 1838.8L185.1 1838.4L185.3 1837.9L185.5 1837.5L185.6 1837.1L185.8 1836.8L186.0 1836.4L186.2 1836.1L186.3 1835.8L186.5 1829.5L186.7 1548.3L186.8 1510.3L187.0 1505.1L187.2 1504.4L187.4 1504.3L187.5 1504.3L187.7 1504.3L187.9 1504.3L188.0 1504.3L188.2 1504.3L188.4 1504.3L188.6 1504.3L188.7 1504.3L188.9 1504.3L189.1 1504.3L189.3 1504.3L189.4 1504.3L189.6 1504.3L189.8 1504.3L189.9 1504.3L190.1 1504.3L190.3 1504.3L190.5 1504.3L190.6 1504.3L190.8 1504.3L191.0 1504.3L191.1 1504.3L191.3 1504.3L191.5 1504.3L191.7 1504.3L191.8 1504.3L192.0 1504.3L192.2 1504.3L192.3 1504.3L192.5 1504.3L192.7 1504.3L192.9 1504.3L193.0 1504.3L193.2 1504.3L193.4 1504.3L193.6 1504.3L193.7 1504.3L193.9 1504.3L194.1 1504.3L194.2 1504.3L194.4 1504.3L194.6 1504.3L194.8 1504.3L194.9 1504.3L195.1 1504.3L195.3 1504.3L195.4 1504.3L195.6 1504.3L195.8 1504.3L196.0 1504.3L196.1 1504.3L196.3 1504.3L196.5 1504.3L196.6 1504.3L196.8 1504.3L197.0 1504.3L197.2 1504.3L197.3 1504.3L197.5 1635.7L197.7 1814.4L197.9 1840.4L198.0 1844.4L198.2 1844.7L198.4 1844.3L198.5 1843.7L198.7 1843.0L198.9 1842.4L199.1 1841.8L199.2 1841.2L199.4 1840.6L199.6 1840.1L199.7 1839.6L199.9 1839.1L200.1 1838.6L200.3 1838.2L200.4 1837.7L200.6 1837.3L200.8 1836.9L200.9 1836.6L201.1 1836.2L201.3 1835.9L201.5 1835.6L201.6 1835.3L201.8 1835.0L202.0 1834.7L202.2 1834.5L202.3 1834.2L202.5 1834.0L202.7 1833.8L202.8 1833.6L203.0 1833.4L203.2 1833.2L203.4 1833.0L203.5 1832.8L203.7 1832.7L203.9 1832.5L204.0 1832.4L204.2 1832.2L204.4 1832.1L204.6 1832.0L204.7 1831.9L204.9 1831.7L205.1 1831.6L205.2 1831.5L205.4 1831.4L205.6 1831.3L205.8 1831.2L205.9 1831.2L206.1 1831.1L206.3 1831.0L206.5 1830.9L206.6 1830.9L206.8 1830.8L207.0 1830.7L207.1 1830.7L207.3 1830.6L207.5 1830.6L207.7 1830.5L207.8 1830.5L208.0 1830.4L208.2 1623.9L208.3 1520.5L208.5 1506.5L208.7 1504.6L208.9 1504.3L209.0 1504.3L209.2 1504.3L209.4 1504.3L209.5 1504.3L209.7 1504.3L209.9 1504.3L210.1 1504.3L210.2 1504.3L210.4 1504.3L210.6 1504.3L210.8 1504.3L210.9 1504.3L211.1 1504.3L211.3 1504.3L211.4 1504.3L211.6 1504.3L211.8 1504.3L212.0 1504.3L212.1 1504.3L212.3 1504.3L212.5 1504.3L212.6 1504.3L212.8 1504.3L213.0 1504.3L213.2 1504.3L213.3 1504.3L213.5 1504.3L213.7 1504.3L213.8 1504.3L214.0 1504.3L214.2 1504.3L214.4 1504.3L214.5 1504.3L214.7 1504.3L214.9 1504.3L215.1 1504.3L215.2 1504.3L215.4 1504.3L215.6 1504.3L215.7 1504.3L215.9 1504.3L216.1 1504.3L216.3 1504.3L216.4 1504.3L216.6 1504.3L216.8 1504.3L216.9 1504.3L217.1 1504.3L217.3 1504.3L217.5 1504.3L217.6 1504.3L217.8 1504.3L218.0 1504.3L218.1 1504.3L218.3 1504.3L218.5 1504.3L218.7 1504.3L218.8 1504.3L219.0 1504.3L219.2 1765.4L219.4 1833.1L219.5 1843.3L219.7 1844.7L219.9 1844.5L220.0 1844.0L220.2 1843.4L220.4 1842.7L220.6 1842.1L220.7 1841.5L220.9 1840.9L221.1 1840.3L221.2 1839.8L221.4 1839.3L221.6 1838.8L221.8 1838.4L221.9 1837.9L222.1 1837.5L222.3 1837.1L222.4 1836.8L222.6 1836.4L222.8 1836.1L223.0 1835.8L223.1 1835.4L223.3 1835.2L223.5 1834.9L223.7 1834.6L223.8 1834.4L224.0 1834.1L224.2 1833.9L224.3 1833.7L224.5 1833.5L224.7 1833.3L224.9 1833.1L225.0 1832.9L225.2 1832.8L225.4 1832.6L225.5 1832.5L225.7 1832.3L225.9 1832.2L226.1 1832.0L226.2 1831.9L226.4 1831.8L226.6 1831.7L226.7 1831.6L226.9 1831.5L227.1 1831.4L227.3 1831.3L227.4 1831.2L227.6 1831.1L227.8 1831.0L228.0 1831.0L228.1 1830.9L228.3 1830.8L228.5 1830.8L228.6 1830.7L228.8 1830.6L229.0 1830.6L229.2 1830.5L229.3 1830.5L229.5 1830.4L229.7 1829.5L229.8 1548.3L230.0 1510.3L230.2 1505.1L230.4 1504.4L230.5 1504.3L230.7 1504.3L230.9 1504.3L231.0 1504.3L231.2 1504.3L231.4 1504.3L231.6 1504.3L231.7 1504.3L231.9 1504.3L232.1 1504.3L232.3 1504.3L232.4 1504.3L232.6 1504.3L232.8 1504.3L232.9 1504.3L233.1 1504.3L233.3 1504.3L233.5 1504.3L233.6 1504.3L233.8 1504.3L234.0 1504.3L234.1 1504.3L234.3 1504.3L234.5 1504.3L234.7 1504.3L234.8 1504.3L235.0 1504.3L235.2 1504.3L235.3 1504.3L235.5 1504.3L235.7 1504.3L235.9 1504.3L236.0 1504.3L236.2 1504.3L236.4 1504.3L236.6 1504.3L236.7 1504.3L236.9 1504.3L237.1 1504.3L237.2 1504.3L237.4 1504.3L237.6 1504.3L237.8 1504.3L237.9 1504.3L238.1 1504.3L238.3 1504.3L238.4 1504.3L238.6 1504.3L238.8 1504.3L239.0 1504.3L239.1 1504.3L239.3 1504.3L239.5 1504.3L239.6 1504.3L239.8 1504.3L240.0 1504.3L240.2 1504.3L240.3 1504.3L240.5 1504.3L240.7 1635.7L240.9 1814.4L241.0 1840.4L241.2 1844.4L241.4 1844.7L241.5 1844.3L241.7 1843.7L241.9 1843.0L242.1 1842.4L242.2 1841.8L242.4 1841.2L242.6 1840.6L242.7 1840.1L242.9 1839.6L243.1 1839.1L243.3 1838.6L243.4 1838.2L243.6 1837.7L243.8 1837.3L243.9 1836.9L244.1 1836.6L244.3 1836.2L244.5 1835.9L244.6 1835.6L244.8 1835.3L245.0 1835.0L245.2 1834.7L245.3 1834.5L245.5 1834.2L245.7 1834.0L245.8 1833.8L246.0 1833.6L246.2 1833.4L246.4 1833.2L246.5 1833.0L246.7 1832.8L246.9 1832.7L247.0 1832.5L247.2 1832.4L247.4 1832.2L247.6 1832.1L247.7 1832.0L247.9 1831.9L248.1 1831.7L248.2 1831.6L248.4 1831.5L248.6 1831.4L248.8 1831.3L248.9 1831.2L249.1 1831.2L249.3 1831.1L249.5 1831.0L249.6 1830.9L249.8 1830.9L250.0 1830.8L250.1 1830.7L250.3 1830.7L250.5 1830.6L250.7 1830.6L250.8 1830.5L251.0 1830.5L251.2 1830.4L251.3 1623.9L251.5 1520.5L251.7 1506.5L251.9 1504.6L252.0 1504.3L252.2 1504.3L252.4 1504.3L252.5 1504.3L252.7 1504.3L252.9 1504.3L253.1 1504.3L253.2 1504.3L253.4 1504.3L253.6 1504.3L253.8 1504.3L253.9 1504.3L254.1 1504.3L254.3 1504.3L254.4 1504.3L254.6 1504.3L254.8 1504.3L255.0 1504.3L255.1 1504.3L255.3 1504.3L255.5 1504.3L255.6 1504.3L255.8 1504.3L256.0 1504.3L256.2 1504.3L256.3 1504.3L256.5 1504.3L256.7 1504.3L256.8 1504.3L257.0 1504.3L257.2 1504.3L257.4 1504.3L257.5 1504.3L257.7 1504.3L257.9 1504.3L258.1 1504.3L258.2 1504.3L258.4 1504.3L258.6 1504.3L258.7 1504.3L258.9 1504.3L259.1 1504.3L259.3 1504.3L259.4 1504.3L259.6 1504.3L259.8 1504.3L259.9 1504.3L260.1 1504.3L260.3 1504.3L260.5 1504.3L260.6 1504.3L260.8 1504.3L261.0 1504.3L261.1 1504.3L261.3 1504.3L261.5 1504.3L261.7 1504.3L261.8 1504.3L262.0 1504.3L262.2 1504.3L262.4 1765.4L262.5 1833.1L262.7 1843.3L262.9 1844.7L263.0 1844.5L263.2 1844.0L263.4 1843.4L263.6 1842.7L263.7 1842.1L263.9 1841.5L264.1 1840.9L264.2 1840.3L264.4 1839.8L264.6 1839.3L264.8 1838.8L264.9 1838.4L265.1 1837.9L265.3 1837.5L265.4 1837.1L265.6 1836.8L265.8 1836.4L266.0 1836.1L266.1 1835.8L266.3 1835.4L266.5 1835.2L266.7 1834.9L266.8 1834.6L267.0 1834.4L267.2 1834.1L267.3 1833.9L267.5 1833.7L267.7 1833.5L267.9 1833.3L268.0 1833.1L268.2 1832.9L268.4 1832.8L268.5 1832.6L268.7 1832.5L268.9 1832.3L269.1 1832.2L269.2 1832.0L269.4 1831.9L269.6 1831.8L269.7 1831.7L269.9 1831.6L270.1 1831.5L270.3 1831.4L270.4 1831.3L270.6 1831.2L270.8 1831.1L271.0 1831.0L271.1 1831.0L271.3 1830.9L271.5 1830.8L271.6 1830.8L271.8 1830.7L272.0 1830.6L272.2 1830.6L272.3 1830.5L272.5 1830.5L272.7 1830.4L272.8 1829.5L273.0 1548.3L273.2 1510.3L273.4 1505.1L273.5 1504.4L273.7 1504.3L273.9 1504.3L274.0 1504.3L274.2 1504.3L274.4 1504.3L274.6 1504.3L274.7 1504.3L274.9 1504.3L275.1 1504.3L275.3 1504.3L275.4 1504.3L275.6 1504.3L275.8 1504.3L275.9 1504.3L276.1 1504.3L276.3 1504.3L276.5 1504.3L276.6 1504.3L276.8 1504.3L277.0 1504.3L277.1 1504.3L277.3 1504.3L277.5 1504.3L277.7 1504.3L277.8 1504.3L278.0 1504.3L278.2 1504.3L278.3 1504.3L278.5 1504.3L278.7 1504.3L278.9 1504.3L279.0 1504.3L279.2 1504.3L279.4 1504.3L279.6 1504.3L279.7 1504.3L279.9 1504.3L280.1 1504.3L280.2 1504.3L280.4 1504.3L280.6 1504.3L280.8 1504.3L280.9 1504.3L281.1 1504.3L281.3 1504.3L281.4 1504.3L281.6 1504.3L281.8 1504.3L282.0 1504.3L282.1 1504.3L282.3 1504.3L282.5 1504.3L282.6 1504.3L282.8 1504.3L283.0 1504.3L283.2 1504.3L283.3 1504.3L283.5 1504.3L283.7 1504.3L283.9 1635.7L284.0 1814.4L284.2 1840.4L284.4 1844.4L284.5 1844.7L284.7 1844.3L284.9 1843.7L285.1 1843.0L285.2 1842.4L285.4 1841.8L285.6 1841.2L285.7 1840.6L285.9 1840.1L286.1 1839.6L286.3 1839.1L286.4 1838.6L286.6 1838.2L286.8 1837.7L286.9 1837.3L287.1 1836.9L287.3 1836.6L287.5 1836.2L287.6 1835.9L287.8 1835.6L288.0 1835.3L288.2 1835.0L288.3 1834.7L288.5 1834.5L288.7 1834.2L288.8 1834.0L289.0 1833.8L289.2 1833.6L289.4 1833.4L289.5 1833.2L289.7 1833.0L289.9 1832.8L290.0 1832.7L290.2 1832.5L290.4 1832.4L290.6 1832.2L290.7 1832.1L290.9 1832.0L291.1 1831.9L291.2 1831.7L291.4 1831.6L291.6 1831.5L291.8 1831.4L291.9 1831.3L292.1 1831.2L292.3 1831.2L292.5 1831.1L292.6 1831.0L292.8 1830.9L293.0 1830.9L293.1 1830.8L293.3 1830.7L293.5 1830.7L293.7 1830.6L293.8 1830.6L294.0 1830.5L294.2 1830.5L294.3 1830.4L294.5 1623.9L294.7 1520.5L294.9 1506.5L295.0 1504.6L295.2 1504.3L295.4 1504.3L295.5 1504.3L295.7 1504.3L295.9 1504.3L296.1 1504.3L296.2 1504.3L296.4 1504.3L296.6 1504.3L296.8 1504.3L296.9 1504.3L297.1 1504.3L297.3 1504.3L297.4 1504.3L297.6 1504.3L297.8 1504.3L298.0 1504.3L298.1 1504.3L298.3 1504.3L298.5 1504.3L298.6 1504.3L298.8 1504.3L299.0 1504.3L299.2 1504.3L299.3 1504.3L299.5 1504.3L299.7 1504.3L299.8 1504.3L300.0 1504.3L300.2 1504.3L300.4 1504.3L300.5 1504.3L300.7 1504.3L300.9 1504.3L301.1 1504.3L301.2 1504.3L301.4 1504.3L301.6 1504.3L301.7 1504.3L301.9 1504.3L302.1 1504.3L302.3 1504.3L302.4 1504.3L302.6 1504.3L302.8 1504.3L302.9 1504.3L303.1 1504.3L303.3 1504.3L303.5 1504.3L303.6 1504.3L303.8 1504.3L304.0 1504.3L304.1 1504.3L304.3 1504.3L304.5 1504.3L304.7 1504.3L304.8 1504.3L305.0 1504.3L305.2 1504.3L305.4 1504.3L305.5 1765.4L305.7 1833.1L305.9 1843.3L306.0 1844.7L306.2 1844.5L306.4 1844.0L306.6 1843.4L306.7 1842.7L306.9 1842.1L307.1 1841.5L307.2 1840.9L307.4 1840.3L307.6 1839.8L307.8 1839.3L307.9 1838.8L308.1 1838.4L308.3 1837.9L308.4 1837.5L308.6 1837.1L308.8 1836.8L309.0 1836.4L309.1 1836.1L309.3 1835.8L309.5 1835.4L309.7 1835.2L309.8 1834.9L310.0 1834.6L310.2 1834.4L310.3 1834.1L310.5 1833.9L310.7 1833.7L310.9 1833.5L311.0 1833.3L311.2 1833.1L311.4 1832.9L311.5 1832.8L311.7 1832.6L311.9 1832.5L312.1 1832.3L312.2 1832.2L312.4 1832.0L312.6 1831.9L312.7 1831.8L312.9 1831.7L313.1 1831.6L313.3 1831.5" fill="none" stroke="#6a00dc" stroke-width="6.0" stroke-linejoin="round" stroke-linecap="round"/>
<path d="M331.4 1425.0L331.6 1425.0L331.8 1425.0L331.9 1425.0L332.1 1425.0L332.3 1425.0L332.4 1425.0L332.6 1425.0L332.8 1425.0L333.0 1425.0L333.1 1425.0L333.3 1425.0L333.5 1425.0L333.6 1425.0L333.8 1425.0L334.0 1425.0L334.2 1425.0L334.3 1425.0L334.5 1425.0L334.7 1425.0L334.9 1425.0L335.0 1425.0L335.2 1425.0L335.4 1425.0L335.5 1425.0L335.7 1425.0L335.9 1425.0L336.1 1425.0L336.2 1425.0L336.4 1425.0L336.6 1425.0L336.7 1425.0L336.9 1425.0L337.1 1425.0L337.3 1425.0L337.4 1425.0L337.6 1425.0L337.8 1425.0L337.9 1425.0L338.1 1425.0L338.3 1425.0L338.5 1425.0L338.6 1425.0L338.8 1425.0L339.0 1425.0L339.1 1425.0L339.3 1425.0L339.5 1425.0L339.7 1425.0L339.8 1425.0L340.0 1425.0L340.2 1425.0L340.4 1425.0L340.5 1675.0L340.7 1802.1L340.9 1819.8L341.0 1822.3L341.2 1822.5L341.4 1822.4L341.6 1822.2L341.7 1822.0L341.9 1821.8L342.1 1821.6L342.2 1821.4L342.4 1821.2L342.6 1821.0L342.8 1820.8L342.9 1820.7L343.1 1820.5L343.3 1820.4L343.4 1820.2L343.6 1820.1L343.8 1819.9L344.0 1819.8L344.1 1819.7L344.3 1819.6L344.5 1819.5L344.7 1819.4L344.8 1819.3L345.0 1819.2L345.2 1819.1L345.3 1819.0L345.5 1818.9L345.7 1818.8L345.9 1818.7L346.0 1818.7L346.2 1818.6L346.4 1818.5L346.5 1818.4L346.7 1818.4L346.9 1818.3L347.1 1818.3L347.2 1818.2L347.4 1818.2L347.6 1818.1L347.8 1818.1L347.9 1818.0L348.1 1818.0L348.3 1817.9L348.4 1817.9L348.6 1817.8L348.8 1817.8L349.0 1817.8L349.1 1817.7L349.3 1817.7L349.5 1817.7L349.6 1817.6L349.8 1817.6L350.0 1817.6L350.2 1817.6L350.3 1817.5L350.5 1817.5L350.7 1817.5L350.8 1817.5L351.0 1817.5L351.2 1817.4L351.4 1817.4L351.5 1817.4L351.7 1817.4L351.9 1817.4L352.0 1817.3L352.2 1817.3L352.4 1817.3L352.6 1569.2L352.7 1444.5L352.9 1427.6L353.1 1425.4L353.3 1425.0L353.4 1425.0L353.6 1425.0L353.8 1425.0L353.9 1425.0L354.1 1425.0L354.3 1425.0L354.5 1425.0L354.6 1425.0L354.8 1425.0L355.0 1425.0L355.1 1425.0L355.3 1425.0L355.5 1425.0L355.7 1425.0L355.8 1425.0L356.0 1425.0L356.2 1425.0L356.4 1425.0L356.5 1425.0L356.7 1425.0L356.9 1425.0L357.0 1425.0L357.2 1425.0L357.4 1425.0L357.6 1425.0L357.7 1425.0L357.9 1425.0L358.1 1425.0L358.2 1425.0L358.4 1425.0L358.6 1425.0L358.8 1425.0L358.9 1425.0L359.1 1425.0L359.3 1425.0L359.4 1425.0L359.6 1425.0L359.8 1425.0L360.0 1425.0L360.1 1425.0L360.3 1425.0L360.5 1425.0L360.6 1425.0L360.8 1425.0L361.0 1425.0L361.2 1425.0L361.3 1425.0L361.5 1425.0L361.7 1425.0L361.9 1425.0L362.0 1425.0L362.2 1425.0L362.4 1425.0L362.5 1425.0L362.7 1425.0L362.9 1675.0L363.1 1802.1L363.2 1819.8L363.4 1822.3L363.6 1822.5L363.7 1822.4L363.9 1822.2L364.1 1822.0L364.3 1821.8L364.4 1821.6L364.6 1821.4L364.8 1821.2L364.9 1821.0L365.1 1820.8L365.3 1820.7L365.5 1820.5L365.6 1820.4L365.8 1820.2L366.0 1820.1L366.2 1819.9L366.3 1819.8L366.5 1819.7L366.7 1819.6L366.8 1819.5L367.0 1819.4L367.2 1819.3L367.4 1819.2L367.5 1819.1L367.7 1819.0L367.9 1818.9L368.0 1818.8L368.2 1818.7L368.4 1818.7L368.6 1818.6L368.7 1818.5L368.9 1818.4L369.1 1818.4L369.2 1818.3L369.4 1818.3L369.6 1818.2L369.8 1818.2L369.9 1818.1L370.1 1818.1L370.3 1818.0L370.5 1818.0L370.6 1817.9L370.8 1817.9L371.0 1817.8L371.1 1817.8L371.3 1817.8L371.5 1817.7L371.7 1817.7L371.8 1817.7L372.0 1817.6L372.2 1817.6L372.3 1817.6L372.5 1817.6L372.7 1817.5L372.9 1817.5L373.0 1817.5L373.2 1817.5L373.4 1817.5L373.5 1817.4L373.7 1817.4L373.9 1817.4L374.1 1569.2L374.2 1444.5L374.4 1427.6L374.6 1425.4L374.8 1425.0L374.9 1425.0L375.1 1425.0L375.3 1425.0L375.4 1425.0L375.6 1425.0L375.8 1425.0L376.0 1425.0L376.1 1425.0L376.3 1425.0L376.5 1425.0L376.6 1425.0L376.8 1425.0L377.0 1425.0L377.2 1425.0L377.3 1425.0L377.5 1425.0L377.7 1425.0L377.9 1425.0L378.0 1425.0L378.2 1425.0L378.4 1425.0L378.5 1425.0L378.7 1425.0L378.9 1425.0L379.1 1425.0L379.2 1425.0L379.4 1425.0L379.6 1425.0L379.7 1425.0L379.9 1425.0L380.1 1425.0L380.3 1425.0L380.4 1425.0L380.6 1425.0L380.8 1425.0L380.9 1425.0L381.1 1425.0L381.3 1425.0L381.5 1425.0L381.6 1425.0L381.8 1425.0L382.0 1425.0L382.1 1425.0L382.3 1425.0L382.5 1425.0L382.7 1425.0L382.8 1425.0L383.0 1425.0L383.2 1425.0L383.4 1425.0L383.5 1425.0L383.7 1425.0L383.9 1425.0L384.0 1425.0L384.2 1425.0L384.4 1675.0L384.6 1802.1L384.7 1819.8L384.9 1822.3L385.1 1822.5L385.2 1822.4L385.4 1822.2L385.6 1822.0L385.8 1821.8L385.9 1821.6L386.1 1821.4L386.3 1821.2L386.4 1821.0L386.6 1820.8L386.8 1820.7L387.0 1820.5L387.1 1820.4L387.3 1820.2L387.5 1820.1L387.7 1819.9L387.8 1819.8L388.0 1819.7L388.2 1819.6L388.3 1819.5L388.5 1819.4L388.7 1819.3L388.9 1819.2L389.0 1819.1L389.2 1819.0L389.4 1818.9L389.5 1818.8L389.7 1818.7L389.9 1818.7L390.1 1818.6L390.2 1818.5L390.4 1818.4L390.6 1818.4L390.8 1818.3L390.9 1818.3L391.1 1818.2L391.3 1818.2L391.4 1818.1L391.6 1818.1L391.8 1818.0L392.0 1818.0L392.1 1817.9L392.3 1817.9L392.5 1817.8L392.6 1817.8L392.8 1817.8L393.0 1817.7L393.2 1817.7L393.3 1817.7L393.5 1817.6L393.7 1817.6L393.8 1817.6L394.0 1817.6L394.2 1817.5L394.4 1817.5L394.5 1817.5L394.7 1817.5L394.9 1817.5L395.0 1817.4L395.2 1817.4L395.4 1817.4L395.6 1569.2L395.7 1444.5L395.9 1427.6L396.1 1425.4L396.3 1425.0L396.4 1425.0L396.6 1425.0L396.8 1425.0L396.9 1425.0L397.1 1425.0L397.3 1425.0L397.5 1425.0L397.6 1425.0L397.8 1425.0L398.0 1425.0L398.1 1425.0L398.3 1425.0L398.5 1425.0L398.7 1425.0L398.8 1425.0L399.0 1425.0L399.2 1425.0L399.3 1425.0L399.5 1425.0L399.7 1425.0L399.9 1425.0L400.0 1425.0L400.2 1425.0L400.4 1425.0L400.6 1425.0L400.7 1425.0L400.9 1425.0L401.1 1425.0L401.2 1425.0L401.4 1425.0L401.6 1425.0L401.8 1425.0L401.9 1425.0L402.1 1425.0L402.3 1425.0L402.4 1425.0L402.6 1425.0L402.8 1425.0L403.0 1425.0L403.1 1425.0L403.3 1425.0L403.5 1425.0L403.6 1425.0L403.8 1425.0L404.0 1425.0L404.2 1425.0L404.3 1425.0L404.5 1425.0L404.7 1425.0L404.9 1425.0L405.0 1425.0L405.2 1425.0L405.4 1425.0L405.5 1425.0L405.7 1425.0L405.9 1675.0L406.1 1802.1L406.2 1819.8L406.4 1822.3L406.6 1822.5L406.7 1822.4L406.9 1822.2L407.1 1822.0L407.3 1821.8L407.4 1821.6L407.6 1821.4L407.8 1821.2L407.9 1821.0L408.1 1820.8L408.3 1820.7L408.5 1820.5L408.6 1820.4L408.8 1820.2L409.0 1820.1L409.2 1819.9L409.3 1819.8L409.5 1819.7L409.7 1819.6L409.8 1819.5L410.0 1819.4L410.2 1819.3L410.4 1819.2L410.5 1819.1L410.7 1819.0L410.9 1818.9L411.0 1818.8L411.2 1818.7L411.4 1818.7L411.6 1818.6L411.7 1818.5L411.9 1818.4L412.1 1818.4L412.2 1818.3L412.4 1818.3L412.6 1818.2L412.8 1818.2L412.9 1818.1L413.1 1818.1L413.3 1818.0L413.5 1818.0L413.6 1817.9L413.8 1817.9L414.0 1817.8L414.1 1817.8L414.3 1817.8L414.5 1817.7L414.7 1817.7L414.8 1817.7L415.0 1817.6L415.2 1817.6L415.3 1817.6L415.5 1817.6L415.7 1817.5L415.9 1817.5L416.0 1817.5L416.2 1817.5L416.4 1817.5L416.5 1817.4L416.7 1817.4L416.9 1817.4L417.1 1569.2L417.2 1444.5L417.4 1427.6L417.6 1425.4L417.8 1425.0L417.9 1425.0L418.1 1425.0L418.3 1425.0L418.4 1425.0L418.6 1425.0L418.8 1425.0L419.0 1425.0L419.1 1425.0L419.3 1425.0L419.5 1425.0L419.6 1425.0L419.8 1425.0L420.0 1425.0L420.2 1425.0L420.3 1425.0L420.5 1425.0L420.7 1425.0L420.8 1425.0L421.0 1425.0L421.2 1425.0L421.4 1425.0L421.5 1425.0L421.7 1425.0L421.9 1425.0L422.1 1425.0L422.2 1425.0L422.4 1425.0L422.6 1425.0L422.7 1425.0L422.9 1425.0L423.1 1425.0L423.3 1425.0L423.4 1425.0L423.6 1425.0L423.8 1425.0L423.9 1425.0L424.1 1425.0L424.3 1425.0L424.5 1425.0L424.6 1425.0L424.8 1425.0L425.0 1425.0L425.1 1425.0L425.3 1425.0L425.5 1425.0L425.7 1425.0L425.8 1425.0L426.0 1425.0L426.2 1425.0L426.4 1425.0L426.5 1425.0L426.7 1425.0L426.9 1425.0L427.0 1425.0L427.2 1425.0L427.4 1675.0L427.6 1802.1L427.7 1819.8L427.9 1822.3L428.1 1822.5L428.2 1822.4L428.4 1822.2L428.6 1822.0L428.8 1821.8L428.9 1821.6L429.1 1821.4L429.3 1821.2L429.4 1821.0L429.6 1820.8L429.8 1820.7L430.0 1820.5L430.1 1820.4L430.3 1820.2L430.5 1820.1L430.7 1819.9L430.8 1819.8L431.0 1819.7L431.2 1819.6L431.3 1819.5L431.5 1819.4L431.7 1819.3L431.9 1819.2L432.0 1819.1L432.2 1819.0L432.4 1818.9L432.5 1818.8L432.7 1818.7L432.9 1818.7L433.1 1818.6L433.2 1818.5L433.4 1818.4L433.6 1818.4L433.8 1818.3L433.9 1818.3L434.1 1818.2L434.3 1818.2L434.4 1818.1L434.6 1818.1L434.8 1818.0L435.0 1818.0L435.1 1817.9L435.3 1817.9L435.5 1817.8L435.6 1817.8L435.8 1817.8L436.0 1817.7L436.2 1817.7L436.3 1817.7L436.5 1817.6L436.7 1817.6L436.8 1817.6L437.0 1817.6L437.2 1817.5L437.4 1817.5L437.5 1817.5L437.7 1817.5L437.9 1817.5L438.0 1817.4L438.2 1817.4L438.4 1817.4L438.6 1569.2L438.7 1444.5L438.9 1427.6L439.1 1425.4L439.3 1425.0L439.4 1425.0L439.6 1425.0L439.8 1425.0L439.9 1425.0L440.1 1425.0L440.3 1425.0L440.5 1425.0L440.6 1425.0L440.8 1425.0L441.0 1425.0L441.1 1425.0L441.3 1425.0L441.5 1425.0L441.7 1425.0L441.8 1425.0L442.0 1425.0L442.2 1425.0L442.3 1425.0L442.5 1425.0L442.7 1425.0L442.9 1425.0L443.0 1425.0L443.2 1425.0L443.4 1425.0L443.6 1425.0L443.7 1425.0L443.9 1425.0L444.1 1425.0L444.2 1425.0L444.4 1425.0L444.6 1425.0L444.8 1425.0L444.9 1425.0L445.1 1425.0L445.3 1425.0L445.4 1425.0L445.6 1425.0L445.8 1425.0L446.0 1425.0L446.1 1425.0L446.3 1425.0L446.5 1425.0L446.6 1425.0L446.8 1425.0L447.0 1425.0L447.2 1425.0L447.3 1425.0L447.5 1425.0L447.7 1425.0L447.9 1425.0L448.0 1425.0L448.2 1425.0L448.4 1425.0L448.5 1425.0L448.7 1425.0L448.9 1675.0L449.1 1802.1L449.2 1819.8L449.4 1822.3L449.6 1822.5L449.7 1822.4L449.9 1822.2L450.1 1822.0L450.3 1821.8L450.4 1821.6L450.6 1821.4L450.8 1821.2L450.9 1821.0L451.1 1820.8L451.3 1820.7L451.5 1820.5L451.6 1820.4L451.8 1820.2L452.0 1820.1L452.2 1819.9L452.3 1819.8L452.5 1819.7L452.7 1819.6L452.8 1819.5L453.0 1819.4L453.2 1819.3L453.4 1819.2L453.5 1819.1L453.7 1819.0L453.9 1818.9L454.0 1818.8L454.2 1818.7L454.4 1818.7L454.6 1818.6L454.7 1818.5L454.9 1818.4L455.1 1818.4L455.2 1818.3L455.4 1818.3L455.6 1818.2L455.8 1818.2L455.9 1818.1L456.1 1818.1L456.3 1818.0L456.5 1818.0L456.6 1817.9L456.8 1817.9L457.0 1817.8L457.1 1817.8L457.3 1817.8L457.5 1817.7L457.7 1817.7L457.8 1817.7L458.0 1817.6L458.2 1817.6L458.3 1817.6L458.5 1817.6L458.7 1817.5L458.9 1817.5L459.0 1817.5L459.2 1817.5L459.4 1817.5L459.5 1817.4L459.7 1817.4L459.9 1817.4L460.1 1569.2L460.2 1444.5L460.4 1427.6L460.6 1425.4L460.8 1425.0L460.9 1425.0L461.1 1425.0L461.3 1425.0L461.4 1425.0L461.6 1425.0L461.8 1425.0L462.0 1425.0L462.1 1425.0L462.3 1425.0L462.5 1425.0" fill="none" stroke="#007f00" stroke-width="6.0" stroke-linejoin="round" stroke-linecap="round"/>
<rect x="836.9" y="1368.3" width="514.6" height="512.7" fill="none" stroke="#000" stroke-width="2.2"/>
<path d="M879.8 1881.0v-9.5M922.7 1881.0v-5.5M965.5 1881.0v-9.5M1008.4 1881.0v-5.5M1051.3 1881.0v-9.5M1094.1 1881.0v-5.5M1137.0 1881.0v-9.5M1179.9 1881.0v-5.5M1222.8 1881.0v-9.5M1265.6 1881.0v-5.5M1308.5 1881.0v-9.5M836.9 1859.0h5.0M836.9 1846.1h5.0M836.9 1836.9h5.0M836.9 1829.8h5.0M836.9 1824.0h5.0M836.9 1819.1h5.0M836.9 1814.9h5.0M836.9 1811.1h5.0M836.9 1807.8h9.5M836.9 1785.7h5.0M836.9 1772.8h5.0M836.9 1763.7h5.0M836.9 1756.6h5.0M836.9 1750.8h5.0M836.9 1745.9h5.0M836.9 1741.6h5.0M836.9 1737.9h5.0M836.9 1734.5h9.5M836.9 1712.5h5.0M836.9 1699.6h5.0M836.9 1690.4h5.0M836.9 1683.3h5.0M836.9 1677.5h5.0M836.9 1672.6h5.0M836.9 1668.4h5.0M836.9 1664.6h5.0M836.9 1661.3h9.5M836.9 1639.2h5.0M836.9 1626.3h5.0M836.9 1617.2h5.0M836.9 1610.1h5.0M836.9 1604.3h5.0M836.9 1599.4h5.0M836.9 1595.1h5.0M836.9 1591.4h5.0M836.9 1588.0h9.5M836.9 1566.0h5.0M836.9 1553.1h5.0M836.9 1543.9h5.0M836.9 1536.8h5.0M836.9 1531.0h5.0M836.9 1526.1h5.0M836.9 1521.9h5.0M836.9 1518.1h5.0M836.9 1514.8h9.5M836.9 1492.7h5.0M836.9 1479.8h5.0M836.9 1470.7h5.0M836.9 1463.6h5.0M836.9 1457.8h5.0M836.9 1452.9h5.0M836.9 1448.6h5.0M836.9 1444.9h5.0M836.9 1441.5h9.5M836.9 1419.5h5.0M836.9 1406.6h5.0M836.9 1397.4h5.0M836.9 1390.3h5.0M836.9 1384.5h5.0M836.9 1379.6h5.0M836.9 1375.4h5.0M836.9 1371.7h5.0" stroke="#000" stroke-width="2" fill="none"/>
<text x="879.8" y="1914.5" font-size="30" text-anchor="middle" fill="#000">0</text>
<text x="965.5" y="1914.5" font-size="30" text-anchor="middle" fill="#000">20</text>
<text x="1051.3" y="1914.5" font-size="30" text-anchor="middle" fill="#000">40</text>
<text x="1137.0" y="1914.5" font-size="30" text-anchor="middle" fill="#000">60</text>
<text x="1222.8" y="1914.5" font-size="30" text-anchor="middle" fill="#000">80</text>
<text x="1308.5" y="1914.5" font-size="30" text-anchor="middle" fill="#000">100</text>
<text x="826.9" y="1380.6" font-size="30" text-anchor="end">10<tspan font-size="20.5" dy="-13.8">-7</tspan></text>
<text x="826.9" y="1453.8" font-size="30" text-anchor="end">10<tspan font-size="20.5" dy="-13.8">-8</tspan></text>
<text x="826.9" y="1527.1" font-size="30" text-anchor="end">10<tspan font-size="20.5" dy="-13.8">-9</tspan></text>
<text x="826.9" y="1600.3" font-size="30" text-anchor="end">10<tspan font-size="20.5" dy="-13.8">-10</tspan></text>
<text x="826.9" y="1673.6" font-size="30" text-anchor="end">10<tspan font-size="20.5" dy="-13.8">-11</tspan></text>
<text x="826.9" y="1746.8" font-size="30" text-anchor="end">10<tspan font-size="20.5" dy="-13.8">-12</tspan></text>
<text x="826.9" y="1820.1" font-size="30" text-anchor="end">10<tspan font-size="20.5" dy="-13.8">-13</tspan></text>
<text x="826.9" y="1893.3" font-size="30" text-anchor="end">10<tspan font-size="20.5" dy="-13.8">-14</tspan></text>
<text x="731.5" y="1595.5" font-size="39" text-anchor="middle" fill="#000" transform="rotate(-90 731.5 1595.5)">Current (A)</text>
<text x="1101" y="1958.4" font-size="39" text-anchor="middle" fill="#000">Time (s)</text>
<text x="715.5" y="1390.2" font-size="71" fill="#000">f</text>
<text x="869.5" y="1418.3" font-size="42.5" fill="#6b0a45">Se</text>
<path d="M482.8 1635.2L482.9 1634.1L483.1 1634.6L483.3 1635.0L483.5 1635.7L483.6 1635.0L483.8 1634.2L484.0 1635.2L484.1 1634.4L484.3 1635.6L484.5 1634.9L484.7 1635.9L484.8 1634.9L485.0 1634.5L485.2 1634.3L485.3 1634.8L485.5 1635.2L485.7 1635.6L485.9 1635.1L486.0 1634.6L486.2 1635.3L486.4 1634.3L486.6 1635.3L486.7 1634.6L486.9 1635.7L487.1 1635.5L487.2 1635.2L487.4 1634.5L487.6 1635.3L487.8 1635.2L487.9 1634.7L488.1 1634.7L488.3 1635.6L488.4 1634.8L488.6 1635.2L488.8 1635.7L489.0 1634.3L489.1 1635.9L489.3 1745.8L489.5 1809.7L489.6 1822.3L489.8 1824.7L490.0 1825.5L490.2 1822.5L490.3 1822.7L490.5 1820.7L490.7 1818.6L490.9 1817.1L491.0 1815.7L491.2 1814.3L491.4 1813.4L491.5 1811.2L491.7 1810.9L491.9 1809.6L492.1 1807.8L492.2 1807.1L492.4 1805.5L492.6 1804.7L492.7 1804.0L492.9 1803.7L493.1 1801.8L493.3 1800.9L493.4 1800.2L493.6 1799.3L493.8 1798.1L493.9 1798.8L494.1 1796.9L494.3 1796.3L494.5 1795.6L494.6 1795.7L494.8 1796.2L495.0 1795.7L495.2 1794.1L495.3 1793.3L495.5 1792.7L495.7 1791.7L495.8 1792.1L496.0 1791.3L496.2 1792.0L496.4 1790.4L496.5 1789.7L496.7 1788.9L496.9 1788.6L497.0 1789.5L497.2 1789.0L497.4 1788.0L497.6 1787.5L497.7 1788.1L497.9 1787.5L498.1 1787.6L498.2 1787.2L498.4 1786.6L498.6 1785.9L498.8 1786.7L498.9 1786.4L499.1 1786.3L499.3 1786.5L499.5 1786.3L499.6 1677.2L499.8 1619.9L500.0 1609.3L500.1 1610.2L500.3 1611.3L500.5 1613.7L500.7 1615.6L500.8 1616.5L501.0 1618.6L501.2 1620.8L501.3 1621.4L501.5 1623.0L501.7 1623.8L501.9 1625.5L502.0 1626.3L502.2 1626.7L502.4 1627.2L502.5 1627.5L502.7 1629.7L502.9 1629.7L503.1 1630.1L503.2 1630.7L503.4 1631.0L503.6 1632.2L503.8 1632.5L503.9 1631.4L504.1 1632.9L504.3 1633.2L504.4 1633.3L504.6 1633.7L504.8 1634.7L505.0 1634.2L505.1 1634.8L505.3 1634.9L505.5 1633.8L505.6 1635.6L505.8 1634.9L506.0 1634.8L506.2 1635.4L506.3 1636.2L506.5 1634.8L506.7 1634.9L506.8 1635.5L507.0 1634.5L507.2 1634.9L507.4 1635.5L507.5 1635.9L507.7 1635.9L507.9 1636.0L508.1 1636.2L508.2 1635.5L508.4 1635.5L508.6 1635.6L508.7 1635.6L508.9 1636.4L509.1 1636.2L509.3 1634.8L509.4 1636.1L509.6 1635.3L509.8 1635.3L509.9 1636.5L510.1 1636.6L510.3 1636.5L510.5 1636.3L510.6 1636.8L510.8 1635.3L511.0 1636.4L511.1 1635.7L511.3 1790.4L511.5 1817.9L511.7 1825.4L511.8 1826.2L512.0 1824.9L512.2 1822.7L512.4 1821.5L512.5 1819.2L512.7 1818.0L512.9 1817.4L513.0 1815.9L513.2 1814.0L513.4 1812.7L513.6 1810.9L513.7 1809.9L513.9 1808.4L514.1 1807.6L514.2 1805.9L514.4 1805.7L514.6 1804.1L514.8 1803.3L514.9 1802.3L515.1 1802.2L515.3 1801.1L515.5 1799.4L515.6 1798.5L515.8 1798.6L516.0 1797.6L516.1 1796.8L516.3 1796.4L516.5 1796.5L516.7 1795.0L516.8 1795.2L517.0 1793.7L517.2 1793.3L517.3 1793.1L517.5 1792.4L517.7 1791.7L517.9 1791.0L518.0 1791.0L518.2 1790.5L518.4 1790.4L518.5 1790.5L518.7 1789.9L518.9 1789.9L519.1 1789.1L519.2 1788.9L519.4 1788.7L519.6 1788.5L519.8 1788.4L519.9 1787.3L520.1 1787.6L520.3 1787.2L520.4 1787.5L520.6 1787.1L520.8 1786.2L521.0 1786.5L521.1 1677.8L521.3 1619.7L521.5 1611.1L521.6 1610.0L521.8 1610.7L522.0 1613.4L522.2 1615.5L522.3 1616.6L522.5 1619.0L522.7 1618.8L522.8 1622.7L523.0 1622.3L523.2 1623.9L523.4 1625.1L523.5 1625.5L523.7 1627.3L523.9 1627.4L524.0 1628.0L524.2 1628.1L524.4 1630.3L524.6 1631.1L524.7 1630.8L524.9 1631.5L525.1 1632.7L525.3 1632.4L525.4 1633.2L525.6 1633.4L525.8 1633.5L525.9 1633.7L526.1 1634.3L526.3 1634.0L526.5 1634.1L526.6 1633.9L526.8 1633.4L527.0 1634.1L527.1 1634.5L527.3 1635.3L527.5 1634.7L527.7 1634.0L527.8 1635.5L528.0 1635.8L528.2 1635.4L528.3 1635.5L528.5 1635.5L528.7 1635.4L528.9 1636.2L529.0 1635.1L529.2 1635.2L529.4 1634.9L529.6 1635.4L529.7 1635.3L529.9 1635.4L530.1 1635.9L530.2 1636.3L530.4 1635.1L530.6 1635.9L530.8 1635.5L530.9 1635.5L531.1 1635.6L531.3 1636.1L531.4 1635.1L531.6 1636.7L531.8 1635.9L532.0 1635.6L532.1 1635.1L532.3 1636.5L532.5 1636.3L532.6 1636.5L532.8 1790.8L533.0 1819.7L533.2 1825.4L533.3 1826.4L533.5 1824.6L533.7 1823.5L533.9 1821.2L534.0 1819.9L534.2 1818.0L534.4 1816.7L534.5 1815.2L534.7 1813.7L534.9 1812.3L535.1 1811.1L535.2 1809.5L535.4 1808.2L535.6 1807.2L535.7 1806.6L535.9 1805.6L536.1 1804.8L536.3 1804.5L536.4 1801.8L536.6 1801.9L536.8 1799.9L537.0 1799.5L537.1 1798.6L537.3 1798.3L537.5 1798.2L537.6 1797.7L537.8 1796.4L538.0 1796.1L538.2 1795.3L538.3 1793.8L538.5 1794.8L538.7 1793.1L538.8 1792.7L539.0 1792.4L539.2 1791.5L539.4 1791.2L539.5 1791.5L539.7 1790.3L539.9 1790.0L540.0 1789.1L540.2 1788.7L540.4 1789.5L540.6 1789.2L540.7 1788.5L540.9 1789.3L541.1 1787.6L541.2 1788.1L541.4 1787.2L541.6 1787.4L541.8 1787.4L541.9 1786.2L542.1 1787.4L542.3 1786.4L542.5 1786.3L542.6 1677.4L542.8 1619.8L543.0 1609.8L543.1 1609.3L543.3 1611.5L543.5 1613.1L543.7 1614.9L543.8 1617.1L544.0 1619.5L544.2 1619.7L544.3 1620.4L544.5 1622.8L544.7 1623.3L544.9 1625.1L545.0 1625.7L545.2 1627.1L545.4 1628.9L545.5 1628.6L545.7 1628.5L545.9 1629.4L546.1 1629.9L546.2 1630.2L546.4 1631.7L546.6 1631.9L546.8 1632.7L546.9 1633.0L547.1 1632.8L547.3 1632.9L547.4 1633.2L547.6 1633.6L547.8 1633.5L548.0 1633.3L548.1 1635.4L548.3 1635.1L548.5 1634.4L548.6 1634.5L548.8 1634.6L549.0 1635.1L549.2 1634.8L549.3 1634.0L549.5 1635.3L549.7 1635.5L549.8 1634.6L550.0 1634.7L550.2 1635.4L550.4 1634.9L550.5 1636.1L550.7 1636.0L550.9 1634.7L551.1 1635.9L551.2 1635.0L551.4 1635.4L551.6 1636.4L551.7 1635.6L551.9 1636.1L552.1 1635.6L552.3 1636.9L552.4 1635.8L552.6 1637.4L552.8 1636.2L552.9 1635.7L553.1 1635.9L553.3 1635.8L553.5 1636.7L553.6 1635.4L553.8 1636.4L554.0 1636.7L554.1 1636.6L554.3 1790.0L554.5 1819.4L554.7 1825.1L554.8 1825.9L555.0 1823.9L555.2 1823.1L555.4 1822.0L555.5 1819.9L555.7 1818.3L555.9 1816.4L556.0 1815.0L556.2 1813.7L556.4 1813.6L556.6 1810.9L556.7 1809.5L556.9 1808.0L557.1 1807.6L557.2 1806.4L557.4 1805.0L557.6 1803.3L557.8 1804.2L557.9 1802.2L558.1 1801.1L558.3 1800.7L558.5 1799.3L558.6 1798.9L558.8 1797.3L559.0 1797.3L559.1 1795.5L559.3 1796.6L559.5 1795.6L559.7 1794.9L559.8 1794.4L560.0 1793.2L560.2 1793.4L560.3 1792.9L560.5 1792.9L560.7 1791.6L560.9 1791.2L561.0 1791.1L561.2 1790.8L561.4 1790.4L561.5 1790.1L561.7 1790.1L561.9 1789.4L562.1 1789.1L562.2 1788.6L562.4 1787.6L562.6 1788.4L562.8 1787.6L562.9 1787.5L563.1 1786.7L563.3 1788.0L563.4 1787.4L563.6 1786.5L563.8 1786.7L564.0 1786.7L564.1 1678.5L564.3 1619.7L564.5 1610.9L564.6 1609.4L564.8 1611.2L565.0 1613.1L565.2 1614.9L565.3 1616.4L565.5 1618.9L565.7 1619.7L565.8 1621.2L566.0 1622.9L566.2 1624.8L566.4 1625.8L566.5 1626.1L566.7 1626.5L566.9 1627.1L567.0 1628.6L567.2 1629.7L567.4 1630.3L567.6 1630.4L567.7 1630.5L567.9 1631.6L568.1 1632.5L568.3 1632.2L568.4 1632.8L568.6 1632.7L568.8 1633.0L568.9 1634.1L569.1 1633.3L569.3 1634.5L569.5 1633.9L569.6 1634.2L569.8 1634.8L570.0 1634.9L570.1 1634.4L570.3 1634.7L570.5 1634.9L570.7 1635.0L570.8 1635.1L571.0 1635.6L571.2 1634.7L571.3 1635.8L571.5 1635.9L571.7 1634.8L571.9 1635.5L572.0 1635.1L572.2 1634.8L572.4 1635.6L572.6 1635.9L572.7 1635.5L572.9 1635.9L573.1 1635.8L573.2 1634.8L573.4 1635.7L573.6 1636.3L573.8 1636.5L573.9 1635.2L574.1 1635.1L574.3 1636.1L574.4 1635.7L574.6 1636.0L574.8 1635.6L575.0 1636.3L575.1 1636.3L575.3 1635.7L575.5 1635.9L575.6 1636.0L575.8 1791.0L576.0 1818.9L576.2 1824.8L576.3 1825.7L576.5 1824.5L576.7 1822.8L576.9 1821.9L577.0 1819.5L577.2 1817.5L577.4 1816.2L577.5 1815.1L577.7 1813.4L577.9 1812.1L578.1 1811.1L578.2 1809.9L578.4 1808.4L578.6 1807.1L578.7 1806.3L578.9 1805.7L579.1 1803.5L579.3 1803.0L579.4 1801.7L579.6 1801.1L579.8 1801.0L580.0 1800.8L580.1 1799.0L580.3 1797.8L580.5 1797.0L580.6 1797.3L580.8 1796.8L581.0 1796.1L581.2 1795.4L581.3 1794.2L581.5 1793.5L581.7 1793.4L581.8 1793.3L582.0 1792.2L582.2 1791.5L582.4 1792.1L582.5 1790.4L582.7 1791.5L582.9 1789.8L583.0 1790.3L583.2 1789.4L583.4 1789.9L583.6 1788.8L583.7 1788.7L583.9 1788.6L584.1 1787.9L584.2 1787.2L584.4 1787.3L584.6 1786.9L584.8 1787.2L584.9 1785.0L585.1 1787.2L585.3 1787.5L585.5 1786.4L585.6 1677.0L585.8 1619.3L586.0 1609.9L586.1 1609.3L586.3 1612.0L586.5 1612.0L586.7 1614.7L586.8 1616.9L587.0 1617.9L587.2 1621.1L587.3 1621.5L587.5 1623.0L587.7 1623.9L587.9 1625.1L588.0 1625.8L588.2 1627.7L588.4 1627.4L588.5 1628.2L588.7 1629.6L588.9 1629.3L589.1 1631.4L589.2 1630.8L589.4 1631.3L589.6 1632.7L589.8 1631.4L589.9 1633.5L590.1 1632.5L590.3 1632.8L590.4 1633.9L590.6 1634.5L590.8 1633.8L591.0 1634.1L591.1 1634.3L591.3 1634.3L591.5 1634.7L591.6 1634.7L591.8 1634.4L592.0 1634.4L592.2 1633.8L592.3 1635.2L592.5 1634.8L592.7 1635.3L592.8 1635.6L593.0 1635.4L593.2 1635.8L593.4 1635.6L593.5 1636.0L593.7 1635.5L593.9 1635.3L594.1 1636.0L594.2 1635.1L594.4 1636.3L594.6 1635.5L594.7 1635.5L594.9 1636.1L595.1 1636.7L595.3 1635.3L595.4 1635.6L595.6 1636.3L595.8 1637.2L595.9 1634.8L596.1 1635.7L596.3 1635.6L596.5 1635.3L596.6 1637.0L596.8 1636.1L597.0 1636.1L597.1 1635.8L597.3 1791.3L597.5 1819.1L597.7 1824.4L597.8 1825.0L598.0 1824.7L598.2 1823.0L598.4 1820.9L598.5 1819.5L598.7 1817.8L598.9 1817.3L599.0 1814.3L599.2 1814.0L599.4 1812.3L599.6 1810.9L599.7 1809.4L599.9 1809.1L600.1 1807.2L600.2 1806.9L600.4 1805.4L600.6 1804.2L600.8 1802.9L600.9 1802.3L601.1 1801.6L601.3 1801.1L601.5 1799.2L601.6 1798.6L601.8 1797.8L602.0 1797.2L602.1 1796.0L602.3 1796.6L602.5 1796.3L602.7 1794.2L602.8 1795.2L603.0 1793.7L603.2 1793.6L603.3 1793.6L603.5 1792.3L603.7 1792.4L603.9 1791.4L604.0 1791.2L604.2 1790.4L604.4 1790.5L604.5 1790.0L604.7 1790.2L604.9 1789.3L605.1 1788.3L605.2 1788.4L605.4 1789.1L605.6 1787.7L605.8 1788.1L605.9 1787.3L606.1 1787.6L606.3 1787.9L606.4 1788.0L606.6 1786.1L606.8 1786.1L607.0 1785.8L607.1 1677.1L607.3 1619.6L607.5 1610.4L607.6 1610.5L607.8 1611.6L608.0 1613.1L608.2 1615.1L608.3 1617.1L608.5 1619.1L608.7 1621.2L608.8 1621.5L609.0 1623.4L609.2 1624.3L609.4 1625.1L609.5 1626.4L609.7 1626.7L609.9 1629.4L610.0 1629.0L610.2 1629.1L610.4 1630.0L610.6 1630.2L610.7 1630.8L610.9 1631.3L611.1 1631.4L611.3 1631.7L611.4 1633.2L611.6 1632.8L611.8 1633.5L611.9 1633.2L612.1 1633.4L612.3 1633.6L612.5 1635.4L612.6 1634.8L612.8 1634.9L613.0 1634.6" fill="none" stroke="#ff0000" stroke-width="6.0" stroke-linejoin="round" stroke-linecap="round"/>
<path d="M879.8 1849.6L880.3 1778.1L880.7 1513.8L881.2 1513.8L881.7 1513.8L882.2 1513.8L882.6 1513.8L883.1 1513.8L883.6 1513.8L884.0 1513.8L884.5 1513.8L885.0 1513.8L885.5 1513.8L885.9 1513.8L886.4 1513.8L886.9 1513.8L887.3 1513.8L887.8 1513.8L888.3 1513.8L888.8 1513.8L889.2 1513.8L889.7 1513.8L890.2 1513.8L890.6 1513.8L891.1 1513.8L891.6 1814.5L892.1 1816.8L892.5 1960.8L893.0 1824.0L893.5 1778.6L893.9 1775.3L894.4 1768.1L894.9 1783.9L895.4 1797.5L895.8 1793.8L896.3 1841.2L896.8 1759.2L897.2 1819.8L897.7 1788.9L898.2 1758.6L898.7 1766.0L899.1 1781.8L899.6 1832.4L900.1 1824.7L900.5 1880.5L901.0 1796.8L901.5 1829.4L902.0 1795.2L902.4 1513.8L902.9 1513.8L903.4 1513.8L903.9 1513.8L904.3 1513.8L904.8 1513.8L905.3 1513.8L905.7 1513.8L906.2 1513.8L906.7 1513.8L907.2 1513.8L907.6 1513.8L908.1 1513.8L908.6 1513.8L909.0 1513.8L909.5 1513.8L910.0 1513.8L910.5 1513.8L910.9 1513.8L911.4 1513.8L911.9 1513.8L912.3 1513.8L912.8 1513.8L913.3 1803.0L913.8 1803.7L914.2 1807.8L914.7 1798.2L915.2 1781.1L915.6 1858.4L916.1 1790.6L916.6 1806.1L917.1 1797.2L917.5 1782.7L918.0 1778.1L918.5 1762.5L918.9 1862.2L919.4 1769.0L919.9 1767.0L920.4 1770.9L920.8 1830.4L921.3 1795.0L921.8 1785.0L922.2 1784.8L922.7 1834.0L923.2 1805.6L923.7 1830.6L924.1 1513.8L924.6 1513.8L925.1 1513.8L925.5 1513.8L926.0 1513.8L926.5 1513.8L927.0 1513.8L927.4 1513.8L927.9 1513.8L928.4 1513.8L928.8 1513.8L929.3 1513.8L929.8 1513.8L930.3 1513.8L930.7 1513.8L931.2 1513.8L931.7 1513.8L932.1 1513.8L932.6 1513.8L933.1 1513.8L933.6 1513.8L934.0 1513.8L934.5 1513.8L935.0 1827.5L935.4 1934.2L935.9 1798.3L936.4 1868.5L936.9 1824.5L937.3 1908.2L937.8 1779.9L938.3 1822.4L938.7 1826.0L939.2 1817.6L939.7 1792.0L940.2 1780.2L940.6 1846.8L941.1 1772.5L941.6 1822.6L942.0 1781.4L942.5 1798.8L943.0 1774.7L943.5 1766.6L943.9 1772.5L944.4 1821.6L944.9 1807.6L945.3 1805.1L945.8 1513.8L946.3 1513.8L946.8 1513.8L947.2 1513.8L947.7 1513.8L948.2 1513.8L948.6 1513.8L949.1 1513.8L949.6 1513.8L950.1 1513.8L950.5 1513.8L951.0 1513.8L951.5 1513.8L952.0 1513.8L952.4 1513.8L952.9 1513.8L953.4 1513.8L953.8 1513.8L954.3 1513.8L954.8 1513.8L955.3 1513.8L955.7 1513.8L956.2 1513.8L956.7 1840.3L957.1 1804.7L957.6 1803.9L958.1 1793.4L958.6 1862.2L959.0 1782.2L959.5 1802.5L960.0 1907.0L960.4 1759.6L960.9 1842.8L961.4 1881.4L961.9 1754.8L962.3 1783.1L962.8 1813.0L963.3 1814.7L963.7 1767.4L964.2 1764.7L964.7 1802.5L965.2 1825.2L965.6 1785.7L966.1 1861.6L966.6 1840.8L967.0 1802.2L967.5 1513.8L968.0 1513.8L968.5 1513.8L968.9 1513.8L969.4 1513.8L969.9 1513.8L970.3 1513.8L970.8 1513.8L971.3 1513.8L971.8 1513.8L972.2 1513.8L972.7 1513.8L973.2 1513.8L973.6 1513.8L974.1 1513.8L974.6 1513.8L975.1 1513.8L975.5 1513.8L976.0 1513.8L976.5 1513.8L976.9 1513.8L977.4 1513.8L977.9 1513.8L978.4 1819.0L978.8 1865.0L979.3 1807.3L979.8 1834.7L980.2 1826.4L980.7 1786.6L981.2 1776.3L981.7 1785.7L982.1 1823.5L982.6 1769.2L983.1 1760.7L983.5 1788.8L984.0 1797.4L984.5 1839.6L985.0 1800.8L985.4 1771.4L985.9 1794.9L986.4 1790.0L986.8 1830.6L987.3 1847.3L987.8 1817.7L988.3 1781.8L988.7 1800.5L989.2 1513.8L989.7 1513.8L990.1 1513.8L990.6 1513.8L991.1 1513.8L991.6 1513.8L992.0 1513.8L992.5 1513.8L993.0 1513.8L993.4 1513.8L993.9 1513.8L994.4 1513.8L994.9 1513.8L995.3 1513.8L995.8 1513.8L996.3 1513.8L996.7 1513.8L997.2 1513.8L997.7 1513.8L998.2 1513.8L998.6 1513.8L999.1 1513.8L999.6 1513.8L1000.1 1829.9L1000.5 1875.2L1001.0 1827.6L1001.5 1848.4L1001.9 1796.5L1002.4 1825.2L1002.9 1815.2L1003.4 1770.2L1003.8 1824.9L1004.3 1766.5L1004.8 1775.9L1005.2 1795.5L1005.7 1770.3L1006.2 1801.9L1006.7 1807.9L1007.1 1780.9L1007.6 1826.9L1008.1 1806.3L1008.5 1778.3L1009.0 1772.8L1009.5 1809.4L1010.0 1867.6" fill="none" stroke="#6a00dc" stroke-width="6.0" stroke-linejoin="round" stroke-linecap="round" clip-path="url(#clipf)"/>
<path d="M1029.0 1435.0L1029.5 1435.0L1029.9 1435.0L1030.4 1435.0L1030.9 1435.0L1031.3 1435.0L1031.8 1435.0L1032.3 1435.0L1032.8 1435.0L1033.2 1435.0L1033.7 1435.0L1034.2 1435.0L1034.6 1435.0L1035.1 1435.0L1035.6 1435.0L1036.1 1435.0L1036.5 1435.0L1037.0 1435.0L1037.5 1435.0L1037.9 1435.0L1038.4 1435.0L1038.9 1435.0L1039.4 1435.0L1039.8 1435.0L1040.3 1435.0L1040.8 1435.0L1041.2 1435.0L1041.7 1435.0L1042.2 1435.0L1042.7 1822.0L1043.1 1752.4L1043.6 1766.2L1044.1 1820.7L1044.5 1762.5L1045.0 1765.3L1045.5 1790.1L1046.0 1809.1L1046.4 1767.7L1046.9 1770.4L1047.4 1749.2L1047.9 1736.1L1048.3 1764.8L1048.8 1740.0L1049.3 1762.4L1049.7 1752.5L1050.2 1752.8L1050.7 1774.5L1051.2 1743.9L1051.6 1884.1L1052.1 1781.9L1052.6 1765.7L1053.0 1784.0L1053.5 1774.9L1054.0 1782.4L1054.5 1435.0L1054.9 1435.0L1055.4 1435.0L1055.9 1435.0L1056.3 1435.0L1056.8 1435.0L1057.3 1435.0L1057.8 1435.0L1058.2 1435.0L1058.7 1435.0L1059.2 1435.0L1059.6 1435.0L1060.1 1435.0L1060.6 1435.0L1061.1 1435.0L1061.5 1435.0L1062.0 1435.0L1062.5 1435.0L1062.9 1435.0L1063.4 1435.0L1063.9 1435.0L1064.4 1435.0L1064.8 1806.7L1065.3 1857.2L1065.8 1759.5L1066.2 1771.3L1066.7 1752.5L1067.2 1774.1L1067.7 1778.7L1068.1 1773.5L1068.6 1743.4L1069.1 1754.1L1069.5 1759.5L1070.0 1806.0L1070.5 1771.0L1071.0 1784.6L1071.4 1745.4L1071.9 1743.5L1072.4 1808.7L1072.8 1754.9L1073.3 1789.4L1073.8 1810.7L1074.3 1776.4L1074.7 1784.8L1075.2 1875.6L1075.7 1435.0L1076.1 1435.0L1076.6 1435.0L1077.1 1435.0L1077.6 1435.0L1078.0 1435.0L1078.5 1435.0L1079.0 1435.0L1079.4 1435.0L1079.9 1435.0L1080.4 1435.0L1080.9 1435.0L1081.3 1435.0L1081.8 1435.0L1082.3 1435.0L1082.7 1435.0L1083.2 1435.0L1083.7 1435.0L1084.2 1435.0L1084.6 1435.0L1085.1 1435.0L1085.6 1435.0L1086.0 1832.5L1086.5 1798.1L1087.0 1761.3L1087.5 1770.5L1087.9 1789.2L1088.4 1760.7L1088.9 1736.0L1089.3 1769.6L1089.8 1765.7L1090.3 1802.3L1090.8 1778.3L1091.2 1746.6L1091.7 1809.9L1092.2 1765.1L1092.6 1771.6L1093.1 1753.7L1093.6 1800.7L1094.1 1752.5L1094.5 1759.3L1095.0 1770.1L1095.5 1808.5L1096.0 1844.7L1096.4 1781.4L1096.9 1435.0L1097.4 1435.0L1097.8 1435.0L1098.3 1435.0L1098.8 1435.0L1099.3 1435.0L1099.7 1435.0L1100.2 1435.0L1100.7 1435.0L1101.1 1435.0L1101.6 1435.0L1102.1 1435.0L1102.6 1435.0L1103.0 1435.0L1103.5 1435.0L1104.0 1435.0L1104.4 1435.0L1104.9 1435.0L1105.4 1435.0L1105.9 1435.0L1106.3 1435.0L1106.8 1435.0L1107.3 1795.9L1107.7 1774.0L1108.2 1754.1L1108.7 1788.2L1109.2 1762.5L1109.6 1792.3L1110.1 1796.2L1110.6 1737.5L1111.0 1774.0L1111.5 1741.9L1112.0 1863.6L1112.5 1782.6L1112.9 1782.6L1113.4 1778.2L1113.9 1781.3L1114.3 1753.9L1114.8 1736.6L1115.3 1764.6L1115.8 1766.9L1116.2 1791.4L1116.7 1769.5L1117.2 1790.5L1117.6 1798.2L1118.1 1435.0L1118.6 1435.0L1119.1 1435.0L1119.5 1435.0L1120.0 1435.0L1120.5 1435.0L1120.9 1435.0L1121.4 1435.0L1121.9 1435.0L1122.4 1435.0L1122.8 1435.0L1123.3 1435.0L1123.8 1435.0L1124.2 1435.0L1124.7 1435.0L1125.2 1435.0L1125.7 1435.0L1126.1 1435.0L1126.6 1435.0L1127.1 1435.0L1127.5 1435.0L1128.0 1435.0L1128.5 1778.1L1129.0 1794.7L1129.4 1806.6L1129.9 1765.3L1130.4 1743.9L1130.8 1779.2L1131.3 1742.9L1131.8 1767.5L1132.3 1726.1L1132.7 1842.5L1133.2 1750.4L1133.7 1794.4L1134.1 1791.9L1134.6 1770.0L1135.1 1768.3L1135.6 1818.2L1136.0 1812.2L1136.5 1745.7L1137.0 1823.4L1137.4 1843.9L1137.9 1769.2L1138.4 1772.0L1138.9 1435.0L1139.3 1435.0L1139.8 1435.0L1140.3 1435.0L1140.7 1435.0L1141.2 1435.0L1141.7 1435.0L1142.2 1435.0L1142.6 1435.0L1143.1 1435.0L1143.6 1435.0L1144.1 1435.0L1144.5 1435.0L1145.0 1435.0L1145.5 1435.0L1145.9 1435.0L1146.4 1435.0L1146.9 1435.0L1147.4 1435.0L1147.8 1435.0L1148.3 1435.0L1148.8 1435.0L1149.2 1435.0L1149.7 1817.1L1150.2 1764.2L1150.7 1767.8L1151.1 1766.5L1151.6 1769.1L1152.1 1775.8L1152.5 1750.5L1153.0 1769.7L1153.5 1762.8L1154.0 1745.1L1154.4 1747.7L1154.9 1740.5L1155.4 1786.0L1155.8 1733.3L1156.3 1741.6L1156.8 1765.2L1157.3 1791.7L1157.7 1750.8L1158.2 1751.0L1158.7 1816.2L1159.1 1783.1L1159.6 1905.7L1160.1 1779.2L1160.6 1796.7" fill="none" stroke="#007f00" stroke-width="6.0" stroke-linejoin="round" stroke-linecap="round" clip-path="url(#clipf)"/>
<path d="M1179.9 1765.8L1180.3 1822.0L1180.6 1783.8L1181.0 1784.6L1181.3 1779.8L1181.7 1791.3L1182.1 1825.1L1182.4 1845.0L1182.8 1831.5L1183.2 1781.7L1183.5 1798.8L1183.9 1873.0L1184.3 1803.2L1184.6 1900.3L1185.0 1768.0L1185.4 1802.8L1185.7 1816.4L1186.1 1770.4L1186.4 1840.9L1186.8 1799.6L1187.2 1762.1L1187.5 1876.3L1187.9 1769.4L1188.3 1787.2L1188.6 1777.6L1189.0 1835.7L1189.4 1807.8L1189.7 1803.6L1190.1 1799.0L1190.5 1804.8L1190.8 1766.7L1191.2 1777.2L1191.6 1830.1L1191.9 1780.2L1192.3 1840.0L1192.6 1785.6L1193.0 1797.0L1193.4 1754.1L1193.7 1758.2L1194.1 1800.8L1194.5 1766.2L1194.8 1830.2L1195.2 1744.3L1195.6 1778.9L1195.9 1926.2L1196.3 1785.9L1196.7 1787.5L1197.0 1755.6L1197.4 1813.9L1197.7 1849.7L1198.1 1797.2L1198.5 1778.8L1198.8 1807.8L1199.2 1817.9L1199.6 1799.8L1199.9 1751.5L1200.3 1792.9L1200.7 1830.3L1201.0 1860.6L1201.4 1768.4L1201.8 1759.6L1202.1 1774.9L1202.5 1818.4L1202.8 1858.1L1203.2 1823.5L1203.6 1809.2L1203.9 1825.0L1204.3 1881.7L1204.7 1799.8L1205.0 1782.8L1205.4 1765.9L1205.8 1805.5L1206.1 1894.7L1206.5 1822.5L1206.9 1791.5L1207.2 1785.1L1207.6 1771.5L1207.9 1743.9L1208.3 1786.5L1208.7 1857.3L1209.0 1749.8L1209.4 1807.8L1209.8 1873.8L1210.1 1837.5L1210.5 1810.2L1210.9 1740.8L1211.2 1837.1L1211.6 1792.9L1212.0 1763.3L1212.3 1782.0L1212.7 1787.9L1213.0 1814.7L1213.4 1746.1L1213.8 1819.3L1214.1 1761.8L1214.5 1850.3L1214.9 1847.3L1215.2 1804.3L1215.6 1883.3L1216.0 1786.2L1216.3 1778.9L1216.7 1894.0L1217.1 1769.0L1217.4 1759.8L1217.8 1773.4L1218.2 1915.7L1218.5 1758.4L1218.9 1845.0L1219.2 1785.5L1219.6 1764.7L1220.0 1786.8L1220.3 1820.5L1220.7 1817.5L1221.1 1762.1L1221.4 1775.2L1221.8 1768.1L1222.2 1751.6L1222.5 1816.4L1222.9 1795.3L1223.3 1820.9L1223.6 1812.8L1224.0 1802.5L1224.3 1757.0L1224.7 1879.4L1225.1 1768.9L1225.4 1783.1L1225.8 1824.4L1226.2 1784.6L1226.5 1814.8L1226.9 1813.0L1227.3 1817.8L1227.6 1808.0L1228.0 1764.3L1228.4 1753.4L1228.7 1806.0L1229.1 1767.4L1229.4 1813.6L1229.8 1778.3L1230.2 1798.4L1230.5 1769.0L1230.9 1755.7L1231.3 1755.8L1231.6 1792.3L1232.0 1807.4L1232.4 1776.7L1232.7 1811.4L1233.1 1827.3L1233.5 1786.0L1233.8 1782.8L1234.2 1752.0L1234.5 1794.4L1234.9 1756.9L1235.3 1800.6L1235.6 1885.9L1236.0 1772.1L1236.4 1814.9L1236.7 1751.8L1237.1 1763.1L1237.5 1780.5L1237.8 1892.4L1238.2 1794.5L1238.6 1845.6L1238.9 1773.3L1239.3 1840.1L1239.7 1757.6L1240.0 1772.2L1240.4 1751.2L1240.7 1811.6L1241.1 1769.9L1241.5 1850.8L1241.8 1764.4L1242.2 1828.8L1242.6 1757.3L1242.9 1890.7L1243.3 1786.1L1243.7 1779.1L1244.0 1922.7L1244.4 1814.8L1244.8 1814.1L1245.1 1800.3L1245.5 1824.5L1245.8 1777.8L1246.2 1763.4L1246.6 1804.6L1246.9 1838.9L1247.3 1804.3L1247.7 1773.2L1248.0 1776.7L1248.4 1777.9L1248.8 1785.5L1249.1 1756.7L1249.5 1787.5L1249.9 1789.0L1250.2 1784.0L1250.6 1797.7L1250.9 1824.6L1251.3 1819.6L1251.7 1850.3L1252.0 1776.6L1252.4 1891.7L1252.8 1776.9L1253.1 1770.1L1253.5 1760.4L1253.9 1767.1L1254.2 1923.3L1254.6 1779.0L1255.0 1762.8L1255.3 1765.8L1255.7 1757.9L1256.0 1841.8L1256.4 1774.7L1256.8 1772.9L1257.1 1796.4L1257.5 1756.4L1257.9 1812.6L1258.2 1831.9L1258.6 1785.4L1259.0 1811.4L1259.3 1856.2L1259.7 1772.9L1260.1 1774.6L1260.4 1828.7L1260.8 1795.0L1261.2 1785.6L1261.5 1795.4L1261.9 1758.9L1262.2 1789.3L1262.6 1769.9L1263.0 1753.9L1263.3 1780.1L1263.7 1777.2L1264.1 1832.7L1264.4 1844.7L1264.8 1749.1L1265.2 1817.3L1265.5 1777.8L1265.9 1770.2L1266.3 1877.1L1266.6 1797.9L1267.0 1782.5L1267.3 1779.7L1267.7 1863.1L1268.1 1804.4L1268.4 1780.9L1268.8 1765.1L1269.2 1844.0L1269.5 1754.6L1269.9 1835.4L1270.3 1840.0L1270.6 1784.3L1271.0 1873.5L1271.4 1765.2L1271.7 1825.0L1272.1 1850.1L1272.4 1781.8L1272.8 1753.8L1273.2 1857.9L1273.5 1768.1L1273.9 1784.9L1274.3 1753.2L1274.6 1754.2L1275.0 1782.9L1275.4 1770.9L1275.7 1839.2L1276.1 1768.8L1276.5 1794.1L1276.8 1774.4L1277.2 1822.7L1277.5 1844.2L1277.9 1779.1L1278.3 1774.8L1278.6 1762.7L1279.0 1773.2L1279.4 1775.1L1279.7 1762.7L1280.1 1755.1L1280.5 1783.4L1280.8 1772.1L1281.2 1911.2L1281.6 1785.1L1281.9 1900.9L1282.3 1899.4L1282.6 1802.7L1283.0 1771.9L1283.4 1792.4L1283.7 1766.0L1284.1 1836.2L1284.5 1805.7L1284.8 1793.7L1285.2 1830.8L1285.6 1781.1L1285.9 1793.4L1286.3 1820.2L1286.7 1771.4L1287.0 1756.5L1287.4 1776.9L1287.8 1792.7L1288.1 1808.7L1288.5 1820.8L1288.8 1801.5L1289.2 1810.3L1289.6 1758.9L1289.9 1781.9L1290.3 1862.1L1290.7 1868.5L1291.0 1788.7L1291.4 1766.4L1291.8 1764.9L1292.1 1755.0L1292.5 1763.3L1292.9 1789.1L1293.2 1759.1L1293.6 1831.1L1293.9 1822.1L1294.3 1809.6L1294.7 1789.5L1295.0 1796.7L1295.4 1811.8L1295.8 1877.1L1296.1 1774.8L1296.5 1744.5L1296.9 1743.3L1297.2 1811.8L1297.6 1826.0L1298.0 1846.7L1298.3 1836.5L1298.7 1804.7L1299.0 1873.5L1299.4 1817.3L1299.8 1750.2L1300.1 1865.6L1300.5 1765.0L1300.9 1859.3L1301.2 1754.1L1301.6 1884.9L1302.0 1786.6L1302.3 1753.6L1302.7 1756.8L1303.1 1764.9L1303.4 1783.1L1303.8 1806.7L1304.1 1816.2L1304.5 1779.2L1304.9 1790.4L1305.2 1803.7L1305.6 1882.7L1306.0 1761.4L1306.3 1876.9L1306.7 1833.0L1307.1 1775.3L1307.4 1846.8L1307.8 1764.8L1308.2 1748.9L1308.5 1791.6L1308.9 1770.5L1309.3 1763.7L1309.6 1795.9L1310.0 1774.0" fill="none" stroke="#ff0000" stroke-width="6.0" stroke-linejoin="round" stroke-linecap="round" clip-path="url(#clipf)"/>
<rect x="1547.1" y="1877.2" width="26" height="3.1" fill="url(#gp)"/>
<rect x="1547.1" y="1877.2" width="26" height="3.1" fill="url(#hp)"/>
<rect x="1574.1" y="1877.4" width="26" height="2.9" fill="url(#gg)"/>
<rect x="1574.1" y="1877.4" width="26" height="2.9" fill="url(#hg)"/>
<rect x="1601.6" y="1397.0" width="26.3" height="483.3" fill="url(#gr)"/>
<rect x="1601.6" y="1397.0" width="26.3" height="483.3" fill="url(#hr)"/>
<rect x="1649.8" y="1558.8" width="26" height="321.5" fill="url(#gp)"/>
<rect x="1649.8" y="1558.8" width="26" height="321.5" fill="url(#hp)"/>
<rect x="1676.8" y="1552.9" width="26" height="327.4" fill="url(#gg)"/>
<rect x="1676.8" y="1552.9" width="26" height="327.4" fill="url(#hg)"/>
<rect x="1704.3" y="1451.9" width="26.3" height="428.4" fill="url(#gr)"/>
<rect x="1704.3" y="1451.9" width="26.3" height="428.4" fill="url(#hr)"/>
<rect x="1752.6" y="1597.0" width="26" height="283.3" fill="url(#gp)"/>
<rect x="1752.6" y="1597.0" width="26" height="283.3" fill="url(#hp)"/>
<rect x="1779.6" y="1522.7" width="26" height="357.6" fill="url(#gg)"/>
<rect x="1779.6" y="1522.7" width="26" height="357.6" fill="url(#hg)"/>
<rect x="1807.1" y="1546.4" width="26.3" height="333.9" fill="url(#gr)"/>
<rect x="1807.1" y="1546.4" width="26.3" height="333.9" fill="url(#hr)"/>
<rect x="1855.3" y="1536.1" width="26" height="344.2" fill="url(#gp)"/>
<rect x="1855.3" y="1536.1" width="26" height="344.2" fill="url(#hp)"/>
<rect x="1882.3" y="1548.0" width="26" height="332.3" fill="url(#gg)"/>
<rect x="1882.3" y="1548.0" width="26" height="332.3" fill="url(#hg)"/>
<rect x="1909.8" y="1706.6" width="26.3" height="173.7" fill="url(#gr)"/>
<rect x="1909.8" y="1706.6" width="26.3" height="173.7" fill="url(#hr)"/>
<rect x="1958.1" y="1724.7" width="26" height="155.6" fill="url(#gp)"/>
<rect x="1958.1" y="1724.7" width="26" height="155.6" fill="url(#hp)"/>
<rect x="1985.1" y="1676.5" width="26" height="203.8" fill="url(#gg)"/>
<rect x="1985.1" y="1676.5" width="26" height="203.8" fill="url(#hg)"/>
<rect x="2012.6" y="1877.4" width="26.3" height="2.9" fill="url(#gr)"/>
<rect x="2012.6" y="1877.4" width="26.3" height="2.9" fill="url(#hr)"/>
<path d="M1535.5 1367.0V1880.3" stroke="#000" stroke-width="2.3" fill="none"/>
<path d="M1534.35 1880.3H2051" stroke="#000" stroke-width="2.5" fill="none"/>
<path d="M1535.5 1880.3h10.3M1535.5 1841.8h5.6M1535.5 1819.2h5.6M1535.5 1803.2h5.6M1535.5 1790.8h5.6M1535.5 1780.7h5.6M1535.5 1772.1h5.6M1535.5 1764.7h5.6M1535.5 1758.1h5.6M1535.5 1752.2h10.3M1535.5 1713.7h5.6M1535.5 1691.2h5.6M1535.5 1675.2h5.6M1535.5 1662.7h5.6M1535.5 1652.6h5.6M1535.5 1644.0h5.6M1535.5 1636.6h5.6M1535.5 1630.1h5.6M1535.5 1624.2h10.3M1535.5 1585.7h5.6M1535.5 1563.1h5.6M1535.5 1547.1h5.6M1535.5 1534.7h5.6M1535.5 1524.6h5.6M1535.5 1516.0h5.6M1535.5 1508.6h5.6M1535.5 1502.0h5.6M1535.5 1496.1h10.3M1535.5 1457.6h5.6M1535.5 1435.1h5.6M1535.5 1419.1h5.6M1535.5 1406.6h5.6M1535.5 1396.5h5.6M1535.5 1387.9h5.6M1535.5 1380.5h5.6M1535.5 1374.0h5.6M1535.5 1368.1h10.3M1587.2 1880.3v-9.6M1638.6 1880.3v-4.6M1690.0 1880.3v-9.6M1741.4 1880.3v-4.6M1792.7 1880.3v-9.6M1844.1 1880.3v-4.6M1895.5 1880.3v-9.6M1946.9 1880.3v-4.6M1998.2 1880.3v-9.6M2049.6 1880.3v-4.6" stroke="#000" stroke-width="2.2" fill="none"/>
<text x="1524.8" y="1374.9" font-size="21.4" text-anchor="end" fill="#000">1000</text>
<text x="1524.8" y="1503.0" font-size="21.4" text-anchor="end" fill="#000">100</text>
<text x="1524.8" y="1631.0" font-size="21.4" text-anchor="end" fill="#000">10</text>
<text x="1524.8" y="1759.0" font-size="21.4" text-anchor="end" fill="#000">1</text>
<text x="1524.8" y="1887.1" font-size="21.4" text-anchor="end" fill="#000">0.1</text>
<text x="1461.5" y="1623.9" font-size="43.6" text-anchor="middle" fill="#000" transform="rotate(-90 1461.5 1623.9)">Responsivity (A/W)</text>
<text x="1419.5" y="1382.5" font-size="71" fill="#000">g</text>
<rect x="1837.7" y="1364.2" width="210.6" height="84.9" fill="#fff" stroke="#2a2a2a" stroke-width="1.1"/>
<rect x="1842.2" y="1370.0" width="46.9" height="21.8" fill="url(#gp)"/>
<rect x="1842.2" y="1370.0" width="46.9" height="21.8" fill="url(#hp)"/>
<text x="1896" y="1388.2" font-size="21.5" fill="#000">@261 nm (UV)</text>
<rect x="1842.2" y="1396.2" width="46.9" height="21.8" fill="url(#gg)"/>
<rect x="1842.2" y="1396.2" width="46.9" height="21.8" fill="url(#hg)"/>
<text x="1896" y="1414.4" font-size="21.5" fill="#000">@532 nm (Vis)</text>
<rect x="1842.2" y="1422.4" width="46.9" height="21.8" fill="url(#gr)"/>
<rect x="1842.2" y="1422.4" width="46.9" height="21.8" fill="url(#hr)"/>
<text x="1896" y="1440.6" font-size="21.5" fill="#000">@1550 nm (IR)</text>
<text x="1542.3" y="1923.8" font-size="23.7" fill="#808080"><tspan font-size="23.7">TeO</tspan><tspan font-size="14.7" dy="5.8">1.16</tspan></text>
<text x="1638.0" y="1962.5" font-size="24" fill="#ffa8d3" transform="rotate(-29 1638.0 1962.5)"><tspan font-size="24">Te</tspan><tspan font-size="15" dy="5.6">0.7</tspan><tspan font-size="24" dy="-5.6">Se</tspan><tspan font-size="15" dy="5.6">0.3</tspan><tspan font-size="24" dy="-5.6">O</tspan><tspan font-size="15" dy="5.6">0.59</tspan></text>
<text x="1740.7" y="1962.5" font-size="24" fill="#ff2e9d" transform="rotate(-29 1740.7 1962.5)"><tspan font-size="24">Te</tspan><tspan font-size="15" dy="5.6">0.5</tspan><tspan font-size="24" dy="-5.6">Se</tspan><tspan font-size="15" dy="5.6">0.5</tspan><tspan font-size="24" dy="-5.6">O</tspan><tspan font-size="15" dy="5.6">0.32</tspan></text>
<text x="1843.5" y="1962.5" font-size="24" fill="#c00000" transform="rotate(-29 1843.5 1962.5)"><tspan font-size="24">Te</tspan><tspan font-size="15" dy="5.6">0.3</tspan><tspan font-size="24" dy="-5.6">Se</tspan><tspan font-size="15" dy="5.6">0.7</tspan><tspan font-size="24" dy="-5.6">O</tspan><tspan font-size="15" dy="5.6">0.15</tspan></text>
<text x="1995.0" y="1921.8" font-size="23.7" fill="#6b0a45">Se</text>
</svg>
</body></html>
